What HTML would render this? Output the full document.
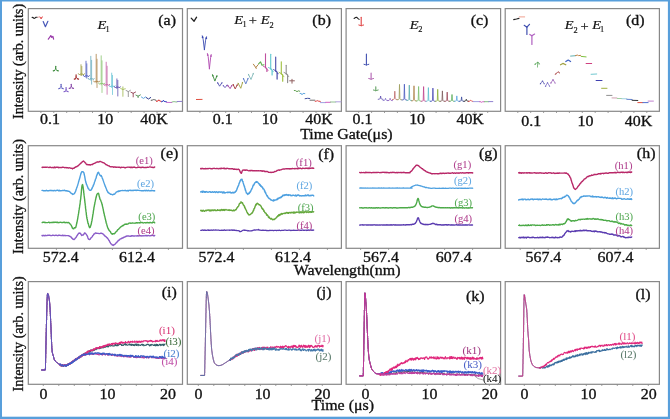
<!DOCTYPE html>
<html><head><meta charset="utf-8"><style>
html,body{margin:0;padding:0;background:#fff;}
body{width:670px;height:419px;overflow:hidden;}
svg{display:block;font-family:"Liberation Serif",serif;will-change:transform;}
</style></head><body>
<svg width="670" height="419" viewBox="0 0 670 419">
<rect x="0" y="0" width="670" height="419" fill="#fff"/>
<rect x="28.3" y="8.6" width="154.2" height="102.7" fill="none" stroke="#888888" stroke-width="1.2"/>
<rect x="187.3" y="8.6" width="154.1" height="102.7" fill="none" stroke="#888888" stroke-width="1.2"/>
<rect x="346.1" y="8.6" width="154.5" height="102.7" fill="none" stroke="#888888" stroke-width="1.2"/>
<rect x="505.2" y="8.6" width="154.2" height="102.7" fill="none" stroke="#888888" stroke-width="1.2"/>
<rect x="28.3" y="145.7" width="154.2" height="102.6" fill="none" stroke="#888888" stroke-width="1.2"/>
<rect x="187.3" y="145.7" width="154.1" height="102.6" fill="none" stroke="#888888" stroke-width="1.2"/>
<rect x="346.1" y="145.7" width="154.5" height="102.6" fill="none" stroke="#888888" stroke-width="1.2"/>
<rect x="505.2" y="145.7" width="154.2" height="102.6" fill="none" stroke="#888888" stroke-width="1.2"/>
<rect x="28.3" y="281.6" width="154.2" height="102.7" fill="none" stroke="#888888" stroke-width="1.2"/>
<rect x="187.3" y="281.6" width="154.1" height="102.7" fill="none" stroke="#888888" stroke-width="1.2"/>
<rect x="346.1" y="281.6" width="154.5" height="102.7" fill="none" stroke="#888888" stroke-width="1.2"/>
<rect x="505.2" y="281.6" width="154.2" height="102.7" fill="none" stroke="#888888" stroke-width="1.2"/>
<line x1="40.9" y1="111.3" x2="40.9" y2="112.89999999999999" stroke="#888888" stroke-width="0.9"/>
<line x1="53.8" y1="111.3" x2="53.8" y2="112.89999999999999" stroke="#888888" stroke-width="0.9"/>
<line x1="66.7" y1="111.3" x2="66.7" y2="112.89999999999999" stroke="#888888" stroke-width="0.9"/>
<line x1="79.6" y1="111.3" x2="79.6" y2="112.89999999999999" stroke="#888888" stroke-width="0.9"/>
<line x1="92.5" y1="111.3" x2="92.5" y2="112.89999999999999" stroke="#888888" stroke-width="0.9"/>
<line x1="105.4" y1="111.3" x2="105.4" y2="112.89999999999999" stroke="#888888" stroke-width="0.9"/>
<line x1="118.3" y1="111.3" x2="118.3" y2="112.89999999999999" stroke="#888888" stroke-width="0.9"/>
<line x1="131.2" y1="111.3" x2="131.2" y2="112.89999999999999" stroke="#888888" stroke-width="0.9"/>
<line x1="144.1" y1="111.3" x2="144.1" y2="112.89999999999999" stroke="#888888" stroke-width="0.9"/>
<line x1="157.0" y1="111.3" x2="157.0" y2="112.89999999999999" stroke="#888888" stroke-width="0.9"/>
<line x1="169.9" y1="111.3" x2="169.9" y2="112.89999999999999" stroke="#888888" stroke-width="0.9"/>
<line x1="199.9" y1="111.3" x2="199.9" y2="112.89999999999999" stroke="#888888" stroke-width="0.9"/>
<line x1="212.8" y1="111.3" x2="212.8" y2="112.89999999999999" stroke="#888888" stroke-width="0.9"/>
<line x1="225.7" y1="111.3" x2="225.7" y2="112.89999999999999" stroke="#888888" stroke-width="0.9"/>
<line x1="238.6" y1="111.3" x2="238.6" y2="112.89999999999999" stroke="#888888" stroke-width="0.9"/>
<line x1="251.5" y1="111.3" x2="251.5" y2="112.89999999999999" stroke="#888888" stroke-width="0.9"/>
<line x1="264.4" y1="111.3" x2="264.4" y2="112.89999999999999" stroke="#888888" stroke-width="0.9"/>
<line x1="277.3" y1="111.3" x2="277.3" y2="112.89999999999999" stroke="#888888" stroke-width="0.9"/>
<line x1="290.2" y1="111.3" x2="290.2" y2="112.89999999999999" stroke="#888888" stroke-width="0.9"/>
<line x1="303.1" y1="111.3" x2="303.1" y2="112.89999999999999" stroke="#888888" stroke-width="0.9"/>
<line x1="316.0" y1="111.3" x2="316.0" y2="112.89999999999999" stroke="#888888" stroke-width="0.9"/>
<line x1="328.9" y1="111.3" x2="328.9" y2="112.89999999999999" stroke="#888888" stroke-width="0.9"/>
<line x1="358.7" y1="111.3" x2="358.7" y2="112.89999999999999" stroke="#888888" stroke-width="0.9"/>
<line x1="371.6" y1="111.3" x2="371.6" y2="112.89999999999999" stroke="#888888" stroke-width="0.9"/>
<line x1="384.5" y1="111.3" x2="384.5" y2="112.89999999999999" stroke="#888888" stroke-width="0.9"/>
<line x1="397.4" y1="111.3" x2="397.4" y2="112.89999999999999" stroke="#888888" stroke-width="0.9"/>
<line x1="410.3" y1="111.3" x2="410.3" y2="112.89999999999999" stroke="#888888" stroke-width="0.9"/>
<line x1="423.2" y1="111.3" x2="423.2" y2="112.89999999999999" stroke="#888888" stroke-width="0.9"/>
<line x1="436.1" y1="111.3" x2="436.1" y2="112.89999999999999" stroke="#888888" stroke-width="0.9"/>
<line x1="449.0" y1="111.3" x2="449.0" y2="112.89999999999999" stroke="#888888" stroke-width="0.9"/>
<line x1="461.9" y1="111.3" x2="461.9" y2="112.89999999999999" stroke="#888888" stroke-width="0.9"/>
<line x1="474.8" y1="111.3" x2="474.8" y2="112.89999999999999" stroke="#888888" stroke-width="0.9"/>
<line x1="487.7" y1="111.3" x2="487.7" y2="112.89999999999999" stroke="#888888" stroke-width="0.9"/>
<line x1="517.8" y1="111.3" x2="517.8" y2="112.89999999999999" stroke="#888888" stroke-width="0.9"/>
<line x1="530.7" y1="111.3" x2="530.7" y2="112.89999999999999" stroke="#888888" stroke-width="0.9"/>
<line x1="543.6" y1="111.3" x2="543.6" y2="112.89999999999999" stroke="#888888" stroke-width="0.9"/>
<line x1="556.5" y1="111.3" x2="556.5" y2="112.89999999999999" stroke="#888888" stroke-width="0.9"/>
<line x1="569.4" y1="111.3" x2="569.4" y2="112.89999999999999" stroke="#888888" stroke-width="0.9"/>
<line x1="582.3" y1="111.3" x2="582.3" y2="112.89999999999999" stroke="#888888" stroke-width="0.9"/>
<line x1="595.2" y1="111.3" x2="595.2" y2="112.89999999999999" stroke="#888888" stroke-width="0.9"/>
<line x1="608.1" y1="111.3" x2="608.1" y2="112.89999999999999" stroke="#888888" stroke-width="0.9"/>
<line x1="621.0" y1="111.3" x2="621.0" y2="112.89999999999999" stroke="#888888" stroke-width="0.9"/>
<line x1="633.9" y1="111.3" x2="633.9" y2="112.89999999999999" stroke="#888888" stroke-width="0.9"/>
<line x1="646.8" y1="111.3" x2="646.8" y2="112.89999999999999" stroke="#888888" stroke-width="0.9"/>
<line x1="56.4" y1="248.3" x2="56.4" y2="249.9" stroke="#888888" stroke-width="0.9"/>
<line x1="84.4" y1="248.3" x2="84.4" y2="249.9" stroke="#888888" stroke-width="0.9"/>
<line x1="112.4" y1="248.3" x2="112.4" y2="249.9" stroke="#888888" stroke-width="0.9"/>
<line x1="140.4" y1="248.3" x2="140.4" y2="249.9" stroke="#888888" stroke-width="0.9"/>
<line x1="168.4" y1="248.3" x2="168.4" y2="249.9" stroke="#888888" stroke-width="0.9"/>
<line x1="215.4" y1="248.3" x2="215.4" y2="249.9" stroke="#888888" stroke-width="0.9"/>
<line x1="243.4" y1="248.3" x2="243.4" y2="249.9" stroke="#888888" stroke-width="0.9"/>
<line x1="271.4" y1="248.3" x2="271.4" y2="249.9" stroke="#888888" stroke-width="0.9"/>
<line x1="299.4" y1="248.3" x2="299.4" y2="249.9" stroke="#888888" stroke-width="0.9"/>
<line x1="327.4" y1="248.3" x2="327.4" y2="249.9" stroke="#888888" stroke-width="0.9"/>
<line x1="360.6" y1="248.3" x2="360.6" y2="249.9" stroke="#888888" stroke-width="0.9"/>
<line x1="388.6" y1="248.3" x2="388.6" y2="249.9" stroke="#888888" stroke-width="0.9"/>
<line x1="416.6" y1="248.3" x2="416.6" y2="249.9" stroke="#888888" stroke-width="0.9"/>
<line x1="444.6" y1="248.3" x2="444.6" y2="249.9" stroke="#888888" stroke-width="0.9"/>
<line x1="472.6" y1="248.3" x2="472.6" y2="249.9" stroke="#888888" stroke-width="0.9"/>
<line x1="520.2" y1="248.3" x2="520.2" y2="249.9" stroke="#888888" stroke-width="0.9"/>
<line x1="534.2" y1="248.3" x2="534.2" y2="249.9" stroke="#888888" stroke-width="0.9"/>
<line x1="548.2" y1="248.3" x2="548.2" y2="249.9" stroke="#888888" stroke-width="0.9"/>
<line x1="562.2" y1="248.3" x2="562.2" y2="249.9" stroke="#888888" stroke-width="0.9"/>
<line x1="576.2" y1="248.3" x2="576.2" y2="249.9" stroke="#888888" stroke-width="0.9"/>
<line x1="590.2" y1="248.3" x2="590.2" y2="249.9" stroke="#888888" stroke-width="0.9"/>
<line x1="604.2" y1="248.3" x2="604.2" y2="249.9" stroke="#888888" stroke-width="0.9"/>
<line x1="618.2" y1="248.3" x2="618.2" y2="249.9" stroke="#888888" stroke-width="0.9"/>
<line x1="632.2" y1="248.3" x2="632.2" y2="249.9" stroke="#888888" stroke-width="0.9"/>
<line x1="646.2" y1="248.3" x2="646.2" y2="249.9" stroke="#888888" stroke-width="0.9"/>
<line x1="43.3" y1="384.3" x2="43.3" y2="385.90000000000003" stroke="#888888" stroke-width="0.9"/>
<line x1="58.8" y1="384.3" x2="58.8" y2="385.90000000000003" stroke="#888888" stroke-width="0.9"/>
<line x1="74.3" y1="384.3" x2="74.3" y2="385.90000000000003" stroke="#888888" stroke-width="0.9"/>
<line x1="89.8" y1="384.3" x2="89.8" y2="385.90000000000003" stroke="#888888" stroke-width="0.9"/>
<line x1="105.3" y1="384.3" x2="105.3" y2="385.90000000000003" stroke="#888888" stroke-width="0.9"/>
<line x1="120.8" y1="384.3" x2="120.8" y2="385.90000000000003" stroke="#888888" stroke-width="0.9"/>
<line x1="136.3" y1="384.3" x2="136.3" y2="385.90000000000003" stroke="#888888" stroke-width="0.9"/>
<line x1="151.8" y1="384.3" x2="151.8" y2="385.90000000000003" stroke="#888888" stroke-width="0.9"/>
<line x1="167.3" y1="384.3" x2="167.3" y2="385.90000000000003" stroke="#888888" stroke-width="0.9"/>
<line x1="198.3" y1="384.3" x2="198.3" y2="385.90000000000003" stroke="#888888" stroke-width="0.9"/>
<line x1="213.8" y1="384.3" x2="213.8" y2="385.90000000000003" stroke="#888888" stroke-width="0.9"/>
<line x1="229.3" y1="384.3" x2="229.3" y2="385.90000000000003" stroke="#888888" stroke-width="0.9"/>
<line x1="244.8" y1="384.3" x2="244.8" y2="385.90000000000003" stroke="#888888" stroke-width="0.9"/>
<line x1="260.3" y1="384.3" x2="260.3" y2="385.90000000000003" stroke="#888888" stroke-width="0.9"/>
<line x1="275.8" y1="384.3" x2="275.8" y2="385.90000000000003" stroke="#888888" stroke-width="0.9"/>
<line x1="291.3" y1="384.3" x2="291.3" y2="385.90000000000003" stroke="#888888" stroke-width="0.9"/>
<line x1="306.8" y1="384.3" x2="306.8" y2="385.90000000000003" stroke="#888888" stroke-width="0.9"/>
<line x1="322.3" y1="384.3" x2="322.3" y2="385.90000000000003" stroke="#888888" stroke-width="0.9"/>
<line x1="365.3" y1="384.3" x2="365.3" y2="385.90000000000003" stroke="#888888" stroke-width="0.9"/>
<line x1="380.8" y1="384.3" x2="380.8" y2="385.90000000000003" stroke="#888888" stroke-width="0.9"/>
<line x1="396.3" y1="384.3" x2="396.3" y2="385.90000000000003" stroke="#888888" stroke-width="0.9"/>
<line x1="411.8" y1="384.3" x2="411.8" y2="385.90000000000003" stroke="#888888" stroke-width="0.9"/>
<line x1="427.3" y1="384.3" x2="427.3" y2="385.90000000000003" stroke="#888888" stroke-width="0.9"/>
<line x1="442.8" y1="384.3" x2="442.8" y2="385.90000000000003" stroke="#888888" stroke-width="0.9"/>
<line x1="458.3" y1="384.3" x2="458.3" y2="385.90000000000003" stroke="#888888" stroke-width="0.9"/>
<line x1="473.8" y1="384.3" x2="473.8" y2="385.90000000000003" stroke="#888888" stroke-width="0.9"/>
<line x1="489.3" y1="384.3" x2="489.3" y2="385.90000000000003" stroke="#888888" stroke-width="0.9"/>
<line x1="524.3" y1="384.3" x2="524.3" y2="385.90000000000003" stroke="#888888" stroke-width="0.9"/>
<line x1="539.8" y1="384.3" x2="539.8" y2="385.90000000000003" stroke="#888888" stroke-width="0.9"/>
<line x1="555.3" y1="384.3" x2="555.3" y2="385.90000000000003" stroke="#888888" stroke-width="0.9"/>
<line x1="570.8" y1="384.3" x2="570.8" y2="385.90000000000003" stroke="#888888" stroke-width="0.9"/>
<line x1="586.3" y1="384.3" x2="586.3" y2="385.90000000000003" stroke="#888888" stroke-width="0.9"/>
<line x1="601.8" y1="384.3" x2="601.8" y2="385.90000000000003" stroke="#888888" stroke-width="0.9"/>
<line x1="617.3" y1="384.3" x2="617.3" y2="385.90000000000003" stroke="#888888" stroke-width="0.9"/>
<line x1="632.8" y1="384.3" x2="632.8" y2="385.90000000000003" stroke="#888888" stroke-width="0.9"/>
<line x1="648.3" y1="384.3" x2="648.3" y2="385.90000000000003" stroke="#888888" stroke-width="0.9"/>
<polyline points="42.0,167.3 42.3,167.2 42.7,167.5 43.1,167.1 43.6,167.4 44.1,167.3 44.6,167.1 45.1,167.4 45.7,167.1 46.3,167.4 47.0,167.1 47.6,167.1 48.3,167.4 49.0,167.6 49.7,167.2 50.4,167.2 51.1,167.5 51.8,167.7 52.5,167.5 53.2,167.4 53.9,167.8 54.6,167.1 55.3,167.7 56.0,167.3 56.6,167.2 57.3,167.2 57.9,167.3 58.4,167.7 59.0,167.3 59.5,167.5 60.0,167.6 60.9,167.4 61.7,167.6 62.5,167.2 63.2,167.3 63.9,167.4 64.6,167.7 65.3,167.6 65.9,167.5 66.5,167.8 67.1,167.7 67.6,167.6 68.2,168.0 68.7,168.0 69.1,167.7 69.6,167.9 70.0,167.9 71.0,168.3 71.7,168.4 72.1,168.3 72.5,168.9 73.2,168.1 73.7,168.2 74.2,168.2 74.7,167.5 75.3,167.4 75.9,166.7 76.4,166.8 77.0,166.5 77.6,166.0 78.1,165.8 78.6,165.1 79.2,164.9 79.7,164.3 80.2,163.8 80.7,163.2 81.2,163.0 81.6,162.7 82.0,162.0 82.4,161.8 83.4,161.0 84.0,161.6 84.5,161.8 85.0,162.6 85.3,162.9 85.7,163.1 86.1,163.8 86.6,164.5 87.2,164.4 87.7,164.8 88.3,164.7 88.9,164.7 89.5,164.7 90.2,165.1 90.9,164.6 91.5,164.5 92.0,164.4 92.6,164.5 93.2,163.7 93.7,163.6 94.3,163.4 94.8,163.3 95.3,162.9 95.8,162.8 96.5,162.1 97.2,162.0 97.8,161.8 98.4,162.0 99.0,162.0 99.6,161.5 100.3,161.5 100.9,161.7 101.6,161.9 102.3,162.3 102.8,162.6 103.3,162.6 103.9,162.8 104.5,163.4 105.0,163.7 105.6,164.2 106.1,164.7 106.6,164.8 107.3,165.1 107.8,165.5 108.4,165.9 109.0,165.7 109.8,166.6 110.3,166.6 110.7,166.8 111.2,166.9 111.7,166.8 112.2,166.9 112.8,166.8 113.5,167.3 114.2,167.0 115.1,167.0 116.0,167.2 116.4,167.2 116.9,167.3 117.4,167.1 117.8,167.1 118.3,167.2 118.8,167.2 119.3,167.4 119.9,167.2 120.4,167.8 121.0,167.6 121.5,167.2 122.1,167.3 122.8,167.4 123.4,167.4 124.0,167.2 124.7,167.7 125.4,167.8 126.1,167.4 126.8,167.4 127.6,167.1 128.4,167.1 129.2,167.3 130.0,167.2 130.5,167.6 131.0,167.2 131.5,167.1 132.1,167.7 132.7,167.4 133.3,167.1 133.9,167.4 134.5,167.0 135.2,167.4 135.8,167.7 136.5,167.6 137.2,167.5 137.9,167.2 138.6,167.2 139.3,167.1 140.0,167.5 140.7,167.3 141.4,167.5 142.2,167.2 142.9,167.1 143.6,167.5 144.3,167.6 145.0,167.5 145.7,167.5 146.4,167.5 147.0,167.4 147.7,167.1 148.3,167.3 149.0,167.1 149.6,166.9 150.2,166.9 150.7,167.1 151.3,167.1 151.8,167.4 152.3,167.5 152.8,167.2 153.2,167.5 153.6,167.6 154.0,167.5 154.4,167.1 154.7,167.0" fill="none" stroke="#b82868" stroke-width="1.4" stroke-linejoin="round" stroke-linecap="round" opacity="1.0" />
<polyline points="42.0,190.4 42.3,190.4 42.7,190.4 43.1,190.7 43.6,190.9 44.1,190.8 44.6,190.6 45.2,190.7 45.8,190.8 46.4,190.3 47.0,190.7 47.7,190.8 48.4,190.7 49.1,190.7 49.8,190.5 50.5,190.3 51.2,190.7 51.9,190.4 52.7,190.7 53.4,190.8 54.1,190.4 54.8,190.4 55.4,190.8 56.1,190.6 56.8,190.3 57.4,190.2 58.0,190.2 58.5,190.8 59.1,190.7 59.5,190.2 60.0,190.7 61.0,190.8 61.8,190.6 62.6,190.4 63.3,190.6 64.0,190.3 64.6,190.2 65.1,190.9 65.6,190.7 66.1,190.6 66.6,191.0 67.1,190.7 67.5,191.1 68.0,191.2 68.7,191.1 69.3,191.5 69.9,191.9 70.4,192.4 70.9,193.1 71.4,193.3 71.9,193.8 72.3,193.8 72.7,194.5 73.3,194.1 73.7,194.0 74.1,193.8 74.5,193.5 74.9,192.5 75.4,191.9 75.6,191.2 75.8,190.8 75.9,190.3 76.1,189.5 76.3,189.2 76.5,188.5 76.7,187.7 76.9,187.7 77.1,186.6 77.3,186.2 77.5,185.7 77.7,185.0 77.9,184.2 78.1,183.7 78.2,183.1 78.4,182.7 78.6,181.6 78.8,181.3 79.0,180.4 79.2,179.7 79.4,179.4 79.6,178.5 79.8,177.8 80.0,177.3 80.1,176.7 80.3,175.7 80.5,175.2 80.7,174.6 80.8,174.0 81.0,173.6 81.2,173.0 81.3,172.7 81.9,171.6 82.4,171.8 82.9,171.8 83.3,172.0 83.6,172.4 84.0,173.1 84.1,173.7 84.2,174.5 84.3,174.9 84.4,175.0 84.5,175.6 84.7,176.4 84.8,176.8 84.9,177.6 85.0,178.2 85.2,179.3 85.3,180.1 85.5,180.9 85.6,181.0 85.8,182.0 85.9,182.6 86.1,182.8 86.3,184.0 86.6,184.7 86.9,184.9 87.2,186.1 87.5,186.4 87.7,187.1 88.0,188.1 88.3,188.6 88.6,188.6 88.9,189.3 89.2,189.7 89.4,189.9 90.1,190.4 90.8,190.3 91.5,189.6 91.7,188.7 91.9,188.7 92.2,188.1 92.4,187.3 92.6,187.0 92.9,186.6 93.2,185.9 93.4,184.9 93.7,184.9 93.9,184.1 94.2,183.5 94.4,182.3 94.7,181.7 94.9,181.0 95.1,180.9 95.3,179.9 95.5,179.2 95.8,178.7 96.0,178.3 96.2,177.6 96.4,176.5 96.6,175.7 96.8,175.6 97.1,174.8 97.3,174.3 97.5,173.4 97.6,173.0 97.8,173.1 98.0,172.6 98.5,172.2 99.0,173.3 99.4,174.0 99.7,175.0 100.1,175.1 100.6,175.9 101.1,175.4 101.7,176.8 101.9,176.8 102.0,177.2 102.2,177.8 102.4,178.6 102.6,178.8 102.8,179.3 103.1,180.2 103.3,180.6 103.5,181.2 103.7,181.9 103.9,182.5 104.2,183.2 104.4,183.9 104.6,184.5 104.9,185.4 105.1,185.7 105.3,186.5 105.6,186.9 105.8,187.7 106.1,188.1 106.3,188.9 106.6,189.3 106.8,190.3 107.1,190.7 107.3,191.0 107.6,191.6 108.1,192.6 108.6,192.5 109.1,193.4 109.6,193.5 110.1,193.8 110.5,194.2 111.0,194.1 111.6,194.4 112.2,194.6 112.7,194.9 113.3,194.3 114.0,194.4 114.4,194.1 114.9,193.8 115.3,193.2 115.8,192.8 116.2,192.2 116.8,191.9 117.3,191.5 118.0,191.7 118.4,191.2 118.8,191.0 119.1,190.8 119.4,191.2 119.7,191.2 120.1,191.0 120.7,190.6 121.4,190.6 122.3,190.5 123.5,190.6 125.0,190.4 125.4,190.6 125.8,190.4 126.3,190.9 126.7,190.9 127.2,190.6 127.8,190.4 128.3,190.9 128.9,190.4 129.5,190.4 130.1,190.2 130.7,190.5 131.4,190.5 132.0,190.5 132.7,190.3 133.4,190.5 134.1,190.2 134.8,190.4 135.5,190.2 136.2,190.5 137.0,190.2 137.7,190.2 138.4,190.4 139.2,190.4 139.9,190.6 140.7,190.6 141.4,190.7 142.1,190.7 142.9,190.7 143.6,190.8 144.3,190.5 145.0,190.4 145.7,190.9 146.4,190.3 147.1,190.7 147.7,190.7 148.4,190.3 149.0,190.8 149.6,190.9 150.2,190.7 150.7,190.8 151.3,190.8 151.8,190.3 152.3,190.6 152.8,190.6 153.2,190.8 153.6,190.8 154.0,190.8 154.4,190.7 154.7,190.9" fill="none" stroke="#4da0e0" stroke-width="1.4" stroke-linejoin="round" stroke-linecap="round" opacity="1.0" />
<polyline points="42.0,222.6 42.3,222.6 42.7,222.3 43.1,222.2 43.5,222.2 44.0,222.4 44.5,222.2 45.1,222.7 45.6,222.5 46.2,222.6 46.9,222.6 47.5,222.6 48.2,222.4 48.9,222.1 49.6,222.7 50.3,222.6 51.0,222.4 51.7,222.5 52.4,222.5 53.2,222.1 53.9,222.6 54.7,222.2 55.4,222.1 56.1,222.2 56.9,222.6 57.6,222.2 58.3,222.6 59.0,222.7 59.6,222.4 60.3,222.3 60.9,222.4 61.5,222.5 62.1,222.6 62.7,222.5 63.2,222.5 63.7,222.2 64.2,222.2 64.6,222.3 65.0,222.7 66.5,222.4 67.6,222.7 68.3,222.4 68.8,222.6 69.1,222.9 69.3,223.3 69.6,223.6 70.0,223.9 70.5,224.1 70.9,224.8 71.3,225.4 71.6,226.1 71.9,226.6 72.2,227.7 72.5,227.7 72.8,228.6 73.7,228.9 74.5,227.7 74.9,227.8 75.3,227.9 75.7,227.5 76.1,226.0 76.2,225.5 76.3,225.0 76.4,225.1 76.5,224.0 76.7,223.8 76.8,222.9 76.9,222.6 77.0,222.3 77.2,221.1 77.3,220.9 77.4,220.0 77.5,219.6 77.7,218.8 77.8,217.7 77.9,217.5 78.0,216.5 78.2,215.4 78.3,214.7 78.4,214.5 78.5,213.9 78.6,213.2 78.7,212.6 78.8,212.1 78.8,211.5 78.9,211.3 79.0,210.1 79.1,210.0 79.2,209.4 79.3,208.2 79.4,208.2 79.5,207.4 79.6,206.9 79.7,205.8 79.8,205.2 79.9,204.6 80.0,204.4 80.1,203.5 80.1,202.7 80.2,202.2 80.3,201.5 80.4,200.7 80.5,200.2 80.5,200.2 80.6,199.2 80.7,199.0 80.8,197.8 80.8,197.1 80.9,196.6 81.0,195.7 81.1,195.1 81.1,194.9 81.2,194.1 81.2,193.4 81.3,192.7 81.3,192.3 81.4,191.7 81.4,190.9 81.5,190.4 81.5,189.5 81.6,189.4 81.6,188.8 81.7,188.6 81.7,188.1 81.9,186.6 82.0,185.7 82.1,185.8 82.2,184.9 82.3,185.0 82.6,184.6 83.0,186.4 83.1,187.0 83.1,187.6 83.2,187.5 83.2,188.3 83.3,188.5 83.4,189.3 83.4,189.7 83.5,190.1 83.6,190.7 83.7,191.4 83.7,192.5 83.8,192.9 83.9,193.4 84.0,194.6 84.1,195.4 84.2,195.7 84.2,196.2 84.3,197.0 84.4,197.6 84.5,198.6 84.6,199.1 84.7,199.8 84.7,200.3 84.8,201.1 84.9,201.9 84.9,202.5 85.0,202.9 85.1,203.5 85.2,204.2 85.2,204.8 85.3,205.4 85.4,205.9 85.5,206.7 85.5,207.9 85.6,208.0 85.7,208.9 85.8,209.6 85.9,210.5 85.9,210.7 86.0,211.4 86.1,212.0 86.2,212.7 86.3,213.4 86.3,214.3 86.4,214.8 86.5,215.4 86.6,215.4 86.6,215.9 86.7,216.9 86.8,217.5 86.9,218.0 87.1,219.0 87.3,219.3 87.4,220.3 87.6,221.4 87.7,222.0 87.9,222.6 88.0,223.3 88.2,223.4 88.3,223.8 88.5,224.3 88.6,225.0 88.8,225.5 88.9,226.1 89.0,226.3 89.6,227.7 90.1,227.4 90.3,226.9 90.4,226.6 90.6,225.8 90.7,225.8 90.9,224.9 91.1,224.7 91.3,223.7 91.5,222.6 91.7,221.4 91.8,221.1 91.9,220.9 92.0,220.4 92.1,219.4 92.2,218.8 92.3,218.6 92.4,218.0 92.5,217.2 92.6,216.5 92.7,216.1 92.8,215.0 92.9,214.5 93.0,214.0 93.1,213.7 93.2,212.8 93.3,212.3 93.4,211.3 93.5,210.5 93.6,209.9 93.7,209.8 93.8,209.0 93.9,208.2 94.0,207.3 94.1,206.9 94.3,206.3 94.4,205.5 94.5,204.7 94.7,204.3 94.8,203.8 94.9,202.6 95.1,201.8 95.2,201.4 95.3,200.8 95.4,200.4 95.6,199.5 95.7,199.3 95.8,198.7 95.9,198.1 96.0,197.4 96.1,197.5 96.4,196.0 96.6,195.6 96.8,194.7 97.0,194.2 97.2,194.3 97.4,193.7 97.9,193.5 98.3,193.2 98.5,193.3 98.7,193.9 98.9,194.7 99.1,195.6 99.2,196.4 99.4,196.5 99.5,197.3 99.7,197.9 99.9,199.1 100.1,199.1 100.3,199.6 100.6,200.0 100.8,200.6 101.1,201.5 101.4,202.1 101.7,203.0 101.8,203.6 101.9,204.0 102.0,204.0 102.2,204.4 102.3,205.5 102.4,205.9 102.5,206.0 102.6,207.0 102.8,207.4 102.9,208.0 103.0,208.6 103.2,209.2 103.3,209.7 103.4,210.6 103.6,211.3 103.7,212.4 103.9,212.5 104.0,213.7 104.2,213.7 104.3,214.4 104.4,215.3 104.6,216.0 104.7,216.4 104.9,216.7 105.0,217.7 105.2,218.3 105.4,219.4 105.5,219.5 105.7,220.3 105.8,221.3 106.0,221.4 106.1,222.3 106.3,223.2 106.5,223.7 106.6,223.8 106.8,224.3 106.9,224.9 107.1,225.9 107.2,225.9 107.5,227.1 107.8,228.0 108.1,228.3 108.4,228.8 108.6,229.8 108.9,230.0 109.2,230.2 109.4,230.9 109.7,231.0 110.0,231.3 110.5,231.8 110.9,232.9 111.4,233.5 111.9,233.7 112.3,234.2 112.8,233.7 113.3,233.8 113.8,233.8 114.4,233.8 114.9,233.3 115.5,232.4 115.9,231.9 116.3,231.6 116.7,231.2 117.1,230.9 117.5,229.9 118.0,229.7 118.5,229.2 119.0,228.7 119.4,228.3 119.9,227.8 120.4,227.2 120.8,226.9 121.3,226.5 121.9,226.4 122.4,225.6 122.9,225.4 123.5,225.5 124.0,224.8 124.5,224.4 125.1,224.2 125.6,224.4 126.1,224.0 126.7,224.3 127.3,224.1 127.9,224.0 128.5,223.4 129.2,223.1 130.0,223.0 130.5,223.2 131.0,223.3 131.6,223.1 132.1,222.9 132.7,223.0 133.3,223.1 133.8,223.1 134.5,223.1 135.1,223.2 135.7,223.0 136.4,222.6 137.1,223.1 137.8,222.7 138.5,222.9 139.2,222.7 140.0,223.0 140.5,222.6 141.1,222.6 141.7,222.6 142.3,222.5 143.0,223.0 143.7,222.8 144.4,222.6 145.1,222.6 145.8,223.0 146.5,222.7 147.3,222.4 148.0,222.8 148.7,222.7 149.4,222.9 150.1,222.3 150.7,222.6 151.3,222.8 151.9,222.8 152.5,222.8 153.0,222.2 153.5,222.4 154.0,222.2 154.4,222.3 154.7,222.8" fill="none" stroke="#4caa48" stroke-width="1.4" stroke-linejoin="round" stroke-linecap="round" opacity="1.0" />
<polyline points="42.0,235.5 42.3,235.8 42.7,235.4 43.1,235.7 43.5,235.5 44.0,235.4 44.5,235.7 45.0,235.8 45.6,235.3 46.2,235.6 46.8,235.6 47.4,235.3 48.1,235.4 48.7,235.3 49.4,235.3 50.1,235.3 50.8,235.6 51.6,235.6 52.3,235.3 53.0,235.2 53.8,235.4 54.5,235.6 55.2,235.3 56.0,235.4 56.7,235.3 57.4,235.7 58.1,235.5 58.8,235.2 59.5,235.3 60.2,235.4 60.8,235.5 61.5,235.6 62.1,235.3 62.7,235.3 63.3,235.7 63.8,235.5 64.3,235.4 64.8,235.5 65.2,235.8 65.6,235.5 66.0,235.6 67.8,235.6 68.8,235.7 69.3,236.1 69.4,236.3 69.6,236.1 70.0,236.3 70.5,236.9 71.0,237.0 71.5,237.4 72.0,238.4 72.5,238.6 73.0,239.2 73.5,239.2 73.9,239.6 74.4,239.2 74.9,238.7 75.3,238.1 75.7,237.8 76.1,237.2 76.5,236.7 76.9,235.7 77.3,235.4 77.7,234.7 78.1,234.1 78.6,233.4 79.0,233.1 79.4,233.0 79.9,233.4 80.4,233.3 80.9,234.1 81.3,234.9 81.8,235.5 82.3,235.2 82.8,235.0 83.2,235.0 83.7,234.5 84.2,233.6 84.6,232.9 85.0,233.3 85.4,233.1 85.9,233.8 86.2,234.2 86.6,235.0 87.0,235.3 87.3,236.2 87.6,236.6 87.8,237.4 88.1,238.4 88.4,239.0 88.7,239.1 89.0,239.4 89.5,239.5 90.0,239.3 90.5,238.7 91.0,237.9 91.5,237.3 91.9,237.1 92.3,236.6 92.8,235.5 93.2,235.2 93.6,234.8 94.0,233.9 94.7,233.8 95.4,233.0 96.1,233.2 96.8,233.2 97.5,233.4 98.3,233.4 99.0,233.6 99.7,233.6 100.4,233.3 101.0,233.3 101.7,233.3 102.2,233.5 102.8,233.7 103.3,234.5 103.9,234.9 104.5,235.3 104.9,236.0 105.3,236.4 105.8,236.7 106.3,236.9 106.7,237.6 107.2,237.8 107.6,238.3 108.0,239.0 108.4,239.3 108.8,240.1 109.2,240.8 109.5,241.1 109.8,242.1 110.2,242.3 110.5,243.1 111.0,243.8 111.4,244.2 111.9,244.4 112.3,245.0 112.8,245.1 113.3,245.4 113.8,244.7 114.3,244.7 114.9,244.3 115.5,243.6 115.9,243.3 116.3,242.5 116.7,242.6 117.1,241.8 117.5,241.6 118.0,241.1 118.5,240.2 119.0,240.2 119.5,239.9 120.0,239.1 120.5,238.9 121.1,238.8 121.6,238.2 122.2,238.3 122.8,237.7 123.4,237.7 124.0,237.1 124.5,237.1 124.8,237.2 125.1,236.6 125.4,236.5 125.8,236.5 126.2,236.3 126.8,236.0 127.6,236.0 128.6,235.9 130.0,236.3 130.4,236.1 130.8,236.2 131.3,235.7 131.8,236.1 132.3,235.7 132.8,235.9 133.4,236.0 134.0,235.8 134.6,236.1 135.3,235.9 135.9,235.9 136.6,236.0 137.3,235.6 138.0,236.1 138.7,235.8 139.4,235.7 140.2,235.9 140.9,235.6 141.6,236.0 142.4,235.8 143.1,235.6 143.8,235.9 144.6,235.7 145.3,235.5 146.0,235.8 146.7,235.4 147.4,235.9 148.1,235.5 148.7,235.7 149.4,235.9 150.0,235.7 150.6,235.7 151.2,235.5 151.7,235.3 152.2,235.3 152.7,235.4 153.2,235.7 153.6,235.6 154.0,235.6 154.4,235.8 154.7,235.4" fill="none" stroke="#8a5cc8" stroke-width="1.4" stroke-linejoin="round" stroke-linecap="round" opacity="1.0" />
<polyline points="200.7,168.6 201.0,168.9 201.4,168.5 201.8,168.5 202.2,168.7 202.7,168.5 203.2,168.7 203.7,168.6 204.2,168.8 204.8,168.8 205.4,168.5 206.0,168.8 206.6,168.7 207.3,168.5 207.9,168.9 208.6,168.5 209.3,168.4 210.0,168.4 210.7,168.7 211.4,168.8 212.2,168.8 212.9,168.5 213.6,168.4 214.3,168.3 215.1,168.6 215.8,168.6 216.5,168.4 217.2,168.6 217.9,168.5 218.6,168.8 219.3,168.6 220.0,168.3 220.6,168.7 221.2,168.2 221.8,168.5 222.4,168.4 223.0,168.3 223.5,168.2 224.1,168.7 224.5,168.2 225.0,168.5 226.0,168.8 226.8,168.3 227.7,168.4 228.5,168.7 229.2,168.7 229.9,168.8 230.6,168.9 231.2,168.6 231.8,168.7 232.4,168.8 232.9,168.7 233.4,169.2 233.9,169.2 234.3,169.3 234.8,168.9 235.2,169.4 235.6,169.4 236.0,169.3 237.1,169.5 237.8,169.4 238.2,169.2 238.6,169.3 239.0,169.6 239.4,170.0 239.8,170.9 240.2,171.9 240.6,172.6 241.0,173.2 241.3,173.3 241.6,172.8 241.8,172.3 242.0,171.4 242.3,170.9 242.8,170.2 243.2,169.9 243.7,170.1 244.3,170.3 244.8,169.9 245.5,170.4 246.2,170.0 246.9,170.2 247.6,170.3 248.3,170.6 248.9,170.8 249.5,170.7 250.1,170.4 250.7,170.8 251.3,170.4 252.0,170.4 252.7,170.8 253.3,170.6 254.0,170.7 254.7,170.7 255.3,170.9 256.0,170.6 256.6,170.8 257.2,170.8 257.8,170.9 258.4,170.7 259.0,170.9 259.6,170.9 260.2,170.7 260.8,170.7 261.4,171.0 262.0,170.8 262.6,171.3 263.2,170.9 263.8,170.9 264.4,171.1 265.1,171.7 265.8,171.4 266.4,171.5 267.1,171.5 267.8,171.7 268.4,172.2 269.0,172.3 269.7,172.4 270.3,172.5 270.9,172.1 271.5,172.5 272.2,172.3 272.8,172.4 273.4,172.2 274.0,172.1 274.6,171.4 275.2,171.6 275.8,171.4 276.4,171.2 277.0,170.5 277.7,170.3 278.2,170.1 278.8,169.9 279.3,170.3 279.8,170.1 280.3,169.9 280.8,169.9 281.4,169.6 282.0,169.3 282.6,169.1 283.3,168.9 284.1,169.2 285.0,168.8 285.5,168.9 285.9,168.9 286.5,168.6 287.0,168.7 287.5,168.7 288.1,168.9 288.7,168.7 289.3,168.7 289.9,169.0 290.5,168.7 291.1,168.9 291.8,168.8 292.4,168.4 293.1,168.6 293.7,168.6 294.4,168.8 295.0,168.5 295.7,168.7 296.3,168.6 297.0,168.4 297.6,168.8 298.2,168.3 298.8,168.7 299.4,168.3 300.0,168.2 300.7,168.3 301.3,168.6 302.0,168.7 302.8,168.1 303.5,168.4 304.2,168.4 304.9,168.6 305.7,168.2 306.4,168.3 307.1,168.2 307.8,168.5 308.5,168.2 309.1,168.6 309.8,168.1 310.4,168.1 311.0,168.4 311.5,168.2 312.1,168.0 312.5,168.3 313.0,168.0 313.4,168.4 313.7,168.3" fill="none" stroke="#b82868" stroke-width="1.4" stroke-linejoin="round" stroke-linecap="round" opacity="1.0" />
<polyline points="200.7,192.0 200.9,191.9 201.2,191.5 201.5,191.6 201.8,191.6 202.1,192.2 202.4,191.3 202.8,192.2 203.1,191.2 203.5,191.4 203.9,191.5 204.3,192.3 204.8,191.8 205.2,191.7 205.6,192.3 206.1,191.5 206.6,191.8 207.1,191.9 207.6,192.2 208.1,192.2 208.6,192.1 209.1,191.8 209.6,191.8 210.1,191.6 210.7,192.4 211.2,192.2 211.7,192.3 212.3,191.7 212.8,192.0 213.4,192.4 213.9,192.2 214.4,191.7 215.0,192.1 215.5,192.6 216.1,191.8 216.6,191.8 217.1,192.0 217.6,192.5 218.1,192.6 218.7,191.8 219.2,191.8 219.7,192.0 220.1,192.1 220.6,192.3 221.1,191.9 221.5,192.1 222.0,192.0 222.4,192.9 222.8,192.6 223.2,191.9 223.6,192.9 224.0,191.9 224.3,192.2 224.7,193.0 225.0,192.8 225.8,192.7 226.6,192.4 227.3,192.1 227.9,192.7 228.5,192.1 229.1,192.2 229.6,192.5 230.1,192.1 230.6,192.6 231.0,193.1 231.4,193.0 231.7,192.8 232.1,192.9 232.4,192.7 232.8,192.3 233.1,192.8 233.4,192.5 233.7,192.9 234.0,193.0 234.3,192.3 234.8,192.3 235.2,192.2 235.5,191.6 235.8,191.0 236.0,191.3 236.2,191.1 236.4,190.6 236.6,190.0 236.8,189.8 237.0,189.1 237.2,188.6 237.4,187.8 237.6,187.3 237.8,187.3 237.9,186.2 238.1,186.2 238.3,186.1 238.5,185.6 238.7,185.0 238.9,184.0 239.0,183.7 239.2,183.2 239.4,183.0 239.6,182.2 239.8,182.1 239.9,182.0 240.1,180.7 240.2,180.9 240.4,180.8 240.5,180.1 241.1,179.3 241.5,179.7 242.0,179.2 242.1,180.1 242.3,179.9 242.4,181.0 242.6,181.6 242.7,181.5 242.9,181.4 243.1,182.5 243.2,182.9 243.4,183.7 243.6,183.9 243.7,184.6 243.9,185.3 244.1,185.5 244.2,185.8 244.4,186.9 244.5,186.5 244.7,187.5 244.8,187.7 245.0,188.6 245.1,188.3 245.2,189.9 245.4,189.6 245.5,189.8 245.6,190.5 245.8,191.1 245.9,191.1 246.1,192.0 246.2,192.4 246.4,193.0 246.5,192.9 246.7,193.0 247.1,193.3 247.5,194.1 247.9,194.4 248.4,193.8 248.8,193.1 249.3,193.4 249.8,192.4 250.0,191.9 250.2,191.5 250.4,192.0 250.6,191.6 250.8,191.0 251.0,190.4 251.2,190.0 251.4,189.2 251.6,189.6 251.9,188.4 252.1,188.2 252.3,188.0 252.5,187.5 252.7,186.6 252.9,186.0 253.1,185.9 253.3,185.0 253.5,185.5 253.7,184.6 254.1,184.7 254.4,183.5 254.8,183.1 255.1,182.6 255.5,182.5 255.8,182.0 256.1,181.6 256.5,182.3 256.8,181.7 257.1,181.7 257.5,182.0 257.8,182.4 258.1,182.7 258.5,183.3 258.8,183.7 259.2,183.8 259.5,184.9 259.9,185.2 260.2,184.6 260.5,185.8 260.7,186.2 261.0,186.4 261.3,185.9 261.7,187.1 262.0,187.2 262.3,186.9 262.6,187.2 262.9,188.8 263.2,188.8 263.5,188.8 263.8,189.0 264.0,189.4 264.3,189.9 264.5,191.0 264.7,190.9 264.9,191.0 265.1,192.4 265.4,192.7 265.6,192.4 265.8,193.7 266.0,193.8 266.3,194.4 266.5,194.7 266.7,195.4 266.9,195.7 267.1,196.1 267.4,195.7 267.6,196.6 267.9,196.9 268.2,197.6 268.5,197.6 268.9,198.6 269.2,198.5 269.5,198.5 269.8,198.8 270.1,199.0 270.5,199.7 270.8,199.4 271.1,200.1 271.5,199.9 271.9,200.4 272.4,200.5 272.9,200.5 273.3,200.9 273.8,199.8 274.3,200.6 274.8,200.0 275.3,200.0 275.7,200.0 276.2,200.0 276.6,199.3 277.0,199.2 277.5,199.6 277.9,198.3 278.3,198.8 278.7,198.5 279.2,197.6 279.6,198.0 280.0,197.9 280.4,197.9 280.8,197.0 281.2,197.5 281.6,196.7 281.9,196.4 282.2,196.6 282.6,195.3 282.9,195.9 283.3,195.5 283.8,195.0 284.3,195.4 285.0,194.7 285.3,194.8 285.7,194.9 286.0,195.2 286.3,194.5 286.7,194.8 287.1,194.8 287.5,195.0 287.8,195.3 288.2,194.7 288.7,195.4 289.1,194.9 289.5,195.1 290.0,194.9 290.5,195.2 291.0,195.8 291.5,195.5 292.0,195.7 292.6,195.2 293.1,195.2 293.7,195.2 294.4,195.6 295.0,195.7 295.4,195.8 295.7,195.0 296.1,195.8 296.6,196.0 297.0,195.6 297.4,195.0 297.9,195.3 298.4,194.9 298.9,195.2 299.4,196.0 299.9,195.7 300.4,195.7 300.9,195.9 301.5,196.0 302.0,195.6 302.5,195.6 303.1,195.7 303.6,195.7 304.2,195.6 304.7,195.7 305.2,195.1 305.8,195.7 306.3,195.4 306.8,195.8 307.4,195.0 307.9,195.1 308.4,194.9 308.9,195.8 309.3,195.9 309.8,195.6 310.2,195.3 310.7,195.8 311.1,195.8 311.5,195.5 311.9,195.1 312.2,195.2 312.6,195.3 312.9,195.2 313.2,195.3 313.5,195.6 313.7,195.9" fill="none" stroke="#4da0e0" stroke-width="1.4" stroke-linejoin="round" stroke-linecap="round" opacity="1.0" />
<polyline points="200.7,210.3 200.9,210.9 201.2,210.3 201.5,210.4 201.8,211.1 202.1,210.8 202.4,211.2 202.8,210.7 203.1,210.2 203.5,210.6 203.9,210.8 204.3,211.2 204.8,211.2 205.2,210.6 205.6,210.5 206.1,210.2 206.6,210.7 207.1,210.3 207.6,210.2 208.1,210.0 208.6,210.0 209.1,210.7 209.6,210.1 210.1,211.0 210.7,210.0 211.2,210.8 211.7,210.0 212.3,209.9 212.8,210.6 213.4,210.1 213.9,210.6 214.4,210.0 215.0,209.8 215.5,210.6 216.1,210.5 216.6,210.6 217.1,210.5 217.6,209.7 218.1,210.3 218.7,210.4 219.2,210.1 219.7,210.6 220.1,209.8 220.6,210.6 221.1,210.3 221.5,209.5 222.0,209.5 222.4,210.2 222.8,210.4 223.2,209.6 223.6,209.8 224.0,210.3 224.3,209.6 224.7,210.4 225.0,210.0 225.8,209.5 226.6,209.9 227.3,210.1 227.9,210.0 228.5,210.3 229.1,209.7 229.6,210.5 230.1,210.0 230.6,210.4 231.0,210.4 231.4,210.2 231.7,210.2 232.1,210.7 232.4,210.9 232.8,210.7 233.1,210.5 233.4,210.2 233.7,209.9 234.0,210.9 234.3,210.5 234.9,210.5 235.4,209.7 235.8,209.7 236.1,209.8 236.3,209.3 236.5,208.7 236.8,208.0 237.1,207.7 237.4,207.7 237.7,206.8 237.9,206.8 238.2,206.3 238.5,206.2 238.8,205.6 239.1,204.5 239.4,203.7 239.6,203.6 239.9,203.3 240.2,203.1 240.5,203.1 240.8,202.9 241.0,201.8 241.3,202.6 241.6,202.6 241.9,202.8 242.2,202.7 242.5,202.7 242.7,203.7 243.0,204.1 243.2,204.5 243.5,205.3 243.8,205.2 244.1,205.5 244.4,206.6 244.6,207.2 244.8,206.9 245.0,207.9 245.2,208.6 245.4,208.3 245.6,209.2 245.9,209.8 246.1,210.0 246.3,210.3 246.5,210.8 246.8,211.8 247.0,212.3 247.2,212.4 247.4,212.4 247.6,213.5 247.9,213.8 248.1,213.5 248.3,214.1 248.8,214.8 249.2,215.0 249.7,214.6 250.2,214.5 250.6,214.5 251.1,213.7 251.6,213.2 252.1,212.6 252.3,213.0 252.5,212.3 252.7,212.2 252.9,211.6 253.1,211.3 253.3,210.5 253.5,209.9 253.7,210.5 253.9,209.3 254.1,208.5 254.3,208.5 254.6,208.2 254.8,207.0 255.0,207.0 255.2,206.2 255.4,205.9 255.6,205.0 255.8,204.6 256.0,205.3 256.2,204.8 256.4,204.1 256.6,203.9 256.8,203.4 257.2,203.8 257.6,203.3 258.0,204.0 258.4,204.0 258.8,204.4 259.1,204.9 259.5,204.6 259.9,204.8 260.3,205.5 260.7,205.9 261.0,206.1 261.2,206.4 261.5,207.3 261.7,208.0 262.0,207.9 262.3,208.8 262.5,209.2 262.8,208.6 263.1,209.6 263.4,209.8 263.6,209.9 263.9,211.3 264.2,210.9 264.5,211.7 264.7,212.1 265.0,212.8 265.3,212.9 265.6,213.0 265.9,213.4 266.2,213.5 266.5,214.8 266.9,215.3 267.2,214.8 267.5,215.0 267.8,215.7 268.1,216.1 268.4,217.1 268.8,217.4 269.1,217.7 269.4,217.1 269.7,218.2 270.0,218.3 270.5,218.6 270.9,219.2 271.4,218.4 271.8,218.7 272.3,219.5 272.8,219.8 273.2,219.6 273.7,219.2 274.1,219.4 274.6,219.5 274.9,218.6 275.3,218.7 275.6,218.3 275.9,217.9 276.2,218.0 276.6,217.3 276.9,217.0 277.2,216.5 277.5,216.7 277.9,215.6 278.2,216.1 278.6,215.2 278.9,214.7 279.3,215.5 279.7,214.5 280.0,215.1 280.4,214.8 280.7,214.7 281.0,213.7 281.3,213.9 281.7,213.4 282.1,214.2 282.5,214.0 283.0,213.6 283.6,213.4 284.3,213.1 285.0,213.6 285.3,213.1 285.7,213.3 286.0,212.7 286.4,212.7 286.8,212.5 287.2,213.2 287.6,213.0 288.0,212.5 288.5,213.3 288.9,212.6 289.4,212.7 289.8,212.4 290.3,212.5 290.8,213.1 291.3,212.5 291.8,212.3 292.2,212.6 292.7,212.4 293.2,213.0 293.7,212.1 294.2,213.1 294.8,212.0 295.3,212.9 295.8,212.7 296.2,212.1 296.7,212.4 297.2,212.2 297.7,212.1 298.2,212.0 298.7,212.2 299.1,212.9 299.6,212.9 300.0,212.8 300.5,211.8 301.0,212.0 301.5,212.7 302.0,211.7 302.5,212.5 303.0,212.0 303.6,212.7 304.1,211.6 304.6,212.5 305.2,212.0 305.7,211.7 306.2,211.6 306.8,212.5 307.3,212.1 307.8,211.7 308.3,212.0 308.8,212.5 309.3,211.8 309.7,212.1 310.2,211.7 310.6,211.7 311.1,212.3 311.5,212.3 311.9,211.7 312.2,211.6 312.6,211.6 312.9,212.1 313.2,212.0 313.5,211.8 313.7,211.7" fill="none" stroke="#66a83c" stroke-width="1.4" stroke-linejoin="round" stroke-linecap="round" opacity="1.0" />
<polyline points="200.7,230.3 201.0,230.3 201.4,230.4 201.7,230.2 202.1,230.1 202.6,230.0 203.0,230.3 203.5,230.2 204.0,230.3 204.5,230.0 205.0,230.4 205.6,230.1 206.2,230.4 206.8,230.4 207.4,230.2 208.0,229.9 208.7,230.4 209.3,230.2 210.0,230.4 210.7,230.1 211.4,230.0 212.1,230.3 212.8,230.1 213.5,230.0 214.2,230.1 215.0,230.2 215.7,229.9 216.4,230.2 217.2,230.1 217.9,230.2 218.6,230.0 219.4,230.3 220.1,230.3 220.9,230.3 221.6,230.1 222.3,230.3 223.0,230.1 223.8,230.3 224.5,229.9 225.2,230.4 225.9,230.4 226.5,230.2 227.2,230.2 227.8,230.2 228.5,230.2 229.1,230.0 229.7,230.4 230.3,230.1 230.9,230.1 231.4,230.0 231.9,230.1 232.5,230.4 232.9,230.0 233.4,230.1 233.8,230.4 234.3,230.1 234.6,230.0 235.0,230.3 237.0,230.5 238.3,230.6 239.1,231.0 239.4,230.9 239.5,231.5 239.5,231.6 239.6,231.4 240.0,231.5 240.6,231.6 241.2,231.4 241.7,231.0 242.2,230.7 242.7,230.5 243.3,230.1 244.0,230.2 244.5,230.4 245.0,230.0 245.6,230.3 246.2,230.5 246.8,230.3 247.4,230.8 248.0,230.9 248.6,230.7 249.3,230.8 250.0,231.0 250.6,230.8 251.1,230.6 251.7,230.8 252.3,230.6 253.0,230.3 253.6,230.1 254.3,230.0 254.9,230.0 255.5,230.1 256.2,229.9 256.8,229.9 257.4,229.8 258.0,229.8 258.5,229.4 258.8,229.6 258.9,229.9 258.9,230.0 258.9,229.8 259.1,230.0 259.4,230.2 260.1,230.1 261.2,230.3 262.8,230.1 265.0,230.4 265.4,230.4 265.7,230.2 266.1,230.2 266.5,230.6 267.0,230.6 267.4,230.6 267.9,230.5 268.4,230.6 268.8,230.6 269.4,230.6 269.9,230.2 270.4,230.5 271.0,230.3 271.6,230.5 272.1,230.3 272.7,230.4 273.3,230.6 274.0,230.5 274.6,230.3 275.2,230.4 275.9,230.4 276.5,230.6 277.2,230.3 277.9,230.3 278.6,230.5 279.2,230.2 279.9,230.4 280.7,230.6 281.4,230.4 282.1,230.3 282.8,230.4 283.5,230.4 284.3,230.2 285.0,230.2 285.7,230.2 286.5,230.3 287.2,230.3 287.9,230.3 288.7,230.2 289.4,230.1 290.2,230.4 290.9,230.5 291.6,230.4 292.4,230.4 293.1,230.4 293.8,230.2 294.6,230.4 295.3,230.3 296.0,230.3 296.7,230.4 297.4,230.3 298.1,230.2 298.8,230.2 299.5,230.1 300.2,230.3 300.9,230.2 301.6,230.3 302.2,230.0 302.9,230.2 303.5,230.4 304.1,230.1 304.7,230.3 305.4,230.2 305.9,230.1 306.5,230.5 307.1,230.1 307.6,230.4 308.2,230.1 308.7,230.0 309.2,230.4 309.7,230.2 310.2,230.0 310.7,230.2 311.1,230.2 311.5,230.3 311.9,230.0 312.3,230.1 312.7,230.4 313.1,230.3 313.4,230.0 313.7,230.1" fill="none" stroke="#5a3cb0" stroke-width="1.3" stroke-linejoin="round" stroke-linecap="round" opacity="1.0" />
<polyline points="359.7,172.4 360.0,172.6 360.3,172.6 360.7,172.7 361.1,172.7 361.5,172.5 361.9,172.6 362.4,172.6 362.8,172.6 363.3,172.5 363.8,172.6 364.3,172.6 364.8,172.7 365.4,172.3 365.9,172.7 366.5,172.3 367.1,172.6 367.7,172.5 368.3,172.5 369.0,172.7 369.6,172.5 370.2,172.5 370.9,172.6 371.6,172.7 372.3,172.6 373.0,172.4 373.7,172.5 374.4,172.5 375.1,172.6 375.8,172.4 376.5,172.5 377.2,172.5 378.0,172.4 378.7,172.4 379.5,172.6 380.2,172.7 380.9,172.5 381.7,172.5 382.4,172.3 383.2,172.4 383.9,172.3 384.7,172.5 385.4,172.5 386.2,172.3 386.9,172.7 387.6,172.4 388.4,172.7 389.1,172.7 389.8,172.7 390.5,172.4 391.2,172.5 391.9,172.7 392.6,172.3 393.3,172.3 394.0,172.5 394.7,172.5 395.3,172.7 396.0,172.6 396.6,172.5 397.2,172.8 397.8,172.5 398.4,172.5 399.0,172.6 399.6,172.5 400.1,172.4 400.7,172.6 401.2,172.4 401.7,172.7 402.2,172.6 402.6,172.5 403.1,172.3 403.5,172.4 403.9,172.5 404.3,172.5 404.7,172.5 405.0,172.7 407.8,172.7 409.3,172.5 409.9,172.5 409.9,172.7 409.5,172.8 409.3,172.4 409.5,172.4 410.1,172.3 410.6,171.6 411.1,171.2 411.5,171.1 412.0,170.5 412.4,169.8 412.8,169.0 413.3,168.8 413.7,168.1 414.1,167.6 414.5,167.2 415.1,166.6 415.7,165.8 416.2,165.2 416.8,165.1 417.3,165.2 417.8,165.5 418.4,165.7 419.0,166.1 419.5,166.7 420.0,167.1 420.6,167.4 421.2,168.2 421.8,168.5 422.3,168.6 422.9,169.2 423.4,169.8 424.0,170.0 424.5,170.5 425.0,170.6 425.6,171.1 426.2,171.7 426.8,171.9 427.5,172.3 428.0,172.3 428.6,172.6 429.2,172.9 429.8,172.9 430.4,173.3 431.0,173.4 431.7,173.8 432.3,173.7 432.9,173.7 433.6,173.6 434.4,173.6 434.9,173.9 435.4,173.6 435.9,173.6 436.5,173.6 437.1,173.7 437.7,173.8 438.4,173.6 439.2,173.7 440.0,173.3 440.5,173.2 441.0,173.6 441.4,173.3 441.9,173.5 442.4,173.3 442.9,173.2 443.4,173.2 443.9,173.1 444.5,173.5 445.1,173.3 445.8,173.1 446.5,173.2 447.3,173.1 448.1,172.9 449.0,173.3 450.0,173.1 450.5,173.3 451.0,173.1 451.5,173.1 452.0,172.9 452.6,172.8 453.2,173.3 453.8,173.2 454.5,172.9 455.1,173.2 455.8,173.2 456.5,172.9 457.2,173.0 457.9,173.2 458.7,173.0 459.4,173.2 460.1,172.8 460.9,172.9 461.6,173.0 462.3,172.8 463.1,172.8 463.8,173.1 464.5,172.9 465.2,173.0 465.9,172.8 466.6,172.7 467.2,172.8 467.9,172.7 468.5,173.1 469.1,172.7 469.6,172.9 470.2,172.6 470.7,172.8 471.2,172.8 471.6,172.8 472.0,172.6 472.4,172.6 472.7,173.0" fill="none" stroke="#b82868" stroke-width="1.4" stroke-linejoin="round" stroke-linecap="round" opacity="1.0" />
<polyline points="359.7,188.1 360.0,188.0 360.3,188.0 360.7,188.0 361.1,188.0 361.5,188.0 361.9,188.1 362.3,188.1 362.8,188.0 363.3,188.2 363.7,188.0 364.2,188.0 364.8,188.2 365.3,188.0 365.9,188.1 366.4,188.2 367.0,188.2 367.6,188.0 368.2,188.1 368.8,188.2 369.5,188.1 370.1,188.2 370.8,188.0 371.4,188.2 372.1,188.1 372.8,188.0 373.5,188.1 374.2,188.0 374.9,188.2 375.6,188.0 376.3,188.2 377.0,188.1 377.8,188.1 378.5,188.0 379.2,188.1 380.0,188.0 380.7,188.2 381.5,188.0 382.2,188.1 383.0,188.1 383.7,188.0 384.5,188.2 385.2,188.1 386.0,188.2 386.7,188.1 387.5,188.1 388.2,188.1 389.0,188.0 389.7,188.0 390.4,188.2 391.2,188.1 391.9,188.2 392.6,188.0 393.3,188.1 394.0,188.1 394.7,188.1 395.4,188.1 396.1,188.0 396.7,188.1 397.4,188.0 398.0,188.0 398.7,188.2 399.3,188.0 399.9,188.1 400.5,188.2 401.1,188.2 401.7,188.2 402.3,188.2 402.8,188.0 403.3,188.0 403.8,188.0 404.3,188.2 404.8,188.2 405.3,188.1 405.7,188.1 406.2,188.2 406.6,188.2 407.0,188.0 407.3,188.2 407.7,188.1 408.0,188.1 412.1,188.0 411.0,188.0 410.0,188.0 410.5,187.7 411.1,187.4 411.7,186.8 412.3,186.5 413.0,186.2 413.6,186.0 414.2,185.7 414.9,185.5 415.5,185.2 416.2,185.1 416.8,185.1 417.5,185.0 418.1,185.3 418.7,185.3 419.3,185.6 420.0,185.6 420.5,185.8 421.1,186.1 421.7,186.2 422.2,186.3 422.8,186.7 423.4,186.9 424.0,186.9 424.6,187.0 425.2,187.5 425.8,187.5 426.4,187.5 427.2,187.7 428.0,187.8 428.4,188.0 428.7,187.9 428.9,188.2 429.0,188.2 429.2,188.0 429.6,188.2 430.1,188.2 430.8,188.3 431.8,188.4 433.2,188.2 435.0,188.2 435.4,188.4 435.8,188.3 436.2,188.4 436.6,188.4 437.1,188.4 437.6,188.4 438.1,188.3 438.6,188.3 439.2,188.2 439.8,188.4 440.3,188.3 440.9,188.3 441.5,188.4 442.2,188.2 442.8,188.4 443.5,188.2 444.1,188.4 444.8,188.4 445.5,188.2 446.2,188.3 446.9,188.4 447.6,188.3 448.4,188.3 449.1,188.2 449.8,188.2 450.6,188.2 451.3,188.3 452.0,188.2 452.8,188.2 453.5,188.2 454.3,188.3 455.0,188.3 455.8,188.2 456.5,188.2 457.3,188.3 458.0,188.2 458.7,188.4 459.4,188.2 460.2,188.2 460.9,188.4 461.6,188.1 462.2,188.3 462.9,188.2 463.6,188.3 464.2,188.2 464.9,188.3 465.5,188.1 466.1,188.3 466.7,188.3 467.3,188.2 467.9,188.3 468.4,188.3 469.0,188.1 469.5,188.1 469.9,188.2 470.4,188.1 470.9,188.1 471.3,188.1 471.7,188.1 472.0,188.3 472.4,188.2 472.7,188.1" fill="none" stroke="#4da0e0" stroke-width="1.3" stroke-linejoin="round" stroke-linecap="round" opacity="1.0" />
<polyline points="359.7,207.8 360.1,207.9 360.5,207.9 360.9,207.8 361.3,207.8 361.7,207.7 362.1,208.0 362.5,208.0 362.9,207.8 363.3,208.0 363.7,208.0 364.1,207.9 364.5,207.8 364.9,207.9 365.3,207.9 365.7,207.8 366.1,207.9 366.5,207.7 366.9,208.0 367.3,207.9 367.7,207.9 368.1,208.0 368.5,207.9 368.9,207.8 369.3,207.8 369.7,207.8 370.1,207.7 370.5,208.0 370.9,208.0 371.3,207.8 371.7,207.8 372.1,207.9 372.5,208.0 372.9,208.0 373.3,207.8 373.7,208.0 374.1,208.0 374.5,208.0 374.9,207.8 375.3,207.8 375.7,208.0 376.1,207.8 376.5,207.8 376.9,207.9 377.3,207.8 377.7,208.0 378.1,207.8 378.5,207.7 378.9,207.9 379.3,207.9 379.7,208.0 380.1,207.9 380.5,208.0 380.9,208.0 381.3,207.9 381.7,207.9 382.1,207.8 382.5,207.8 382.9,207.9 383.3,207.8 383.7,207.9 384.1,207.8 384.5,207.9 384.9,208.0 385.3,207.8 385.7,207.7 386.1,207.9 386.5,207.8 386.9,207.9 387.3,207.7 387.7,208.0 388.1,208.0 388.5,208.0 388.9,207.8 389.3,207.8 389.7,207.9 390.1,207.9 390.5,207.8 390.9,207.8 391.3,207.8 391.7,207.9 392.1,208.0 392.5,208.0 392.9,207.8 393.3,207.8 393.7,207.8 394.1,207.9 394.5,207.8 394.9,207.8 395.3,207.7 395.7,207.8 396.1,207.8 396.5,208.0 396.9,208.0 397.3,208.0 397.7,208.0 398.1,208.0 398.5,207.9 398.9,207.9 399.3,207.7 399.7,207.9 400.1,207.9 400.5,207.8 400.9,207.8 401.3,207.9 401.7,207.8 402.1,207.8 402.5,207.7 402.9,207.7 403.3,207.9 403.7,207.6 404.1,207.7 404.5,207.8 404.9,207.7 405.3,207.6 405.7,207.8 406.1,207.7 406.5,207.7 406.9,207.7 407.3,207.7 407.7,207.7 408.1,207.6 408.5,207.5 408.9,207.5 409.3,207.7 409.7,207.6 410.1,207.4 410.5,207.6 410.9,207.4 411.3,207.3 411.7,207.4 412.1,207.2 412.5,207.2 412.9,207.1 413.3,206.9 413.7,206.9 414.1,206.5 414.5,206.4 414.9,206.1 415.3,205.5 415.7,205.0 416.1,204.1 416.5,203.0 416.9,201.7 417.3,200.0 417.7,198.7 418.1,198.4 418.5,199.1 418.9,200.9 419.3,202.4 419.7,203.5 420.1,204.7 420.5,205.3 420.9,205.7 421.3,206.3 421.7,206.5 422.1,206.8 422.5,206.7 422.9,207.1 423.3,207.0 423.7,207.1 424.1,207.2 424.5,207.1 424.9,207.4 425.3,207.3 425.7,207.3 426.1,207.4 426.5,207.4 426.9,207.5 427.3,207.4 427.7,207.5 428.1,207.4 428.5,207.4 428.9,207.4 429.3,207.1 429.7,207.1 430.1,206.9 430.5,206.9 430.9,206.7 431.3,206.5 431.7,206.1 432.1,205.9 432.5,205.9 432.9,205.9 433.3,206.0 433.7,206.0 434.1,206.4 434.5,206.4 434.9,206.8 435.3,207.0 435.7,207.0 436.1,207.3 436.5,207.4 436.9,207.3 437.3,207.4 437.7,207.5 438.1,207.7 438.5,207.6 438.9,207.5 439.3,207.5 439.7,207.6 440.1,207.8 440.5,207.6 440.9,207.7 441.3,207.7 441.7,207.8 442.1,207.7 442.5,207.7 442.9,207.9 443.3,207.8 443.7,207.8 444.1,207.9 444.5,207.9 444.9,207.7 445.3,207.8 445.7,207.7 446.1,207.8 446.5,207.9 446.9,207.9 447.3,207.7 447.7,207.7 448.1,207.9 448.5,207.9 448.9,207.8 449.3,207.8 449.7,207.7 450.1,208.0 450.5,207.8 450.9,208.0 451.3,207.9 451.7,207.7 452.1,207.8 452.5,207.8 452.9,208.0 453.3,207.9 453.7,207.7 454.1,207.8 454.5,207.8 454.9,207.9 455.3,207.9 455.7,207.8 456.1,207.8 456.5,207.7 456.9,207.9 457.3,207.8 457.7,207.7 458.1,207.9 458.5,208.0 458.9,207.7 459.3,207.8 459.7,207.9 460.1,207.8 460.5,207.8 460.9,207.9 461.3,207.8 461.7,207.9 462.1,207.9 462.5,208.0 462.9,208.0 463.3,207.7 463.7,207.9 464.1,208.0 464.5,208.0 464.9,208.0 465.3,207.9 465.7,207.9 466.1,207.8 466.5,207.8 466.9,208.0 467.3,208.0 467.7,208.0 468.1,207.9 468.5,207.8 468.9,208.0 469.3,208.0 469.7,207.9 470.1,207.9 470.5,207.8 470.9,207.9 471.3,207.9 471.7,207.8 472.1,207.8 472.5,207.8" fill="none" stroke="#4caa48" stroke-width="1.4" stroke-linejoin="round" stroke-linecap="round" opacity="1.0" />
<polyline points="359.7,225.1 360.1,225.0 360.5,225.0 360.9,224.9 361.3,224.9 361.7,224.9 362.1,224.9 362.5,224.8 362.9,225.1 363.3,225.0 363.7,225.0 364.1,225.0 364.5,224.9 364.9,224.9 365.3,224.9 365.7,224.9 366.1,224.9 366.5,225.1 366.9,225.0 367.3,225.1 367.7,224.9 368.1,225.1 368.5,225.0 368.9,224.9 369.3,224.9 369.7,225.0 370.1,225.1 370.5,224.9 370.9,225.1 371.3,225.0 371.7,225.1 372.1,224.9 372.5,225.0 372.9,225.1 373.3,224.9 373.7,224.9 374.1,224.8 374.5,224.9 374.9,224.9 375.3,225.0 375.7,224.9 376.1,225.0 376.5,224.9 376.9,225.0 377.3,225.1 377.7,225.0 378.1,224.9 378.5,225.1 378.9,225.1 379.3,225.0 379.7,224.9 380.1,225.1 380.5,225.1 380.9,224.9 381.3,224.9 381.7,224.9 382.1,225.0 382.5,225.1 382.9,225.0 383.3,225.1 383.7,224.9 384.1,224.9 384.5,225.1 384.9,225.0 385.3,225.0 385.7,225.0 386.1,224.9 386.5,224.8 386.9,225.0 387.3,224.8 387.7,225.0 388.1,224.9 388.5,225.0 388.9,225.0 389.3,224.9 389.7,225.0 390.1,224.8 390.5,225.1 390.9,225.0 391.3,225.1 391.7,224.8 392.1,225.0 392.5,225.0 392.9,224.9 393.3,224.8 393.7,224.9 394.1,224.9 394.5,225.0 394.9,224.8 395.3,225.1 395.7,224.9 396.1,225.0 396.5,225.0 396.9,225.0 397.3,225.0 397.7,225.0 398.1,224.9 398.5,225.0 398.9,224.9 399.3,225.0 399.7,225.0 400.1,225.0 400.5,224.9 400.9,225.0 401.3,225.1 401.7,224.9 402.1,224.9 402.5,224.9 402.9,225.0 403.3,224.8 403.7,224.8 404.1,224.9 404.5,224.9 404.9,225.0 405.3,224.8 405.7,225.0 406.1,224.8 406.5,224.9 406.9,224.7 407.3,224.7 407.7,224.7 408.1,224.7 408.5,224.8 408.9,224.8 409.3,224.7 409.7,224.9 410.1,224.7 410.5,224.6 410.9,224.5 411.3,224.7 411.7,224.7 412.1,224.4 412.5,224.3 412.9,224.4 413.3,224.2 413.7,224.3 414.1,224.0 414.5,223.8 414.9,223.5 415.3,223.3 415.7,222.7 416.1,222.1 416.5,221.4 416.9,220.2 417.3,219.2 417.7,218.0 418.1,217.7 418.5,218.1 418.9,219.2 419.3,220.2 419.7,221.3 420.1,222.1 420.5,222.8 420.9,223.3 421.3,223.5 421.7,223.7 422.1,223.9 422.5,224.0 422.9,224.2 423.3,224.2 423.7,224.3 424.1,224.5 424.5,224.5 424.9,224.4 425.3,224.7 425.7,224.5 426.1,224.6 426.5,224.5 426.9,224.7 427.3,224.7 427.7,224.5 428.1,224.6 428.5,224.6 428.9,224.4 429.3,224.4 429.7,224.4 430.1,224.4 430.5,224.1 430.9,224.1 431.3,223.9 431.7,223.7 432.1,223.6 432.5,223.5 432.9,223.2 433.3,223.5 433.7,223.4 434.1,223.7 434.5,223.9 434.9,223.9 435.3,224.3 435.7,224.5 436.1,224.3 436.5,224.3 436.9,224.4 437.3,224.8 437.7,224.5 438.1,224.8 438.5,224.6 438.9,224.8 439.3,224.7 439.7,224.7 440.1,224.9 440.5,224.7 440.9,224.8 441.3,225.0 441.7,224.9 442.1,225.0 442.5,225.0 442.9,224.8 443.3,224.8 443.7,225.0 444.1,225.0 444.5,224.8 444.9,224.9 445.3,224.8 445.7,224.9 446.1,224.8 446.5,224.8 446.9,225.1 447.3,224.9 447.7,225.1 448.1,224.8 448.5,224.9 448.9,224.8 449.3,224.9 449.7,224.9 450.1,225.0 450.5,224.9 450.9,225.0 451.3,225.0 451.7,224.8 452.1,224.9 452.5,225.0 452.9,225.1 453.3,224.9 453.7,224.9 454.1,225.1 454.5,225.1 454.9,225.0 455.3,224.9 455.7,224.9 456.1,224.9 456.5,224.8 456.9,224.8 457.3,225.0 457.7,224.9 458.1,225.0 458.5,224.9 458.9,224.8 459.3,225.0 459.7,225.0 460.1,225.0 460.5,225.0 460.9,225.0 461.3,225.1 461.7,225.1 462.1,225.0 462.5,225.0 462.9,224.9 463.3,225.0 463.7,225.1 464.1,224.9 464.5,224.9 464.9,225.0 465.3,224.9 465.7,225.1 466.1,224.8 466.5,225.0 466.9,225.1 467.3,224.9 467.7,225.0 468.1,224.9 468.5,224.9 468.9,224.9 469.3,224.9 469.7,225.1 470.1,225.1 470.5,225.1 470.9,224.9 471.3,225.0 471.7,224.9 472.1,225.0 472.5,225.0" fill="none" stroke="#5a3cb0" stroke-width="1.4" stroke-linejoin="round" stroke-linecap="round" opacity="1.0" />
<polyline points="518.7,172.7 519.0,173.1 519.4,172.5 519.7,173.0 520.1,173.1 520.5,172.8 521.0,172.9 521.4,173.2 521.9,172.6 522.4,172.9 522.9,173.0 523.4,172.8 524.0,173.0 524.5,172.8 525.1,172.9 525.7,172.9 526.3,173.0 526.9,172.7 527.6,173.0 528.2,172.9 528.9,172.7 529.5,173.0 530.2,172.7 530.9,173.2 531.6,172.9 532.3,173.1 533.0,172.9 533.7,172.9 534.5,172.7 535.2,172.7 535.9,173.2 536.7,173.0 537.4,173.0 538.2,173.0 538.9,173.2 539.7,172.8 540.4,172.8 541.2,173.2 541.9,173.0 542.6,173.1 543.4,173.2 544.1,173.3 544.8,173.3 545.6,172.7 546.3,173.0 547.0,173.3 547.7,173.3 548.4,172.8 549.1,172.8 549.8,172.9 550.5,172.8 551.1,173.0 551.8,173.3 552.4,173.1 553.0,173.1 553.6,172.8 554.2,173.1 554.8,173.5 555.4,173.3 555.9,173.1 556.5,173.1 557.0,173.4 557.5,173.3 557.9,172.9 558.4,173.3 558.8,173.1 559.2,173.2 559.6,173.0 560.0,173.1 561.9,173.1 563.4,173.1 564.5,172.9 565.2,173.0 565.7,173.3 566.0,172.9 566.2,173.0 566.3,173.4 566.4,173.2 566.6,173.3 567.0,173.4 567.6,174.1 568.2,174.0 568.6,174.8 569.0,175.4 569.3,175.5 569.6,176.2 570.0,177.2 570.2,177.5 570.5,177.9 570.7,178.2 570.9,179.1 571.1,179.7 571.3,180.6 571.5,180.9 571.7,181.7 571.9,182.4 572.1,183.2 572.3,183.4 572.5,183.9 572.8,184.8 573.0,185.7 573.2,185.8 573.4,187.0 573.6,187.3 573.8,187.6 574.0,188.2 574.2,188.4 574.8,189.1 575.5,189.5 575.8,189.0 576.2,188.7 576.6,188.3 577.0,188.0 577.5,187.3 578.0,186.2 578.3,186.2 578.7,185.6 579.1,185.1 579.4,184.9 579.8,184.0 580.3,183.5 580.7,183.3 581.1,182.4 581.6,182.0 582.0,181.5 582.5,181.3 582.9,180.7 583.4,180.3 583.9,179.6 584.4,178.9 584.9,178.9 585.4,178.4 585.9,178.1 586.5,177.7 587.0,176.9 587.6,176.7 588.1,176.3 588.7,176.6 589.3,175.8 589.9,175.6 590.5,175.9 591.1,175.6 591.7,175.0 592.4,175.3 593.0,175.1 593.6,174.8 594.1,174.4 594.6,174.7 595.1,174.4 595.7,174.4 596.2,174.6 596.8,174.4 597.5,174.4 598.2,173.8 599.1,173.8 600.0,173.8 600.5,173.4 600.9,174.0 601.4,173.5 601.9,173.4 602.5,173.4 603.0,173.3 603.6,173.7 604.1,173.4 604.7,173.3 605.3,173.2 606.0,172.9 606.6,173.0 607.2,173.4 607.8,173.3 608.5,173.3 609.1,172.8 609.8,172.7 610.5,172.6 611.1,172.9 611.8,172.7 612.4,172.7 613.1,172.7 613.7,172.7 614.4,172.5 615.0,172.8 615.6,172.4 616.2,172.8 616.9,172.6 617.5,172.2 618.2,172.3 618.9,172.5 619.6,172.4 620.3,172.5 621.1,172.3 621.8,172.2 622.5,172.6 623.2,172.2 623.9,172.5 624.6,172.5 625.3,172.4 626.0,172.3 626.7,172.6 627.3,172.2 627.9,172.5 628.5,171.9 629.1,172.2 629.6,172.3 630.1,171.9 630.6,172.5 631.0,171.9 631.4,172.3 631.7,172.0" fill="none" stroke="#b82868" stroke-width="1.4" stroke-linejoin="round" stroke-linecap="round" opacity="1.0" />
<polyline points="518.7,199.9 519.0,199.6 519.4,199.8 519.8,199.5 520.2,199.6 520.7,199.6 521.1,199.3 521.6,199.2 522.2,199.8 522.7,199.1 523.3,199.8 523.9,199.2 524.6,199.1 525.2,199.1 525.8,199.7 526.5,199.8 527.2,199.3 527.9,199.6 528.6,199.2 529.3,199.8 530.0,199.6 530.7,199.1 531.4,199.0 532.1,199.5 532.8,198.9 533.5,199.7 534.2,199.2 534.9,199.1 535.6,199.4 536.3,199.2 536.9,199.4 537.6,199.0 538.2,199.7 538.8,199.2 539.4,199.6 540.0,199.0 540.7,199.6 541.3,199.7 542.0,199.2 542.7,198.9 543.3,199.2 544.0,199.4 544.7,199.1 545.4,199.3 546.1,198.9 546.7,199.3 547.4,199.5 548.1,199.3 548.7,199.5 549.4,199.0 550.0,199.6 550.7,199.0 551.3,199.7 551.9,199.8 552.5,199.7 553.1,199.4 553.7,199.2 554.2,199.2 554.8,199.6 555.3,199.3 555.8,199.7 556.3,198.9 556.7,199.3 557.2,199.6 557.6,199.3 558.0,199.2 559.3,198.7 560.2,198.6 560.9,198.5 561.4,198.8 561.8,198.5 562.1,197.7 562.5,198.1 563.0,197.1 563.6,197.3 564.3,197.2 564.9,196.3 565.5,196.5 566.0,195.9 566.5,195.1 567.0,195.2 567.6,195.4 568.1,195.6 568.5,196.5 569.0,196.7 569.3,197.7 569.6,197.8 569.9,198.2 570.2,199.3 570.5,199.5 570.9,200.5 571.2,201.3 571.5,201.6 572.0,202.1 572.5,202.4 573.0,203.3 573.5,203.2 574.0,203.8 574.5,203.2 574.9,203.3 575.4,202.6 575.9,202.1 576.4,201.7 577.0,200.7 577.4,200.3 577.8,200.6 578.3,199.6 578.7,199.5 579.2,199.1 579.6,198.3 580.1,197.6 580.6,197.1 581.0,197.5 581.6,196.5 582.2,196.6 582.8,196.5 583.4,196.0 584.2,196.2 585.0,195.9 585.5,196.2 586.1,196.2 586.7,196.0 587.3,195.9 587.9,196.1 588.6,195.9 589.3,195.9 589.9,196.0 590.6,196.6 591.3,196.4 592.0,196.8 592.6,196.0 593.1,196.9 593.6,196.5 594.2,196.9 594.7,196.7 595.2,196.9 595.8,196.5 596.4,197.1 597.0,196.6 597.7,196.8 598.4,196.6 599.2,197.0 600.0,197.2 600.5,197.1 601.0,197.6 601.5,197.0 602.0,197.4 602.5,197.2 603.1,197.6 603.6,197.8 604.2,197.8 604.8,197.2 605.4,197.4 606.0,197.8 606.6,198.2 607.3,197.4 607.9,198.0 608.5,198.1 609.2,198.3 609.8,197.9 610.5,198.4 611.1,198.1 611.8,198.6 612.4,197.8 613.1,198.7 613.7,198.2 614.4,198.3 615.0,198.0 615.6,198.2 616.2,198.7 616.9,198.7 617.5,198.2 618.2,198.4 618.9,198.3 619.6,198.4 620.3,198.4 621.1,198.5 621.8,199.2 622.5,199.2 623.2,199.0 623.9,198.8 624.6,198.8 625.3,199.1 626.0,199.3 626.7,199.1 627.3,199.1 627.9,198.7 628.5,199.1 629.1,199.3 629.6,199.3 630.1,198.7 630.6,199.3 631.0,198.9 631.4,198.8 631.7,199.5" fill="none" stroke="#4da0e0" stroke-width="1.4" stroke-linejoin="round" stroke-linecap="round" opacity="1.0" />
<polyline points="518.7,225.4 519.0,225.4 519.4,224.9 519.8,225.5 520.2,225.6 520.6,225.6 521.1,225.4 521.6,225.5 522.1,225.5 522.7,225.3 523.2,225.1 523.8,225.5 524.4,225.4 525.1,225.5 525.7,225.0 526.4,225.6 527.0,225.2 527.7,225.6 528.4,224.8 529.1,225.6 529.8,225.4 530.6,225.0 531.3,225.5 532.0,224.9 532.7,224.9 533.5,225.1 534.2,224.9 534.9,225.2 535.6,225.5 536.3,225.3 537.0,225.4 537.7,225.1 538.4,225.4 539.1,225.4 539.8,225.3 540.4,225.5 541.1,225.4 541.7,225.1 542.3,224.8 542.9,225.3 543.4,225.4 544.0,225.0 544.5,225.2 545.0,225.4 545.8,225.4 546.6,224.6 547.4,225.1 548.1,224.6 548.9,224.7 549.6,225.3 550.3,224.9 551.0,225.1 551.6,225.0 552.3,224.8 552.9,224.7 553.5,224.8 554.1,225.2 554.7,225.0 555.3,224.7 555.8,224.5 556.3,224.6 556.8,225.0 557.3,224.8 557.8,224.9 558.3,225.0 558.7,224.4 559.2,224.8 559.6,224.2 560.0,224.9 561.1,224.2 562.0,224.1 562.7,224.6 563.3,223.9 563.7,223.6 564.2,223.9 564.6,223.4 565.0,223.4 565.5,222.4 565.9,221.9 566.2,221.7 566.6,220.6 566.9,220.4 567.2,219.2 567.5,219.5 568.1,218.8 568.7,219.5 569.3,219.5 570.0,220.0 570.5,220.9 571.0,220.7 571.5,221.2 572.1,220.8 573.0,220.9 573.5,220.6 574.0,220.9 574.5,221.1 575.1,220.6 575.7,220.3 576.4,220.6 577.1,220.4 577.8,220.1 578.5,219.4 579.2,219.7 580.0,219.4 580.5,219.8 581.1,219.2 581.7,219.4 582.3,219.4 582.9,219.1 583.5,219.1 584.2,219.2 584.8,219.4 585.5,219.0 586.1,218.8 586.8,219.3 587.4,218.5 588.1,219.1 588.7,219.0 589.4,218.9 590.0,218.8 590.6,219.0 591.2,219.2 591.8,219.0 592.4,219.1 593.0,218.4 593.5,218.7 594.1,218.6 594.7,219.4 595.3,219.3 595.9,218.7 596.5,219.2 597.1,219.2 597.8,218.8 598.5,219.2 599.2,219.6 600.0,219.6 600.5,219.4 601.0,219.9 601.6,219.5 602.2,219.8 602.8,219.8 603.4,220.4 604.0,220.2 604.6,220.4 605.2,220.4 605.9,220.2 606.5,220.9 607.2,220.8 607.8,220.8 608.5,220.6 609.1,220.6 609.8,221.1 610.4,221.4 611.0,221.5 611.6,221.2 612.2,221.1 612.8,221.6 613.4,222.0 614.0,221.5 614.5,222.1 615.0,221.7 615.7,222.0 616.4,221.9 617.1,222.3 617.8,222.6 618.4,223.3 619.0,223.5 619.6,223.0 620.2,223.3 620.8,224.0 621.4,223.5 621.9,223.8 622.5,224.1 623.0,223.9 623.5,224.2 624.0,224.5 624.5,224.6 625.0,225.2 625.8,224.7 626.5,224.8 627.2,225.5 628.0,225.2 628.6,225.6 629.3,225.4 629.9,225.6 630.4,225.2 630.9,225.0 631.4,225.6 631.7,225.4" fill="none" stroke="#4caa48" stroke-width="1.4" stroke-linejoin="round" stroke-linecap="round" opacity="1.0" />
<polyline points="518.7,237.6 519.0,237.7 519.4,237.7 519.8,237.3 520.2,237.4 520.6,237.9 521.1,237.5 521.6,237.3 522.1,237.6 522.7,237.3 523.2,237.7 523.8,237.1 524.4,237.8 525.1,237.5 525.7,237.3 526.4,237.9 527.0,237.3 527.7,237.2 528.4,237.1 529.1,237.5 529.8,237.7 530.6,237.6 531.3,237.4 532.0,237.7 532.7,237.1 533.5,237.3 534.2,237.6 534.9,237.9 535.6,237.6 536.3,237.6 537.0,237.7 537.7,237.3 538.4,237.8 539.1,237.7 539.8,237.3 540.4,237.3 541.1,237.7 541.7,237.3 542.3,237.1 542.9,237.7 543.4,237.4 544.0,237.4 544.5,237.6 545.0,237.8 545.8,237.1 546.6,237.2 547.4,237.0 548.2,237.3 548.9,237.4 549.6,237.7 550.3,237.6 551.0,237.5 551.7,237.3 552.3,237.5 553.0,237.2 553.6,237.7 554.2,237.7 554.8,237.7 555.3,237.1 555.9,237.6 556.4,237.6 556.9,237.4 557.4,237.7 557.9,237.7 558.3,237.6 558.8,237.6 559.2,237.4 559.6,237.6 560.0,236.9 561.2,237.2 562.0,237.0 562.5,236.6 562.9,236.0 563.3,235.4 563.6,235.5 564.0,235.3 564.4,234.3 564.8,233.7 565.2,233.1 565.6,232.4 565.9,232.3 566.3,232.0 566.6,231.5 567.0,230.8 567.6,231.0 568.1,230.6 568.7,231.6 569.3,231.5 570.0,231.4 570.5,231.9 571.0,231.4 571.5,231.5 572.1,231.2 572.7,231.4 573.4,231.4 574.1,231.6 575.0,230.8 575.5,231.4 576.0,230.8 576.5,230.8 577.0,231.1 577.6,230.8 578.2,230.7 578.8,230.8 579.4,230.5 580.0,230.9 580.7,230.3 581.3,230.9 582.0,230.8 582.7,230.5 583.5,230.1 584.2,230.7 585.0,230.1 585.5,230.5 586.0,230.5 586.6,230.2 587.1,230.7 587.7,230.8 588.3,230.8 588.8,230.6 589.4,230.8 590.0,230.9 590.6,230.6 591.3,231.3 591.9,231.4 592.5,231.3 593.1,231.5 593.8,231.0 594.4,231.7 595.0,230.9 595.7,231.4 596.3,231.2 596.9,231.5 597.5,231.8 598.2,231.9 598.8,231.8 599.4,231.8 600.0,231.7 600.6,232.0 601.2,232.0 601.8,232.0 602.5,232.6 603.1,232.5 603.7,232.6 604.3,232.5 605.0,233.1 605.6,232.7 606.2,232.9 606.9,233.3 607.5,233.6 608.1,233.9 608.7,233.9 609.4,234.2 610.0,234.3 610.6,234.2 611.2,234.4 611.7,233.9 612.3,234.2 612.9,234.1 613.4,235.0 614.0,235.0 614.5,235.0 615.0,234.8 615.7,235.0 616.4,235.0 617.1,235.6 617.8,236.1 618.4,235.6 619.0,235.5 619.6,235.8 620.2,236.1 620.8,236.7 621.4,236.8 621.9,236.6 622.5,236.4 623.0,236.5 623.5,236.6 624.0,237.3 624.5,237.1 625.0,237.6 625.8,237.7 626.5,237.6 627.2,237.4 628.0,237.7 628.6,237.1 629.3,237.1 629.9,237.5 630.4,237.4 630.9,237.1 631.4,237.2 631.7,237.0" fill="none" stroke="#5a3cb0" stroke-width="1.4" stroke-linejoin="round" stroke-linecap="round" opacity="1.0" />
<polyline points="32.1,17.4 33.2,17.6 34.0,18.5 35.0,18.0 36.0,17.3 37.2,17.2" fill="none" stroke="#222" stroke-width="1.1" stroke-linejoin="round" stroke-linecap="round" opacity="1.0" />
<polyline points="37.9,17.1 40.0,17.1" fill="none" stroke="#f2a8a8" stroke-width="1.0" stroke-linejoin="round" stroke-linecap="round" opacity="1.0" />
<polyline points="40.0,17.1 40.6,17.6 41.1,18.9 41.6,17.4 42.5,17.0" fill="none" stroke="#e03a3a" stroke-width="1.0" stroke-linejoin="round" stroke-linecap="round" opacity="1.0" />
<polyline points="43.2,21.5 45.4,26.7 47.9,21.3" fill="none" stroke="#4858b8" stroke-width="1.2" stroke-linejoin="round" stroke-linecap="round" opacity="1.0" />
<polyline points="48.3,39.2 49.5,37.5 50.8,35.6 51.8,37.4 52.9,36.3 53.6,39.2" fill="none" stroke="#9838a8" stroke-width="1.2" stroke-linejoin="round" stroke-linecap="round" opacity="1.0" />
<polyline points="55.7,66.3 55.7,68.9" fill="none" stroke="#3a8a3a" stroke-width="1.15" stroke-linejoin="round" stroke-linecap="round" opacity="1.0" />
<polyline points="55.7,68.7 54.1,70.8" fill="none" stroke="#3a8a3a" stroke-width="0.6" stroke-linejoin="round" stroke-linecap="round" opacity="1.0" />
<polyline points="55.7,68.7 57.5,70.8" fill="none" stroke="#3a8a3a" stroke-width="0.6" stroke-linejoin="round" stroke-linecap="round" opacity="1.0" />
<polyline points="53.3,70.9 54.6,70.5" fill="none" stroke="#3a8a3a" stroke-width="1.2" stroke-linejoin="round" stroke-linecap="round" opacity="1.0" />
<polyline points="57.0,70.5 58.3,70.9" fill="none" stroke="#3a8a3a" stroke-width="1.2" stroke-linejoin="round" stroke-linecap="round" opacity="1.0" />
<polyline points="61.1,84.3 61.1,86.8" fill="none" stroke="#6060c0" stroke-width="1.15" stroke-linejoin="round" stroke-linecap="round" opacity="1.0" />
<polyline points="61.1,86.5 59.5,88.6" fill="none" stroke="#6060c0" stroke-width="0.6" stroke-linejoin="round" stroke-linecap="round" opacity="1.0" />
<polyline points="61.1,86.5 62.5,88.6" fill="none" stroke="#6060c0" stroke-width="0.6" stroke-linejoin="round" stroke-linecap="round" opacity="1.0" />
<polyline points="58.7,88.7 60.0,88.3" fill="none" stroke="#6060c0" stroke-width="1.2" stroke-linejoin="round" stroke-linecap="round" opacity="1.0" />
<polyline points="62.0,88.3 63.3,88.7" fill="none" stroke="#6060c0" stroke-width="1.2" stroke-linejoin="round" stroke-linecap="round" opacity="1.0" />
<polyline points="66.1,87.5 66.1,89.9" fill="none" stroke="#8060c8" stroke-width="1.15" stroke-linejoin="round" stroke-linecap="round" opacity="1.0" />
<polyline points="66.1,89.7 64.8,91.6" fill="none" stroke="#8060c8" stroke-width="0.6" stroke-linejoin="round" stroke-linecap="round" opacity="1.0" />
<polyline points="66.1,89.7 67.4,91.6" fill="none" stroke="#8060c8" stroke-width="0.6" stroke-linejoin="round" stroke-linecap="round" opacity="1.0" />
<polyline points="64.0,91.7 65.3,91.3" fill="none" stroke="#8060c8" stroke-width="1.2" stroke-linejoin="round" stroke-linecap="round" opacity="1.0" />
<polyline points="66.9,91.3 68.2,91.7" fill="none" stroke="#8060c8" stroke-width="1.2" stroke-linejoin="round" stroke-linecap="round" opacity="1.0" />
<polyline points="71.3,84.3 71.3,86.6" fill="none" stroke="#8848a8" stroke-width="1.15" stroke-linejoin="round" stroke-linecap="round" opacity="1.0" />
<polyline points="71.3,86.4 70.0,88.3" fill="none" stroke="#8848a8" stroke-width="0.6" stroke-linejoin="round" stroke-linecap="round" opacity="1.0" />
<polyline points="71.3,86.4 72.7,88.3" fill="none" stroke="#8848a8" stroke-width="0.6" stroke-linejoin="round" stroke-linecap="round" opacity="1.0" />
<polyline points="69.2,88.4 70.5,88.0" fill="none" stroke="#8848a8" stroke-width="1.2" stroke-linejoin="round" stroke-linecap="round" opacity="1.0" />
<polyline points="72.2,88.0 73.5,88.4" fill="none" stroke="#8848a8" stroke-width="1.2" stroke-linejoin="round" stroke-linecap="round" opacity="1.0" />
<polyline points="76.1,74.7 76.1,77.2" fill="none" stroke="#a02828" stroke-width="1.15" stroke-linejoin="round" stroke-linecap="round" opacity="1.0" />
<polyline points="76.1,77.0 75.1,79.0" fill="none" stroke="#a02828" stroke-width="0.6" stroke-linejoin="round" stroke-linecap="round" opacity="1.0" />
<polyline points="76.1,77.0 77.8,79.0" fill="none" stroke="#a02828" stroke-width="0.6" stroke-linejoin="round" stroke-linecap="round" opacity="1.0" />
<polyline points="74.3,79.1 75.6,78.7" fill="none" stroke="#a02828" stroke-width="1.2" stroke-linejoin="round" stroke-linecap="round" opacity="1.0" />
<polyline points="77.3,78.7 78.6,79.1" fill="none" stroke="#a02828" stroke-width="1.2" stroke-linejoin="round" stroke-linecap="round" opacity="1.0" />
<polyline points="78.5,73.7 79.4,74.9 80.1,74.1 82.9,74.1 83.5,74.9 84.3,73.8" fill="none" stroke="#a0a048" stroke-width="1.0" stroke-linejoin="round" stroke-linecap="round" opacity="1.0" />
<polyline points="81.0,64.7 81.0,75.5" fill="none" stroke="#a0a048" stroke-width="0.85" stroke-linejoin="round" stroke-linecap="round" opacity="1.0" />
<polyline points="81.8,66.4 81.8,75.5" fill="none" stroke="#a0a048" stroke-width="0.8" stroke-linejoin="round" stroke-linecap="round" opacity="1.0" />
<polyline points="83.5,75.5 84.4,76.7 85.1,75.9 87.9,75.9 88.5,76.7 89.3,75.6" fill="none" stroke="#5060c0" stroke-width="1.0" stroke-linejoin="round" stroke-linecap="round" opacity="1.0" />
<polyline points="86.0,61.2 86.0,77.3" fill="none" stroke="#5060c0" stroke-width="0.85" stroke-linejoin="round" stroke-linecap="round" opacity="1.0" />
<polyline points="86.8,63.8 86.8,78.2" fill="none" stroke="#5060c0" stroke-width="0.8" stroke-linejoin="round" stroke-linecap="round" opacity="1.0" />
<polyline points="88.3,78.4 89.2,79.6 89.9,78.8 92.7,78.8 93.3,79.6 94.1,78.5" fill="none" stroke="#70b0c0" stroke-width="1.0" stroke-linejoin="round" stroke-linecap="round" opacity="1.0" />
<polyline points="90.8,56.3 90.8,80.2" fill="none" stroke="#70b0c0" stroke-width="0.85" stroke-linejoin="round" stroke-linecap="round" opacity="1.0" />
<polyline points="91.6,60.3 91.6,84.2" fill="none" stroke="#70b0c0" stroke-width="0.8" stroke-linejoin="round" stroke-linecap="round" opacity="1.0" />
<polyline points="93.7,81.0 94.6,82.2 95.3,81.4 98.1,81.4 98.7,82.2 99.5,81.1" fill="none" stroke="#b08850" stroke-width="1.0" stroke-linejoin="round" stroke-linecap="round" opacity="1.0" />
<polyline points="96.2,54.3 96.2,82.8" fill="none" stroke="#b08850" stroke-width="0.85" stroke-linejoin="round" stroke-linecap="round" opacity="1.0" />
<polyline points="97.0,59.2 97.0,87.5" fill="none" stroke="#b08850" stroke-width="0.8" stroke-linejoin="round" stroke-linecap="round" opacity="1.0" />
<polyline points="98.7,83.1 99.6,84.3 100.3,83.5 103.1,83.5 103.7,84.3 104.5,83.2" fill="none" stroke="#90c878" stroke-width="1.0" stroke-linejoin="round" stroke-linecap="round" opacity="1.0" />
<polyline points="101.2,55.8 101.2,84.9" fill="none" stroke="#90c878" stroke-width="0.85" stroke-linejoin="round" stroke-linecap="round" opacity="1.0" />
<polyline points="102.0,60.8 102.0,92.5" fill="none" stroke="#90c878" stroke-width="0.8" stroke-linejoin="round" stroke-linecap="round" opacity="1.0" />
<polyline points="103.8,84.3 104.7,85.5 105.4,84.7 108.2,84.7 108.8,85.5 109.6,84.4" fill="none" stroke="#c868a8" stroke-width="1.0" stroke-linejoin="round" stroke-linecap="round" opacity="1.0" />
<polyline points="106.2,62.2 106.2,86.1" fill="none" stroke="#c868a8" stroke-width="0.85" stroke-linejoin="round" stroke-linecap="round" opacity="1.0" />
<polyline points="107.1,66.2 107.1,94.3" fill="none" stroke="#c868a8" stroke-width="0.8" stroke-linejoin="round" stroke-linecap="round" opacity="1.0" />
<polyline points="109.2,85.7 110.1,86.9 110.8,86.1 113.6,86.1 114.2,86.9 115.0,85.8" fill="none" stroke="#70c8d8" stroke-width="1.0" stroke-linejoin="round" stroke-linecap="round" opacity="1.0" />
<polyline points="111.7,73.1 111.7,87.5" fill="none" stroke="#70c8d8" stroke-width="0.85" stroke-linejoin="round" stroke-linecap="round" opacity="1.0" />
<polyline points="112.5,75.4 112.5,94.5" fill="none" stroke="#70c8d8" stroke-width="0.8" stroke-linejoin="round" stroke-linecap="round" opacity="1.0" />
<polyline points="114.4,86.7 115.3,87.9 116.0,87.1 118.8,87.1 119.4,87.9 120.2,86.8" fill="none" stroke="#6050b0" stroke-width="1.0" stroke-linejoin="round" stroke-linecap="round" opacity="1.0" />
<polyline points="116.9,78.9 116.9,88.5" fill="none" stroke="#6050b0" stroke-width="0.85" stroke-linejoin="round" stroke-linecap="round" opacity="1.0" />
<polyline points="117.8,80.4 117.8,96.0" fill="none" stroke="#6050b0" stroke-width="0.8" stroke-linejoin="round" stroke-linecap="round" opacity="1.0" />
<polyline points="120.6,88.4 122.9,89.6 125.2,88.7" fill="none" stroke="#a8c060" stroke-width="0.9" stroke-linejoin="round" stroke-linecap="round" opacity="1.0" />
<polyline points="122.9,89.6 122.9,96.3" fill="none" stroke="#a8c060" stroke-width="0.9" stroke-linejoin="round" stroke-linecap="round" opacity="1.0" />
<polyline points="122.9,86.9 122.9,89.6" fill="none" stroke="#a8c060" stroke-width="1.0" stroke-linejoin="round" stroke-linecap="round" opacity="1.0" />
<polyline points="126.0,90.4 128.3,91.6 130.4,90.3" fill="none" stroke="#909090" stroke-width="0.9" stroke-linejoin="round" stroke-linecap="round" opacity="1.0" />
<polyline points="128.3,91.6 128.3,96.6" fill="none" stroke="#909090" stroke-width="0.9" stroke-linejoin="round" stroke-linecap="round" opacity="1.0" />
<polyline points="130.9,92.2 133.2,93.3 135.6,92.0" fill="none" stroke="#904050" stroke-width="0.9" stroke-linejoin="round" stroke-linecap="round" opacity="1.0" />
<polyline points="133.2,93.3 133.2,96.9" fill="none" stroke="#904050" stroke-width="0.9" stroke-linejoin="round" stroke-linecap="round" opacity="1.0" />
<polyline points="135.9,95.1 138.1,96.2 140.4,94.9" fill="none" stroke="#4a8a4a" stroke-width="0.9" stroke-linejoin="round" stroke-linecap="round" opacity="1.0" />
<polyline points="138.1,96.2 138.1,97.6" fill="none" stroke="#4a8a4a" stroke-width="0.9" stroke-linejoin="round" stroke-linecap="round" opacity="1.0" />
<polyline points="141.4,97.0 143.5,98.4 145.6,96.9" fill="none" stroke="#60a8e0" stroke-width="1.0" stroke-linejoin="round" stroke-linecap="round" opacity="1.0" />
<polyline points="146.3,97.6 148.5,99.0 150.7,97.5" fill="none" stroke="#303c90" stroke-width="1.0" stroke-linejoin="round" stroke-linecap="round" opacity="1.0" />
<polyline points="151.2,100.3 152.5,100.0 153.5,99.6 154.5,99.7 156.0,100.3" fill="none" stroke="#555" stroke-width="1.0" stroke-linejoin="round" stroke-linecap="round" opacity="1.0" />
<polyline points="156.4,101.3 158.0,101.0 158.8,99.8 159.6,101.0 161.2,101.3" fill="none" stroke="#e03030" stroke-width="1.0" stroke-linejoin="round" stroke-linecap="round" opacity="1.0" />
<polyline points="161.5,101.8 162.8,101.4 163.4,100.2 164.1,101.4 166.6,101.9" fill="none" stroke="#3040c0" stroke-width="1.0" stroke-linejoin="round" stroke-linecap="round" opacity="1.0" />
<polyline points="166.6,102.4 171.8,102.5" fill="none" stroke="#c060c8" stroke-width="0.9" stroke-linejoin="round" stroke-linecap="round" opacity="1.0" />
<polyline points="172.0,102.0 174.0,101.6 175.0,101.8 176.9,102.0" fill="none" stroke="#80b880" stroke-width="0.9" stroke-linejoin="round" stroke-linecap="round" opacity="1.0" />
<polyline points="177.2,101.5 182.0,101.4" fill="none" stroke="#8070c8" stroke-width="0.9" stroke-linejoin="round" stroke-linecap="round" opacity="1.0" />
<polyline points="191.2,18.1 194.1,21.2 196.6,17.2" fill="none" stroke="#222" stroke-width="1.3" stroke-linejoin="round" stroke-linecap="round" opacity="1.0" />
<polyline points="202.3,35.8 203.2,39.5 204.4,49.7" fill="none" stroke="#3848b0" stroke-width="0.9" stroke-linejoin="round" stroke-linecap="round" opacity="1.0" />
<polyline points="206.5,36.8 205.6,40.2 204.4,49.7" fill="none" stroke="#3848b0" stroke-width="0.9" stroke-linejoin="round" stroke-linecap="round" opacity="1.0" />
<circle cx="202.6" cy="37.2" r="0.9" fill="#3848b0"/>
<circle cx="206.3" cy="38.2" r="0.9" fill="#3848b0"/>
<polyline points="207.4,53.5 208.2,56.6 209.4,68.8" fill="none" stroke="#b048b0" stroke-width="0.9" stroke-linejoin="round" stroke-linecap="round" opacity="1.0" />
<polyline points="211.2,54.5 210.6,57.8 209.4,68.8" fill="none" stroke="#b048b0" stroke-width="0.9" stroke-linejoin="round" stroke-linecap="round" opacity="1.0" />
<circle cx="207.7" cy="55.0" r="0.85" fill="#b048b0"/>
<circle cx="211.0" cy="56.0" r="0.85" fill="#b048b0"/>
<polyline points="196.4,99.5 202.1,99.4" fill="none" stroke="#e05040" stroke-width="1.0" stroke-linejoin="round" stroke-linecap="round" opacity="1.0" />
<polyline points="212.5,74.6 214.9,81.1 217.0,75.5" fill="none" stroke="#3a8a3a" stroke-width="0.9" stroke-linejoin="round" stroke-linecap="round" opacity="1.0" />
<circle cx="212.8" cy="75.8" r="0.8" fill="#3a8a3a"/>
<circle cx="216.7" cy="76.5" r="0.8" fill="#3a8a3a"/>
<polyline points="217.6,82.6 219.6,86.2 222.0,82.6" fill="none" stroke="#5050b0" stroke-width="0.9" stroke-linejoin="round" stroke-linecap="round" opacity="1.0" />
<circle cx="217.8" cy="83.1" r="0.65" fill="#5050b0"/>
<circle cx="221.8" cy="83.1" r="0.65" fill="#5050b0"/>
<polyline points="223.2,85.3 225.0,87.7 227.1,85.0" fill="none" stroke="#7060c0" stroke-width="0.9" stroke-linejoin="round" stroke-linecap="round" opacity="1.0" />
<circle cx="223.4" cy="85.8" r="0.65" fill="#7060c0"/>
<circle cx="226.9" cy="85.5" r="0.65" fill="#7060c0"/>
<polyline points="227.7,85.3 230.1,88.6 231.9,85.3" fill="none" stroke="#a040a0" stroke-width="0.9" stroke-linejoin="round" stroke-linecap="round" opacity="1.0" />
<circle cx="227.9" cy="85.8" r="0.65" fill="#a040a0"/>
<circle cx="231.7" cy="85.8" r="0.65" fill="#a040a0"/>
<polyline points="233.1,84.4 235.2,88.9 237.3,84.7" fill="none" stroke="#a03838" stroke-width="0.9" stroke-linejoin="round" stroke-linecap="round" opacity="1.0" />
<circle cx="233.3" cy="84.9" r="0.65" fill="#a03838"/>
<circle cx="237.1" cy="85.2" r="0.65" fill="#a03838"/>
<polyline points="238.1,83.2 240.8,88.3 242.6,82.3" fill="none" stroke="#a0a040" stroke-width="0.9" stroke-linejoin="round" stroke-linecap="round" opacity="1.0" />
<circle cx="238.3" cy="83.7" r="0.65" fill="#a0a040"/>
<circle cx="242.4" cy="82.8" r="0.65" fill="#a0a040"/>
<polyline points="243.4,78.4 245.8,83.9 248.1,78.3" fill="none" stroke="#5878c8" stroke-width="0.9" stroke-linejoin="round" stroke-linecap="round" opacity="1.0" />
<circle cx="243.6" cy="78.9" r="0.65" fill="#5878c8"/>
<circle cx="247.9" cy="78.8" r="0.65" fill="#5878c8"/>
<polyline points="248.4,74.3 251.0,79.5 253.4,73.3" fill="none" stroke="#80b8b8" stroke-width="0.9" stroke-linejoin="round" stroke-linecap="round" opacity="1.0" />
<circle cx="248.6" cy="74.8" r="0.65" fill="#80b8b8"/>
<circle cx="253.2" cy="73.8" r="0.65" fill="#80b8b8"/>
<polyline points="253.4,64.2 255.8,67.6 256.2,68.5" fill="none" stroke="#b08040" stroke-width="1.0" stroke-linejoin="round" stroke-linecap="round" opacity="1.0" />
<polyline points="255.8,67.6 258.1,64.7" fill="none" stroke="#b08040" stroke-width="1.0" stroke-linejoin="round" stroke-linecap="round" opacity="1.0" />
<polyline points="258.6,63.8 260.5,61.8 262.0,65.2 263.9,64.7" fill="none" stroke="#60b050" stroke-width="1.1" stroke-linejoin="round" stroke-linecap="round" opacity="1.0" />
<polyline points="263.3,66.2 265.5,67.4" fill="none" stroke="#c050a0" stroke-width="0.9" stroke-linejoin="round" stroke-linecap="round" opacity="1.0" />
<polyline points="265.5,53.8 265.5,67.7" fill="none" stroke="#c050a0" stroke-width="1.1" stroke-linejoin="round" stroke-linecap="round" opacity="1.0" />
<polyline points="265.5,67.4 266.9,68.8 266.9,71.5" fill="none" stroke="#c050a0" stroke-width="1.2" stroke-linejoin="round" stroke-linecap="round" opacity="1.0" />
<polyline points="266.9,69.6 268.1,70.2" fill="none" stroke="#c050a0" stroke-width="0.9" stroke-linejoin="round" stroke-linecap="round" opacity="1.0" />
<polyline points="268.5,67.5 270.7,68.7" fill="none" stroke="#60c8d0" stroke-width="0.9" stroke-linejoin="round" stroke-linecap="round" opacity="1.0" />
<polyline points="270.7,54.2 270.7,69.0" fill="none" stroke="#60c8d0" stroke-width="1.1" stroke-linejoin="round" stroke-linecap="round" opacity="1.0" />
<polyline points="270.7,68.7 272.1,70.1 272.1,75.0" fill="none" stroke="#60c8d0" stroke-width="1.2" stroke-linejoin="round" stroke-linecap="round" opacity="1.0" />
<polyline points="272.1,70.9 273.3,71.5" fill="none" stroke="#60c8d0" stroke-width="0.9" stroke-linejoin="round" stroke-linecap="round" opacity="1.0" />
<polyline points="273.5,69.6 275.7,70.8" fill="none" stroke="#4848a8" stroke-width="0.9" stroke-linejoin="round" stroke-linecap="round" opacity="1.0" />
<polyline points="275.7,57.0 275.7,71.1" fill="none" stroke="#4848a8" stroke-width="1.1" stroke-linejoin="round" stroke-linecap="round" opacity="1.0" />
<polyline points="275.7,70.8 277.1,72.2 277.1,79.1" fill="none" stroke="#4848a8" stroke-width="1.2" stroke-linejoin="round" stroke-linecap="round" opacity="1.0" />
<polyline points="277.1,73.0 278.3,73.6" fill="none" stroke="#4848a8" stroke-width="0.9" stroke-linejoin="round" stroke-linecap="round" opacity="1.0" />
<polyline points="279.1,72.4 281.3,73.6" fill="none" stroke="#a0c040" stroke-width="0.9" stroke-linejoin="round" stroke-linecap="round" opacity="1.0" />
<polyline points="281.3,61.8 281.3,73.9" fill="none" stroke="#a0c040" stroke-width="1.1" stroke-linejoin="round" stroke-linecap="round" opacity="1.0" />
<polyline points="281.3,73.6 282.7,75.0 282.7,81.2" fill="none" stroke="#a0c040" stroke-width="1.2" stroke-linejoin="round" stroke-linecap="round" opacity="1.0" />
<polyline points="282.7,75.8 283.9,76.4" fill="none" stroke="#a0c040" stroke-width="0.9" stroke-linejoin="round" stroke-linecap="round" opacity="1.0" />
<polyline points="284.0,72.4 286.2,73.6" fill="none" stroke="#909090" stroke-width="0.9" stroke-linejoin="round" stroke-linecap="round" opacity="1.0" />
<polyline points="286.2,65.3 286.2,73.9" fill="none" stroke="#909090" stroke-width="1.1" stroke-linejoin="round" stroke-linecap="round" opacity="1.0" />
<polyline points="286.2,73.6 287.6,75.0 287.6,82.6" fill="none" stroke="#909090" stroke-width="1.2" stroke-linejoin="round" stroke-linecap="round" opacity="1.0" />
<polyline points="287.6,75.8 288.8,76.4" fill="none" stroke="#909090" stroke-width="0.9" stroke-linejoin="round" stroke-linecap="round" opacity="1.0" />
<polyline points="289.7,80.8 294.4,80.8" fill="none" stroke="#906060" stroke-width="1.0" stroke-linejoin="round" stroke-linecap="round" opacity="1.0" />
<polyline points="292.0,79.3 292.0,83.2" fill="none" stroke="#906060" stroke-width="1.0" stroke-linejoin="round" stroke-linecap="round" opacity="1.0" />
<polyline points="294.3,90.5 295.5,90.6 297.0,91.7 298.3,90.8 299.7,91.2" fill="none" stroke="#60a050" stroke-width="1.0" stroke-linejoin="round" stroke-linecap="round" opacity="1.0" />
<polyline points="300.1,93.5 301.2,93.4 302.0,94.8 303.0,93.4 304.8,93.6" fill="none" stroke="#60a8e0" stroke-width="1.0" stroke-linejoin="round" stroke-linecap="round" opacity="1.0" />
<polyline points="305.1,98.7 307.5,98.3 309.8,98.5" fill="none" stroke="#4050a0" stroke-width="1.0" stroke-linejoin="round" stroke-linecap="round" opacity="1.0" />
<polyline points="310.0,100.2 314.8,100.2" fill="none" stroke="#707070" stroke-width="1.0" stroke-linejoin="round" stroke-linecap="round" opacity="1.0" />
<polyline points="315.2,101.3 316.4,101.1 317.2,100.6 318.2,101.1 320.3,101.4" fill="none" stroke="#e04040" stroke-width="1.0" stroke-linejoin="round" stroke-linecap="round" opacity="1.0" />
<polyline points="320.3,102.6 325.7,102.6" fill="none" stroke="#a0a0e0" stroke-width="1.0" stroke-linejoin="round" stroke-linecap="round" opacity="1.0" />
<polyline points="325.7,102.3 330.4,102.3" fill="none" stroke="#d060c0" stroke-width="1.0" stroke-linejoin="round" stroke-linecap="round" opacity="1.0" />
<polyline points="330.4,102.0 335.8,102.0" fill="none" stroke="#90c090" stroke-width="1.0" stroke-linejoin="round" stroke-linecap="round" opacity="1.0" />
<polyline points="335.8,101.8 341.0,101.8" fill="none" stroke="#b0a0e0" stroke-width="1.0" stroke-linejoin="round" stroke-linecap="round" opacity="1.0" />
<polyline points="354.1,18.4 355.5,17.6 356.6,17.2 357.8,18.4 359.1,19.4" fill="none" stroke="#222" stroke-width="1.1" stroke-linejoin="round" stroke-linecap="round" opacity="1.0" />
<polyline points="358.8,25.0 360.2,25.4 361.2,25.9 362.2,25.4 363.6,25.0" fill="none" stroke="#e04040" stroke-width="1.0" stroke-linejoin="round" stroke-linecap="round" opacity="1.0" />
<polyline points="361.2,17.2 361.2,25.4" fill="none" stroke="#e04040" stroke-width="1.1" stroke-linejoin="round" stroke-linecap="round" opacity="1.0" />
<polyline points="364.0,64.3 365.4,64.7 366.4,65.2 367.4,64.7 368.8,64.3" fill="none" stroke="#4050b0" stroke-width="1.0" stroke-linejoin="round" stroke-linecap="round" opacity="1.0" />
<polyline points="366.4,54.0 366.4,64.7" fill="none" stroke="#4050b0" stroke-width="1.1" stroke-linejoin="round" stroke-linecap="round" opacity="1.0" />
<polyline points="368.7,78.5 370.1,78.9 371.1,79.4 372.1,78.9 373.5,78.5" fill="none" stroke="#b060b0" stroke-width="1.0" stroke-linejoin="round" stroke-linecap="round" opacity="1.0" />
<polyline points="371.1,73.1 371.1,78.9" fill="none" stroke="#b060b0" stroke-width="1.1" stroke-linejoin="round" stroke-linecap="round" opacity="1.0" />
<polyline points="373.4,90.0 374.8,90.4 375.8,90.9 376.8,90.4 378.2,90.0" fill="none" stroke="#60a060" stroke-width="1.0" stroke-linejoin="round" stroke-linecap="round" opacity="1.0" />
<polyline points="375.8,86.8 375.8,90.4" fill="none" stroke="#60a060" stroke-width="1.1" stroke-linejoin="round" stroke-linecap="round" opacity="1.0" />
<polyline points="378.2,99.3 379.6,99.1 380.2,98.3 380.6,96.0 381.0,98.3 381.6,99.1 383.0,99.3" fill="none" stroke="#6050b0" stroke-width="0.85" stroke-linejoin="round" stroke-linecap="round" opacity="1.0" />
<polyline points="383.1,100.5 384.5,100.3 385.1,99.5 385.5,98.3 385.9,99.5 386.5,100.3 387.9,100.5" fill="none" stroke="#8070c8" stroke-width="0.85" stroke-linejoin="round" stroke-linecap="round" opacity="1.0" />
<polyline points="387.7,100.6 389.1,100.4 389.7,99.6 390.1,98.3 390.5,99.6 391.1,100.4 392.5,100.6" fill="none" stroke="#9060c0" stroke-width="0.85" stroke-linejoin="round" stroke-linecap="round" opacity="1.0" />
<polyline points="392.4,99.5 393.8,99.3 394.4,98.5 394.8,91.2 395.2,98.5 395.8,99.3 397.2,99.5" fill="none" stroke="#c07070" stroke-width="0.85" stroke-linejoin="round" stroke-linecap="round" opacity="1.0" />
<polyline points="397.1,99.8 398.5,99.6 399.1,98.8 399.5,84.4 399.9,98.8 400.5,99.6 401.9,99.8" fill="none" stroke="#a0a060" stroke-width="0.85" stroke-linejoin="round" stroke-linecap="round" opacity="1.0" />
<polyline points="402.0,100.0 403.4,99.8 404.0,99.0 404.4,84.2 404.8,99.0 405.4,99.8 406.8,100.0" fill="none" stroke="#5060c0" stroke-width="0.85" stroke-linejoin="round" stroke-linecap="round" opacity="1.0" />
<polyline points="406.9,100.5 408.3,100.3 408.9,99.5 409.3,85.1 409.7,99.5 410.3,100.3 411.7,100.5" fill="none" stroke="#60b0b0" stroke-width="0.85" stroke-linejoin="round" stroke-linecap="round" opacity="1.0" />
<polyline points="411.6,100.9 413.0,100.7 413.6,99.9 414.0,85.8 414.4,99.9 415.0,100.7 416.4,100.9" fill="none" stroke="#b08850" stroke-width="0.85" stroke-linejoin="round" stroke-linecap="round" opacity="1.0" />
<polyline points="416.2,101.1 417.6,100.9 418.2,100.1 418.6,86.5 419.0,100.1 419.6,100.9 421.0,101.1" fill="none" stroke="#80c070" stroke-width="0.85" stroke-linejoin="round" stroke-linecap="round" opacity="1.0" />
<polyline points="421.2,101.3 422.6,101.1 423.2,100.3 423.6,86.6 424.0,100.3 424.6,101.1 426.0,101.3" fill="none" stroke="#c04890" stroke-width="0.85" stroke-linejoin="round" stroke-linecap="round" opacity="1.0" />
<polyline points="426.0,101.3 427.4,101.1 428.0,100.3 428.4,87.6 428.8,100.3 429.4,101.1 430.8,101.3" fill="none" stroke="#60c0d0" stroke-width="0.85" stroke-linejoin="round" stroke-linecap="round" opacity="1.0" />
<polyline points="430.5,101.3 431.9,101.1 432.5,100.3 432.9,88.1 433.3,100.3 433.9,101.1 435.3,101.3" fill="none" stroke="#5050b8" stroke-width="0.85" stroke-linejoin="round" stroke-linecap="round" opacity="1.0" />
<polyline points="435.3,101.3 436.7,101.1 437.3,100.3 437.7,89.3 438.1,100.3 438.7,101.1 440.1,101.3" fill="none" stroke="#90b040" stroke-width="0.85" stroke-linejoin="round" stroke-linecap="round" opacity="1.0" />
<polyline points="440.0,101.3 441.4,101.1 442.0,100.3 442.4,90.9 442.8,100.3 443.4,101.1 444.8,101.3" fill="none" stroke="#806060" stroke-width="0.85" stroke-linejoin="round" stroke-linecap="round" opacity="1.0" />
<polyline points="444.8,101.3 446.2,101.1 446.8,100.3 447.2,92.1 447.6,100.3 448.2,101.1 449.6,101.3" fill="none" stroke="#a05060" stroke-width="0.85" stroke-linejoin="round" stroke-linecap="round" opacity="1.0" />
<polyline points="449.6,101.3 451.0,101.1 451.6,100.3 452.0,94.5 452.4,100.3 453.0,101.1 454.4,101.3" fill="none" stroke="#60b060" stroke-width="0.85" stroke-linejoin="round" stroke-linecap="round" opacity="1.0" />
<polyline points="454.4,101.3 455.8,101.1 456.4,100.3 456.8,95.9 457.2,100.3 457.8,101.1 459.2,101.3" fill="none" stroke="#60a8e0" stroke-width="0.85" stroke-linejoin="round" stroke-linecap="round" opacity="1.0" />
<polyline points="459.2,101.3 460.6,101.1 461.2,100.3 461.6,96.9 462.0,100.3 462.6,101.1 464.0,101.3" fill="none" stroke="#4050a0" stroke-width="0.85" stroke-linejoin="round" stroke-linecap="round" opacity="1.0" />
<polyline points="463.9,101.3 465.3,101.1 465.9,100.3 466.3,99.3 466.7,100.3 467.3,101.1 468.7,101.3" fill="none" stroke="#222" stroke-width="0.85" stroke-linejoin="round" stroke-linecap="round" opacity="1.0" />
<polyline points="468.3,101.4 469.7,101.2 470.3,100.4 470.7,100.3 471.1,100.4 471.7,101.2 473.1,101.4" fill="none" stroke="#e04040" stroke-width="0.85" stroke-linejoin="round" stroke-linecap="round" opacity="1.0" />
<polyline points="473.1,101.6 479.7,101.6" fill="none" stroke="#a0a0e0" stroke-width="1.0" stroke-linejoin="round" stroke-linecap="round" opacity="1.0" />
<polyline points="479.7,101.7 481.0,101.8 481.6,102.3 482.4,101.8 484.5,101.7" fill="none" stroke="#d060c0" stroke-width="1.0" stroke-linejoin="round" stroke-linecap="round" opacity="1.0" />
<polyline points="484.5,101.7 488.7,101.7" fill="none" stroke="#80c080" stroke-width="1.0" stroke-linejoin="round" stroke-linecap="round" opacity="1.0" />
<polyline points="488.7,101.6 492.8,101.6" fill="none" stroke="#9080d0" stroke-width="1.0" stroke-linejoin="round" stroke-linecap="round" opacity="1.0" />
<polyline points="513.7,19.6 516.5,19.0 519.0,18.4" fill="none" stroke="#222" stroke-width="1.1" stroke-linejoin="round" stroke-linecap="round" opacity="1.0" />
<polyline points="519.3,16.9 524.7,16.9" fill="none" stroke="#f0a090" stroke-width="1.0" stroke-linejoin="round" stroke-linecap="round" opacity="1.0" />
<polyline points="524.2,25.3 526.9,27.2 529.5,24.3" fill="none" stroke="#4050b0" stroke-width="1.2" stroke-linejoin="round" stroke-linecap="round" opacity="1.0" />
<polyline points="526.9,27.2 526.9,34.4" fill="none" stroke="#4050b0" stroke-width="1.2" stroke-linejoin="round" stroke-linecap="round" opacity="1.0" />
<polyline points="529.8,34.4 531.9,35.8 534.6,34.1" fill="none" stroke="#b060c0" stroke-width="1.2" stroke-linejoin="round" stroke-linecap="round" opacity="1.0" />
<polyline points="531.9,35.8 531.9,44.4" fill="none" stroke="#b060c0" stroke-width="1.2" stroke-linejoin="round" stroke-linecap="round" opacity="1.0" />
<polyline points="535.0,64.2 537.9,62.1 539.2,63.8" fill="none" stroke="#50a050" stroke-width="0.7" stroke-linejoin="round" stroke-linecap="round" opacity="1.0" />
<polyline points="537.6,63.0 537.5,67.1" fill="none" stroke="#50a050" stroke-width="0.7" stroke-linejoin="round" stroke-linecap="round" opacity="1.0" />
<circle cx="535.2" cy="64.2" r="0.65" fill="#50a050"/>
<circle cx="537.9" cy="62.3" r="0.65" fill="#50a050"/>
<circle cx="539.1" cy="63.9" r="0.55" fill="#50a050"/>
<polyline points="540.4,83.8 542.5,80.9 544.2,83.8" fill="none" stroke="#5050b0" stroke-width="0.7" stroke-linejoin="round" stroke-linecap="round" opacity="1.0" />
<circle cx="540.5" cy="83.7" r="0.65" fill="#5050b0"/>
<circle cx="542.5" cy="81.1" r="0.65" fill="#5050b0"/>
<circle cx="544.1" cy="83.7" r="0.5" fill="#5050b0"/>
<polyline points="545.5,86.3 547.5,82.6 549.6,86.3" fill="none" stroke="#7060c0" stroke-width="0.7" stroke-linejoin="round" stroke-linecap="round" opacity="1.0" />
<circle cx="545.6" cy="86.2" r="0.65" fill="#7060c0"/>
<circle cx="547.5" cy="82.8" r="0.65" fill="#7060c0"/>
<circle cx="549.5" cy="86.1" r="0.5" fill="#7060c0"/>
<polyline points="550.9,83.0 553.0,79.6 555.1,83.0" fill="none" stroke="#9050b0" stroke-width="0.7" stroke-linejoin="round" stroke-linecap="round" opacity="1.0" />
<circle cx="551.0" cy="82.9" r="0.65" fill="#9050b0"/>
<circle cx="553.0" cy="79.8" r="0.65" fill="#9050b0"/>
<circle cx="555.0" cy="82.9" r="0.5" fill="#9050b0"/>
<polyline points="555.5,74.2 558.0,71.7 559.7,73.0" fill="none" stroke="#a03030" stroke-width="0.9" stroke-linejoin="round" stroke-linecap="round" opacity="1.0" />
<circle cx="555.7" cy="74.0" r="0.6" fill="#a03030"/>
<polyline points="560.5,64.8 562.9,63.4 565.8,64.8" fill="none" stroke="#a0a040" stroke-width="1.2" stroke-linejoin="round" stroke-linecap="round" opacity="1.0" />
<polyline points="565.8,61.5 568.2,60.0 570.6,61.5" fill="none" stroke="#4060c0" stroke-width="1.2" stroke-linejoin="round" stroke-linecap="round" opacity="1.0" />
<polyline points="570.6,56.1 575.6,55.7" fill="none" stroke="#60b0b0" stroke-width="1.0" stroke-linejoin="round" stroke-linecap="round" opacity="1.0" />
<polyline points="575.6,55.5 577.5,55.1 578.5,55.6 580.5,55.4" fill="none" stroke="#c08040" stroke-width="1.0" stroke-linejoin="round" stroke-linecap="round" opacity="1.0" />
<polyline points="581.2,56.4 586.1,56.9" fill="none" stroke="#80c040" stroke-width="1.0" stroke-linejoin="round" stroke-linecap="round" opacity="1.0" />
<polyline points="586.1,63.5 591.7,63.5" fill="none" stroke="#d04080" stroke-width="1.0" stroke-linejoin="round" stroke-linecap="round" opacity="1.0" />
<polyline points="591.1,74.3 596.7,74.0" fill="none" stroke="#70c8d0" stroke-width="1.0" stroke-linejoin="round" stroke-linecap="round" opacity="1.0" />
<polyline points="596.1,80.5 602.0,80.5" fill="none" stroke="#4040b0" stroke-width="1.0" stroke-linejoin="round" stroke-linecap="round" opacity="1.0" />
<polyline points="601.6,88.3 607.0,88.3" fill="none" stroke="#a0b040" stroke-width="1.0" stroke-linejoin="round" stroke-linecap="round" opacity="1.0" />
<polyline points="606.6,95.4 612.0,95.4" fill="none" stroke="#909090" stroke-width="1.0" stroke-linejoin="round" stroke-linecap="round" opacity="1.0" />
<polyline points="612.0,97.9 616.9,98.0" fill="none" stroke="#d0a0b0" stroke-width="1.0" stroke-linejoin="round" stroke-linecap="round" opacity="1.0" />
<polyline points="617.3,98.5 621.8,98.5" fill="none" stroke="#a0d0a0" stroke-width="1.0" stroke-linejoin="round" stroke-linecap="round" opacity="1.0" />
<polyline points="621.8,98.7 626.8,98.8" fill="none" stroke="#a0d0e0" stroke-width="1.0" stroke-linejoin="round" stroke-linecap="round" opacity="1.0" />
<polyline points="626.8,99.3 632.1,99.5" fill="none" stroke="#6080d0" stroke-width="1.0" stroke-linejoin="round" stroke-linecap="round" opacity="1.0" />
<polyline points="632.1,100.3 637.8,100.5" fill="none" stroke="#333" stroke-width="1.0" stroke-linejoin="round" stroke-linecap="round" opacity="1.0" />
<polyline points="637.8,102.6 642.8,102.6" fill="none" stroke="#e05040" stroke-width="1.0" stroke-linejoin="round" stroke-linecap="round" opacity="1.0" />
<polyline points="642.8,102.6 648.1,102.6" fill="none" stroke="#5070d0" stroke-width="1.0" stroke-linejoin="round" stroke-linecap="round" opacity="1.0" />
<polyline points="648.1,101.1 653.4,101.1" fill="none" stroke="#c080d0" stroke-width="1.0" stroke-linejoin="round" stroke-linecap="round" opacity="1.0" />
<polyline points="41.6,370.0 45.4,370.0 45.4,369.8 45.4,369.6 45.4,369.4 45.4,369.1 45.4,368.9 45.4,368.6 45.4,368.4 45.4,368.1 45.4,367.9 45.5,367.6 45.5,367.3 45.5,367.0 45.5,366.7 45.5,366.4 45.5,366.1 45.5,365.8 45.5,365.4 45.5,365.1 45.5,364.8 45.5,364.4 45.5,364.1 45.5,363.7 45.5,363.4 45.6,363.0 45.6,362.6 45.6,362.2 45.6,361.9 45.6,361.5 45.6,361.1 45.6,360.7 45.6,360.3 45.6,359.9 45.6,359.5 45.6,359.1 45.6,358.6 45.7,358.2 45.7,357.8 45.7,357.4 45.7,356.9 45.7,356.5 45.7,356.1 45.7,355.6 45.7,355.2 45.7,354.7 45.7,354.3 45.8,353.8 45.8,353.4 45.8,352.9 45.8,352.5 45.8,352.0 45.8,351.5 45.8,351.1 45.8,350.6 45.8,350.1 45.8,349.7 45.9,349.2 45.9,348.7 45.9,348.3 45.9,347.8 45.9,347.3 45.9,346.9 45.9,346.4 45.9,345.9 45.9,345.5 45.9,345.0 46.0,344.5 46.0,344.1 46.0,343.6 46.0,343.1 46.0,342.7 46.0,342.2 46.0,341.7 46.0,341.3 46.0,340.8 46.1,340.4 46.1,339.9 46.1,339.5 46.1,339.0 46.1,338.6 46.1,338.1 46.1,337.7 46.1,337.2 46.1,336.8 46.1,336.4 46.2,335.9 46.2,335.5 46.2,335.1 46.2,334.7 46.2,334.3 46.2,333.9 46.2,333.4 46.2,333.0 46.2,332.6 46.2,332.3 46.3,331.9 46.3,331.5 46.3,331.1 46.3,330.7 46.3,330.4 46.3,330.0 46.3,329.5 46.3,329.1 46.3,328.6 46.3,328.2 46.4,327.7 46.4,327.3 46.4,326.8 46.4,326.4 46.4,325.9 46.4,325.4 46.4,325.0 46.4,324.5 46.4,324.0 46.5,323.6 46.5,323.1 46.5,322.6 46.5,322.2 46.5,321.7 46.5,321.3 46.5,320.8 46.5,320.3 46.6,319.9 46.6,319.4 46.6,318.9 46.6,318.5 46.6,318.0 46.6,317.6 46.6,317.1 46.6,316.7 46.6,316.2 46.7,315.7 46.7,315.3 46.7,314.9 46.7,314.4 46.7,314.0 46.7,313.5 46.7,313.1 46.7,312.6 46.8,312.2 46.8,311.8 46.8,311.3 46.8,310.9 46.8,310.5 46.8,310.1 46.8,309.7 46.8,309.2 46.8,308.8 46.9,308.4 46.9,308.0 46.9,307.6 46.9,307.2 46.9,306.8 46.9,306.5 46.9,306.1 46.9,305.7 46.9,305.3 47.0,305.0 47.0,304.6 47.0,304.2 47.0,303.9 47.0,303.5 47.0,303.2 47.0,302.8 47.0,302.5 47.0,302.2 47.1,301.9 47.1,301.5 47.1,301.2 47.1,300.9 47.1,300.6 47.1,300.3 47.1,300.0 47.1,299.8 47.1,299.5 47.1,299.2 47.2,299.0 47.2,298.7 47.2,298.5 47.2,298.2 47.2,298.0 47.3,296.5 47.3,295.4 47.4,294.6 47.5,294.0 47.5,293.7 47.6,293.5 47.6,293.5 47.7,293.5 47.8,293.6 47.8,293.6 47.9,293.6 48.0,293.6 48.1,293.8 48.2,294.1 48.3,294.5 48.4,295.0 48.6,295.6 48.7,296.3 48.8,297.0 48.8,297.3 48.9,297.5 48.9,297.8 49.0,298.1 49.0,298.4 49.1,298.6 49.1,298.9 49.2,299.2 49.2,299.5 49.3,299.8 49.3,300.2 49.4,300.5 49.4,300.9 49.5,301.3 49.5,301.8 49.6,302.3 49.6,302.8 49.7,303.3 49.7,303.9 49.8,304.6 49.8,305.3 49.9,306.0 49.9,306.3 49.9,306.6 50.0,306.9 50.0,307.2 50.0,307.5 50.0,307.8 50.0,308.2 50.1,308.5 50.1,308.8 50.1,309.2 50.1,309.6 50.1,309.9 50.2,310.3 50.2,310.7 50.2,311.1 50.2,311.5 50.2,311.9 50.3,312.3 50.3,312.7 50.3,313.1 50.3,313.5 50.3,313.9 50.4,314.4 50.4,314.8 50.4,315.2 50.4,315.7 50.4,316.1 50.5,316.6 50.5,317.0 50.5,317.4 50.5,317.9 50.5,318.3 50.6,318.8 50.6,319.2 50.6,319.7 50.6,320.1 50.6,320.6 50.7,321.0 50.7,321.5 50.7,321.9 50.7,322.4 50.7,322.8 50.8,323.3 50.8,323.7 50.8,324.1 50.8,324.6 50.8,325.0 50.9,325.4 50.9,325.9 50.9,326.3 50.9,326.7 50.9,327.1 51.0,327.5 51.0,327.9 51.0,328.3 51.0,328.7 51.0,329.1 51.0,329.5 51.1,329.9 51.1,330.2 51.1,330.6 51.1,331.1 51.1,331.5 51.2,332.0 51.2,332.4 51.2,332.9 51.2,333.3 51.2,333.8 51.3,334.3 51.3,334.7 51.3,335.2 51.3,335.6 51.3,336.1 51.3,336.5 51.4,337.0 51.4,337.4 51.4,337.9 51.4,338.3 51.4,338.7 51.4,339.2 51.5,339.6 51.5,340.0 51.5,340.5 51.5,340.9 51.5,341.3 51.5,341.7 51.6,342.1 51.6,342.6 51.6,343.0 51.6,343.4 51.6,343.8 51.6,344.1 51.7,344.5 51.7,344.9 51.7,345.3 51.7,345.6 51.7,346.0 51.8,346.4 51.8,346.7 51.8,347.1 51.8,347.4 51.8,347.7 51.9,348.0 51.9,348.3 51.9,348.7 51.9,349.0 52.0,349.2 52.0,349.5 52.0,349.8 52.1,350.5 52.1,351.2 52.2,351.8 52.3,352.3 52.4,352.8 52.5,353.2 52.6,353.6 52.7,353.9 52.8,354.2 52.9,354.5 52.9,354.8 53.0,355.1 53.1,355.4 53.2,355.6 53.3,355.9 53.4,356.2 53.5,356.5 53.6,357.0 53.7,357.4 53.8,357.8 53.9,358.2 54.0,358.6 54.1,359.0 54.2,359.3 54.3,359.6 54.5,360.0 54.7,360.3 55.0,360.7 55.2,361.0 55.5,361.3 55.8,361.5 56.1,361.8 56.4,362.1 56.7,362.4 57.1,362.7 57.4,363.0 57.8,363.3 58.1,363.5 58.5,363.8 58.9,364.0 59.2,364.2 59.6,364.4 59.9,364.6 60.3,365.5" fill="none" stroke="#34606a" stroke-width="0.95" stroke-linejoin="round" stroke-linecap="round" opacity="1.0" />
<polyline points="59.6,364.4 59.9,364.6 60.3,365.5 60.7,365.3 61.1,365.9 61.6,366.1 62.0,365.3 62.4,365.9 62.8,365.3 63.2,366.2 63.6,366.2 64.1,365.0 64.5,364.8 64.9,365.1 65.3,365.7 65.7,365.3 66.1,364.5 66.4,365.9 66.8,365.7 67.2,364.9 67.6,364.0 68.0,365.4 68.4,364.5 68.8,363.5 69.2,363.7 69.6,364.1 70.0,364.3 70.3,363.4 70.6,363.5 70.9,362.5 71.3,362.4 71.6,363.3 71.9,362.1 72.2,361.4 72.6,362.0 72.9,361.0 73.3,360.8 73.6,361.0 73.9,361.0 74.3,360.9 74.6,360.7 75.0,360.0 75.3,359.1 75.7,360.0 76.0,358.6 76.3,359.1 76.7,358.8 77.0,359.0 77.4,358.9 77.7,357.8 78.1,358.3 78.4,358.1 78.8,357.5 79.2,356.7 79.5,357.8 79.9,357.0 80.2,355.9 80.6,356.0 80.9,357.1 81.2,355.5 81.5,355.6 81.8,356.2 82.1,356.0 82.4,355.5 82.9,355.5 83.3,353.9 83.7,353.8 84.1,355.2 84.4,354.8 84.7,353.2 85.0,353.1 85.4,353.3 85.7,354.4 86.0,352.9 86.3,353.5 86.7,353.8 86.9,353.0 87.2,353.3 87.5,351.9 87.8,351.5 88.2,351.1 88.6,352.2 89.1,350.8 89.4,352.2 89.7,351.6 90.1,350.5 90.4,351.5 90.8,350.2 91.2,350.7 91.7,349.8 92.1,350.9 92.5,351.0 92.9,350.9 93.4,349.1 93.8,350.5 94.2,349.8 94.6,350.1 95.0,349.4 95.4,349.5 95.8,349.4 96.2,349.6 96.7,348.2 97.1,348.0 97.5,348.8 97.9,348.2 98.3,348.3 98.7,347.5 99.0,348.7 99.4,347.3 99.8,348.6 100.2,348.5 100.6,347.7 101.1,347.0 101.5,347.9 101.9,347.0 102.2,347.3 102.6,346.6 103.0,348.1 103.4,347.2 103.8,346.8 104.1,346.2 104.5,347.3 104.9,347.4 105.3,347.3 105.7,345.9 106.1,346.3 106.5,346.1 107.0,346.8 107.4,345.6 107.8,346.4 108.2,347.0 108.6,346.5 109.0,345.1 109.3,345.1 109.7,345.2 110.1,346.1 110.5,345.9 110.9,345.7 111.3,345.5 111.7,345.4 112.1,345.7 112.5,345.7 113.0,346.2 113.4,345.8 113.8,345.9 114.2,346.0 114.6,345.8 115.0,345.6 115.4,344.3 115.8,345.4 116.2,345.7 116.6,344.9 117.0,345.7 117.4,344.4 117.8,345.7 118.3,344.8 118.7,345.2 119.1,344.3 119.5,344.4 119.9,344.4 120.3,344.4 120.7,343.9 121.2,344.5 121.6,345.5 122.0,344.9 122.4,345.3 122.7,345.0 123.1,345.1 123.5,345.4 123.9,344.9 124.3,344.1 124.6,344.0 124.9,344.3 125.2,343.6 125.5,344.0 125.7,345.2 126.0,345.2 126.3,344.2 126.7,345.0 127.1,345.0 127.5,345.2 128.0,345.1 128.6,344.6 129.2,343.9 130.0,345.2 130.3,344.3 130.6,344.8 130.9,344.4 131.2,344.7 131.5,345.5 131.8,344.0 132.2,344.7 132.5,344.9 132.9,344.7 133.2,345.5 133.6,344.5 134.0,345.5 134.4,345.1 134.8,345.6 135.2,344.0 135.6,344.2 136.0,344.4 136.4,345.5 136.8,343.9 137.3,344.4 137.7,345.2 138.1,345.7 138.6,344.3 139.0,344.8 139.5,345.2 139.9,345.2 140.3,345.4 140.8,345.4 141.2,344.5 141.7,344.5 142.1,344.1 142.6,345.3 143.0,344.5 143.5,344.6 143.9,345.8 144.3,345.3 144.8,345.2 145.2,345.3 145.6,345.2 146.0,345.4 146.5,344.7 146.9,344.3 147.3,344.3 147.7,344.2 148.1,344.8 148.5,344.5 148.8,344.4 149.2,345.1 149.7,345.9 150.1,345.4 150.6,344.7 151.0,345.6 151.5,344.5 152.0,344.4 152.5,344.7 152.9,344.9 153.4,345.4 153.9,345.0 154.4,345.5 154.9,344.3 155.3,345.8 155.8,344.8 156.3,345.6 156.7,344.2 157.2,345.6 157.7,344.5 158.1,345.6 158.6,345.5 159.0,345.3 159.4,344.6 159.9,344.1 160.3,344.4 160.7,345.6 161.1,344.3 161.5,345.2 161.9,345.0 162.2,345.2 162.6,344.3 162.9,344.2 163.3,344.1 163.6,345.7 163.9,344.6 164.1,345.1 164.4,344.9 164.7,344.3 164.9,344.0 165.1,343.9" fill="none" stroke="#34606a" stroke-width="1.15" stroke-linejoin="round" stroke-linecap="round" opacity="1.0" />
<polyline points="41.6,370.0 45.4,370.0 45.4,369.8 45.4,369.6 45.4,369.4 45.4,369.1 45.4,368.9 45.4,368.6 45.4,368.4 45.4,368.1 45.4,367.9 45.5,367.6 45.5,367.3 45.5,367.0 45.5,366.7 45.5,366.4 45.5,366.1 45.5,365.8 45.5,365.4 45.5,365.1 45.5,364.8 45.5,364.4 45.5,364.1 45.5,363.7 45.5,363.4 45.6,363.0 45.6,362.6 45.6,362.2 45.6,361.9 45.6,361.5 45.6,361.1 45.6,360.7 45.6,360.3 45.6,359.9 45.6,359.5 45.6,359.1 45.6,358.6 45.7,358.2 45.7,357.8 45.7,357.4 45.7,356.9 45.7,356.5 45.7,356.1 45.7,355.6 45.7,355.2 45.7,354.7 45.7,354.3 45.8,353.8 45.8,353.4 45.8,352.9 45.8,352.5 45.8,352.0 45.8,351.5 45.8,351.1 45.8,350.6 45.8,350.1 45.8,349.7 45.9,349.2 45.9,348.7 45.9,348.3 45.9,347.8 45.9,347.3 45.9,346.9 45.9,346.4 45.9,345.9 45.9,345.5 45.9,345.0 46.0,344.5 46.0,344.1 46.0,343.6 46.0,343.1 46.0,342.7 46.0,342.2 46.0,341.7 46.0,341.3 46.0,340.8 46.1,340.4 46.1,339.9 46.1,339.5 46.1,339.0 46.1,338.6 46.1,338.1 46.1,337.7 46.1,337.2 46.1,336.8 46.1,336.4 46.2,335.9 46.2,335.5 46.2,335.1 46.2,334.7 46.2,334.3 46.2,333.9 46.2,333.4 46.2,333.0 46.2,332.6 46.2,332.3 46.3,331.9 46.3,331.5 46.3,331.1 46.3,330.7 46.3,330.4 46.3,330.0 46.3,329.5 46.3,329.1 46.3,328.6 46.3,328.2 46.4,327.7 46.4,327.3 46.4,326.8 46.4,326.4 46.4,325.9 46.4,325.4 46.4,325.0 46.4,324.5 46.4,324.0 46.5,323.6 46.5,323.1 46.5,322.6 46.5,322.2 46.5,321.7 46.5,321.3 46.5,320.8 46.5,320.3 46.6,319.9 46.6,319.4 46.6,318.9 46.6,318.5 46.6,318.0 46.6,317.6 46.6,317.1 46.6,316.7 46.6,316.2 46.7,315.7 46.7,315.3 46.7,314.9 46.7,314.4 46.7,314.0 46.7,313.5 46.7,313.1 46.7,312.6 46.8,312.2 46.8,311.8 46.8,311.3 46.8,310.9 46.8,310.5 46.8,310.1 46.8,309.7 46.8,309.2 46.8,308.8 46.9,308.4 46.9,308.0 46.9,307.6 46.9,307.2 46.9,306.8 46.9,306.5 46.9,306.1 46.9,305.7 46.9,305.3 47.0,305.0 47.0,304.6 47.0,304.2 47.0,303.9 47.0,303.5 47.0,303.2 47.0,302.8 47.0,302.5 47.0,302.2 47.1,301.9 47.1,301.5 47.1,301.2 47.1,300.9 47.1,300.6 47.1,300.3 47.1,300.0 47.1,299.8 47.1,299.5 47.1,299.2 47.2,299.0 47.2,298.7 47.2,298.5 47.2,298.2 47.2,298.0 47.3,296.5 47.3,295.4 47.4,294.6 47.5,294.0 47.5,293.7 47.6,293.5 47.6,293.5 47.7,293.5 47.8,293.6 47.8,293.6 47.9,293.6 48.0,293.6 48.1,293.8 48.2,294.1 48.3,294.5 48.4,295.0 48.6,295.6 48.7,296.3 48.8,297.0 48.8,297.3 48.9,297.5 48.9,297.8 49.0,298.1 49.0,298.4 49.1,298.6 49.1,298.9 49.2,299.2 49.2,299.5 49.3,299.8 49.3,300.2 49.4,300.5 49.4,300.9 49.5,301.3 49.5,301.8 49.6,302.3 49.6,302.8 49.7,303.3 49.7,303.9 49.8,304.6 49.8,305.3 49.9,306.0 49.9,306.3 49.9,306.6 50.0,306.9 50.0,307.2 50.0,307.5 50.0,307.8 50.0,308.2 50.1,308.5 50.1,308.8 50.1,309.2 50.1,309.6 50.1,309.9 50.2,310.3 50.2,310.7 50.2,311.1 50.2,311.5 50.2,311.9 50.3,312.3 50.3,312.7 50.3,313.1 50.3,313.5 50.3,313.9 50.4,314.4 50.4,314.8 50.4,315.2 50.4,315.7 50.4,316.1 50.5,316.6 50.5,317.0 50.5,317.4 50.5,317.9 50.5,318.3 50.6,318.8 50.6,319.2 50.6,319.7 50.6,320.1 50.6,320.6 50.7,321.0 50.7,321.5 50.7,321.9 50.7,322.4 50.7,322.8 50.8,323.3 50.8,323.7 50.8,324.1 50.8,324.6 50.8,325.0 50.9,325.4 50.9,325.9 50.9,326.3 50.9,326.7 50.9,327.1 51.0,327.5 51.0,327.9 51.0,328.3 51.0,328.7 51.0,329.1 51.0,329.5 51.1,329.9 51.1,330.2 51.1,330.6 51.1,331.1 51.1,331.5 51.2,332.0 51.2,332.4 51.2,332.9 51.2,333.3 51.2,333.8 51.3,334.3 51.3,334.7 51.3,335.2 51.3,335.6 51.3,336.1 51.3,336.5 51.4,337.0 51.4,337.4 51.4,337.9 51.4,338.3 51.4,338.7 51.4,339.2 51.5,339.6 51.5,340.0 51.5,340.5 51.5,340.9 51.5,341.3 51.5,341.7 51.6,342.1 51.6,342.6 51.6,343.0 51.6,343.4 51.6,343.8 51.6,344.1 51.7,344.5 51.7,344.9 51.7,345.3 51.7,345.6 51.7,346.0 51.8,346.4 51.8,346.7 51.8,347.1 51.8,347.4 51.8,347.7 51.9,348.0 51.9,348.3 51.9,348.7 51.9,349.0 52.0,349.2 52.0,349.5 52.0,349.8 52.1,350.5 52.1,351.2 52.2,351.8 52.3,352.3 52.4,352.8 52.5,353.2 52.6,353.6 52.7,353.9 52.8,354.2 52.9,354.5 52.9,354.8 53.0,355.1 53.1,355.4 53.2,355.6 53.3,355.9 53.4,356.2 53.5,356.5 53.6,357.0 53.7,357.4 53.8,357.8 53.9,358.2 54.0,358.6 54.1,359.0 54.2,359.3 54.3,359.6 54.5,360.0 54.7,360.3 55.0,360.7 55.2,361.0 55.5,361.3 55.8,361.5 56.1,361.8 56.4,362.1 56.7,362.4 57.1,362.7 57.4,363.0 57.8,363.3 58.1,363.5 58.5,363.8 58.9,364.0 59.2,364.2 59.6,364.4 59.9,364.6 60.3,365.4" fill="none" stroke="#e0287c" stroke-width="0.95" stroke-linejoin="round" stroke-linecap="round" opacity="1.0" />
<polyline points="59.6,364.4 59.9,364.6 60.3,365.4 60.7,364.3 61.1,366.0 61.6,365.0 62.0,365.8 62.4,364.8 62.8,366.1 63.2,365.1 63.6,365.4 64.1,365.7 64.5,364.9 64.9,365.1 65.3,366.1 65.7,365.1 66.1,365.2 66.4,365.8 66.8,364.7 67.2,364.5 67.6,364.3 68.0,364.5 68.4,364.2 68.8,364.5 69.2,364.0 69.6,364.5 70.0,362.8 70.3,363.7 70.6,363.8 70.9,362.5 71.3,362.0 71.6,362.5 71.9,361.7 72.2,362.0 72.6,362.3 72.9,360.9 73.3,360.7 73.6,361.1 73.9,360.3 74.3,360.1 74.6,360.3 75.0,359.4 75.3,359.1 75.7,359.4 76.0,359.3 76.3,360.0 76.7,359.1 77.0,358.0 77.4,358.0 77.7,358.7 78.1,358.1 78.4,358.5 78.8,358.4 79.2,358.0 79.5,356.4 79.9,357.7 80.2,356.7 80.6,356.0 80.9,355.6 81.2,356.7 81.5,355.3 81.8,354.9 82.1,355.0 82.4,356.1 82.9,354.9 83.3,355.2 83.7,353.8 84.1,354.2 84.4,353.8 84.7,353.4 85.0,354.1 85.4,353.3 85.7,352.7 86.0,354.1 86.3,352.9 86.7,352.2 86.9,351.6 87.2,352.6 87.5,352.1 87.8,351.0 88.2,351.5 88.6,351.8 89.1,351.2 89.4,350.5 89.7,350.8 90.1,350.9 90.4,350.8 90.8,349.8 91.2,350.8 91.7,350.9 92.1,350.4 92.5,350.5 92.9,349.4 93.4,350.2 93.8,348.8 94.2,348.7 94.6,349.3 95.0,349.7 95.4,348.1 95.8,348.2 96.2,347.7 96.6,348.3 97.0,347.6 97.4,347.6 97.7,348.5 98.1,348.1 98.5,348.6 98.8,347.5 99.2,347.9 99.6,346.5 99.9,348.1 100.3,346.7 100.7,347.0 101.1,346.9 101.5,347.6 101.9,346.7 102.2,347.5 102.6,346.7 103.0,345.8 103.4,346.8 103.8,345.6 104.1,346.9 104.5,345.8 104.9,345.3 105.3,346.5 105.7,345.2 106.1,345.3 106.5,345.0 107.0,345.5 107.4,344.2 107.8,344.8 108.2,344.3 108.6,345.4 109.0,343.8 109.3,344.8 109.7,344.1 110.1,344.4 110.5,344.5 110.9,344.7 111.3,343.6 111.7,343.7 112.1,343.4 112.5,344.9 113.0,343.3 113.4,343.2 113.8,343.9 114.2,343.9 114.6,344.4 115.0,342.8 115.4,343.1 115.8,342.9 116.2,343.6 116.6,343.3 117.0,343.2 117.4,344.0 117.8,343.5 118.3,343.8 118.7,343.9 119.1,342.6 119.5,343.8 119.9,342.8 120.3,342.1 120.7,343.6 121.2,342.1 121.6,341.8 122.0,342.3 122.4,342.2 122.7,343.4 123.1,343.2 123.5,342.4 123.9,342.5 124.3,343.0 124.6,342.9 124.9,342.6 125.2,342.3 125.5,341.6 125.7,341.8 126.0,342.5 126.3,342.4 126.7,342.7 127.1,342.9 127.5,343.0 128.0,341.6 128.6,341.3 129.2,342.8 130.0,342.1 130.3,341.4 130.6,342.3 130.9,341.5 131.2,341.5 131.5,341.7 131.8,342.0 132.2,342.2 132.5,341.1 132.9,342.3 133.2,342.1 133.6,341.8 134.0,342.1 134.4,342.3 134.8,340.9 135.2,341.7 135.6,342.1 136.0,342.1 136.4,342.0 136.8,341.1 137.3,342.5 137.7,342.2 138.1,341.2 138.6,341.5 139.0,342.4 139.5,341.1 139.9,341.4 140.3,342.4 140.8,342.3 141.2,341.0 141.7,341.9 142.1,341.2 142.6,341.8 143.0,341.9 143.5,340.8 143.9,340.9 144.3,340.9 144.8,341.0 145.2,340.5 145.6,340.7 146.0,341.2 146.5,341.2 146.9,340.5 147.3,341.4 147.7,342.1 148.1,341.4 148.5,341.0 148.8,341.6 149.2,341.1 149.7,340.6 150.1,341.1 150.6,340.3 151.0,341.4 151.5,340.5 152.0,340.8 152.5,341.9 152.9,341.5 153.4,341.6 153.9,341.3 154.4,341.2 154.9,341.3 155.3,341.8 155.8,340.4 156.3,341.4 156.7,340.5 157.2,340.4 157.7,341.4 158.1,341.0 158.6,341.4 159.0,341.4 159.4,340.9 159.9,340.2 160.3,339.8 160.7,340.8 161.1,341.1 161.5,340.3 161.9,339.9 162.2,339.7 162.6,340.0 162.9,340.9 163.3,339.7 163.6,340.1 163.9,340.1 164.1,340.9 164.4,341.4 164.7,339.7 164.9,339.8 165.1,341.3" fill="none" stroke="#e0287c" stroke-width="1.15" stroke-linejoin="round" stroke-linecap="round" opacity="1.0" />
<polyline points="41.6,370.0 45.4,370.0 45.4,369.8 45.4,369.6 45.4,369.4 45.4,369.1 45.4,368.9 45.4,368.6 45.4,368.4 45.4,368.1 45.4,367.9 45.5,367.6 45.5,367.3 45.5,367.0 45.5,366.7 45.5,366.4 45.5,366.1 45.5,365.8 45.5,365.4 45.5,365.1 45.5,364.8 45.5,364.4 45.5,364.1 45.5,363.7 45.5,363.4 45.6,363.0 45.6,362.6 45.6,362.2 45.6,361.9 45.6,361.5 45.6,361.1 45.6,360.7 45.6,360.3 45.6,359.9 45.6,359.5 45.6,359.1 45.6,358.6 45.7,358.2 45.7,357.8 45.7,357.4 45.7,356.9 45.7,356.5 45.7,356.1 45.7,355.6 45.7,355.2 45.7,354.7 45.7,354.3 45.8,353.8 45.8,353.4 45.8,352.9 45.8,352.5 45.8,352.0 45.8,351.5 45.8,351.1 45.8,350.6 45.8,350.1 45.8,349.7 45.9,349.2 45.9,348.7 45.9,348.3 45.9,347.8 45.9,347.3 45.9,346.9 45.9,346.4 45.9,345.9 45.9,345.5 45.9,345.0 46.0,344.5 46.0,344.1 46.0,343.6 46.0,343.1 46.0,342.7 46.0,342.2 46.0,341.7 46.0,341.3 46.0,340.8 46.1,340.4 46.1,339.9 46.1,339.5 46.1,339.0 46.1,338.6 46.1,338.1 46.1,337.7 46.1,337.2 46.1,336.8 46.1,336.4 46.2,335.9 46.2,335.5 46.2,335.1 46.2,334.7 46.2,334.3 46.2,333.9 46.2,333.4 46.2,333.0 46.2,332.6 46.2,332.3 46.3,331.9 46.3,331.5 46.3,331.1 46.3,330.7 46.3,330.4 46.3,330.0 46.3,329.5 46.3,329.1 46.3,328.6 46.3,328.2 46.4,327.7 46.4,327.3 46.4,326.8 46.4,326.4 46.4,325.9 46.4,325.4 46.4,325.0 46.4,324.5 46.4,324.0 46.5,323.6 46.5,323.1 46.5,322.6 46.5,322.2 46.5,321.7 46.5,321.3 46.5,320.8 46.5,320.3 46.6,319.9 46.6,319.4 46.6,318.9 46.6,318.5 46.6,318.0 46.6,317.6 46.6,317.1 46.6,316.7 46.6,316.2 46.7,315.7 46.7,315.3 46.7,314.9 46.7,314.4 46.7,314.0 46.7,313.5 46.7,313.1 46.7,312.6 46.8,312.2 46.8,311.8 46.8,311.3 46.8,310.9 46.8,310.5 46.8,310.1 46.8,309.7 46.8,309.2 46.8,308.8 46.9,308.4 46.9,308.0 46.9,307.6 46.9,307.2 46.9,306.8 46.9,306.5 46.9,306.1 46.9,305.7 46.9,305.3 47.0,305.0 47.0,304.6 47.0,304.2 47.0,303.9 47.0,303.5 47.0,303.2 47.0,302.8 47.0,302.5 47.0,302.2 47.1,301.9 47.1,301.5 47.1,301.2 47.1,300.9 47.1,300.6 47.1,300.3 47.1,300.0 47.1,299.8 47.1,299.5 47.1,299.2 47.2,299.0 47.2,298.7 47.2,298.5 47.2,298.2 47.2,298.0 47.3,296.5 47.3,295.4 47.4,294.6 47.5,294.0 47.5,293.7 47.6,293.5 47.6,293.5 47.7,293.5 47.8,293.6 47.8,293.6 47.9,293.6 48.0,293.6 48.1,293.8 48.2,294.1 48.3,294.5 48.4,295.0 48.6,295.6 48.7,296.3 48.8,297.0 48.8,297.3 48.9,297.5 48.9,297.8 49.0,298.1 49.0,298.4 49.1,298.6 49.1,298.9 49.2,299.2 49.2,299.5 49.3,299.8 49.3,300.2 49.4,300.5 49.4,300.9 49.5,301.3 49.5,301.8 49.6,302.3 49.6,302.8 49.7,303.3 49.7,303.9 49.8,304.6 49.8,305.3 49.9,306.0 49.9,306.3 49.9,306.6 50.0,306.9 50.0,307.2 50.0,307.5 50.0,307.8 50.0,308.2 50.1,308.5 50.1,308.8 50.1,309.2 50.1,309.6 50.1,309.9 50.2,310.3 50.2,310.7 50.2,311.1 50.2,311.5 50.2,311.9 50.3,312.3 50.3,312.7 50.3,313.1 50.3,313.5 50.3,313.9 50.4,314.4 50.4,314.8 50.4,315.2 50.4,315.7 50.4,316.1 50.5,316.6 50.5,317.0 50.5,317.4 50.5,317.9 50.5,318.3 50.6,318.8 50.6,319.2 50.6,319.7 50.6,320.1 50.6,320.6 50.7,321.0 50.7,321.5 50.7,321.9 50.7,322.4 50.7,322.8 50.8,323.3 50.8,323.7 50.8,324.1 50.8,324.6 50.8,325.0 50.9,325.4 50.9,325.9 50.9,326.3 50.9,326.7 50.9,327.1 51.0,327.5 51.0,327.9 51.0,328.3 51.0,328.7 51.0,329.1 51.0,329.5 51.1,329.9 51.1,330.2 51.1,330.6 51.1,331.1 51.1,331.5 51.2,332.0 51.2,332.4 51.2,332.9 51.2,333.3 51.2,333.8 51.3,334.3 51.3,334.7 51.3,335.2 51.3,335.6 51.3,336.1 51.3,336.5 51.4,337.0 51.4,337.4 51.4,337.9 51.4,338.3 51.4,338.7 51.4,339.2 51.5,339.6 51.5,340.0 51.5,340.5 51.5,340.9 51.5,341.3 51.5,341.7 51.6,342.1 51.6,342.6 51.6,343.0 51.6,343.4 51.6,343.8 51.6,344.1 51.7,344.5 51.7,344.9 51.7,345.3 51.7,345.6 51.7,346.0 51.8,346.4 51.8,346.7 51.8,347.1 51.8,347.4 51.8,347.7 51.9,348.0 51.9,348.3 51.9,348.7 51.9,349.0 52.0,349.2 52.0,349.5 52.0,349.8 52.1,350.5 52.1,351.2 52.2,351.8 52.3,352.3 52.4,352.8 52.5,353.2 52.6,353.6 52.7,353.9 52.8,354.2 52.9,354.5 52.9,354.8 53.0,355.1 53.1,355.4 53.2,355.6 53.3,355.9 53.4,356.2 53.5,356.5 53.6,357.0 53.7,357.4 53.8,357.8 53.9,358.2 54.0,358.6 54.1,359.0 54.2,359.3 54.3,359.6 54.5,360.0 54.7,360.3 55.0,360.7 55.2,361.0 55.5,361.3 55.8,361.5 56.1,361.8 56.4,362.1 56.7,362.4 57.1,362.7 57.4,363.0 57.8,363.3 58.1,363.5 58.5,363.8 58.9,364.0 59.2,364.2 59.6,364.4 59.9,364.6 60.3,365.6" fill="none" stroke="#c040a0" stroke-width="0.95" stroke-linejoin="round" stroke-linecap="round" opacity="1.0" />
<polyline points="59.6,364.4 59.9,364.6 60.3,365.6 60.7,364.3 61.1,364.8 61.6,365.3 62.0,365.1 62.4,365.3 62.8,365.5 63.2,365.2 63.6,364.8 64.1,364.9 64.5,365.0 64.9,364.9 65.3,365.8 65.7,365.8 66.1,365.0 66.4,365.8 66.8,365.6 67.2,364.7 67.6,364.8 68.0,364.1 68.4,365.2 68.8,364.4 69.2,363.3 69.6,363.2 70.0,363.9 70.3,363.2 70.6,363.6 70.9,362.5 71.3,363.3 71.6,363.1 71.9,361.6 72.2,362.3 72.6,361.3 72.9,362.0 73.3,361.9 73.6,361.7 73.9,360.4 74.3,359.9 74.6,360.7 75.0,360.2 75.3,359.2 75.7,359.1 76.0,359.5 76.3,358.5 76.7,359.2 77.0,358.2 77.4,358.0 77.7,358.1 78.1,358.0 78.4,358.1 78.8,356.7 79.2,357.7 79.5,356.5 79.9,356.4 80.2,356.8 80.6,356.7 80.9,356.3 81.2,356.7 81.5,355.2 81.8,355.3 82.1,355.7 82.4,354.9 82.9,354.4 83.4,354.4 83.8,355.3 84.2,355.3 84.6,355.0 84.9,355.4 85.3,355.1 85.6,354.2 86.0,354.2 86.4,354.8 86.8,353.5 87.2,354.5 87.5,353.5 88.0,353.4 88.5,354.2 89.1,353.5 89.4,354.9 89.7,354.7 90.1,354.0 90.4,353.5 90.7,353.3 91.1,354.0 91.5,354.0 91.9,353.7 92.3,354.4 92.7,354.0 93.2,354.5 93.6,353.3 94.1,353.2 94.7,353.8 95.2,354.0 95.8,353.6 96.1,354.3 96.4,353.5 96.8,353.7 97.1,354.0 97.4,354.4 97.8,354.5 98.2,353.8 98.5,354.0 98.9,354.9 99.3,354.9 99.7,354.3 100.1,353.4 100.4,354.1 100.9,354.4 101.3,353.8 101.7,353.4 102.1,355.1 102.5,355.0 102.9,353.6 103.4,354.2 103.8,354.5 104.2,354.0 104.7,353.6 105.1,354.8 105.5,354.9 106.0,354.3 106.4,353.7 106.9,354.3 107.3,353.8 107.8,355.4 108.2,353.8 108.6,354.2 108.9,355.1 109.3,354.0 109.7,354.0 110.1,354.0 110.5,354.2 111.0,354.9 111.4,355.5 111.8,354.3 112.2,354.3 112.7,355.5 113.1,354.9 113.6,354.8 114.0,354.4 114.4,354.7 114.9,356.0 115.3,354.5 115.8,354.8 116.2,355.7 116.7,356.1 117.1,356.1 117.5,355.4 118.0,356.3 118.4,355.7 118.8,355.2 119.2,355.5 119.6,356.0 120.0,356.1 120.4,355.0 120.8,355.2 121.2,356.6 121.5,355.1 121.9,356.4 122.2,355.6 122.6,355.5 122.9,355.5 123.2,355.9 123.5,356.9 124.1,355.4 124.6,356.7 125.1,355.8 125.4,355.6 125.8,356.6 126.0,356.0 126.3,355.7 126.5,356.1 126.8,356.9 127.0,357.0 127.3,356.5 127.7,355.5 128.1,356.9 128.6,356.6 129.3,357.2 130.0,357.3 130.3,356.2 130.6,357.2 130.9,357.1 131.2,356.1 131.5,356.3 131.8,356.4 132.2,356.3 132.5,356.4 132.9,355.9 133.2,356.2 133.6,357.4 134.0,356.5 134.4,357.0 134.8,357.4 135.2,357.2 135.6,356.3 136.0,357.6 136.4,357.4 136.8,357.7 137.3,357.3 137.7,357.3 138.1,357.5 138.6,356.5 139.0,357.2 139.5,356.7 139.9,357.6 140.3,356.3 140.8,357.1 141.2,356.8 141.7,357.6 142.1,356.8 142.6,357.7 143.0,357.8 143.5,357.8 143.9,356.5 144.3,358.0 144.8,357.6 145.2,357.5 145.6,357.5 146.0,356.4 146.5,357.9 146.9,357.4 147.3,357.2 147.7,357.0 148.1,357.9 148.5,357.9 148.8,358.0 149.2,356.9 149.7,357.1 150.1,357.0 150.6,356.7 151.0,357.2 151.5,356.6 152.0,358.0 152.5,357.0 152.9,356.8 153.4,356.8 153.9,358.0 154.4,357.1 154.9,357.6 155.3,357.5 155.8,358.2 156.3,358.5 156.7,357.4 157.2,358.0 157.7,358.4 158.1,357.7 158.6,358.5 159.0,358.2 159.4,357.5 159.9,358.5 160.3,358.0 160.7,357.1 161.1,358.0 161.5,358.5 161.9,357.9 162.2,357.9 162.6,357.8 162.9,358.6 163.3,358.2 163.6,357.4 163.9,357.7 164.1,357.7 164.4,358.8 164.7,358.3 164.9,357.3 165.1,358.7" fill="none" stroke="#c040a0" stroke-width="1.15" stroke-linejoin="round" stroke-linecap="round" opacity="1.0" />
<polyline points="41.6,370.0 45.4,370.0 45.4,369.8 45.4,369.6 45.4,369.4 45.4,369.1 45.4,368.9 45.4,368.6 45.4,368.4 45.4,368.1 45.4,367.9 45.5,367.6 45.5,367.3 45.5,367.0 45.5,366.7 45.5,366.4 45.5,366.1 45.5,365.8 45.5,365.4 45.5,365.1 45.5,364.8 45.5,364.4 45.5,364.1 45.5,363.7 45.5,363.4 45.6,363.0 45.6,362.6 45.6,362.2 45.6,361.9 45.6,361.5 45.6,361.1 45.6,360.7 45.6,360.3 45.6,359.9 45.6,359.5 45.6,359.1 45.6,358.6 45.7,358.2 45.7,357.8 45.7,357.4 45.7,356.9 45.7,356.5 45.7,356.1 45.7,355.6 45.7,355.2 45.7,354.7 45.7,354.3 45.8,353.8 45.8,353.4 45.8,352.9 45.8,352.5 45.8,352.0 45.8,351.5 45.8,351.1 45.8,350.6 45.8,350.1 45.8,349.7 45.9,349.2 45.9,348.7 45.9,348.3 45.9,347.8 45.9,347.3 45.9,346.9 45.9,346.4 45.9,345.9 45.9,345.5 45.9,345.0 46.0,344.5 46.0,344.1 46.0,343.6 46.0,343.1 46.0,342.7 46.0,342.2 46.0,341.7 46.0,341.3 46.0,340.8 46.1,340.4 46.1,339.9 46.1,339.5 46.1,339.0 46.1,338.6 46.1,338.1 46.1,337.7 46.1,337.2 46.1,336.8 46.1,336.4 46.2,335.9 46.2,335.5 46.2,335.1 46.2,334.7 46.2,334.3 46.2,333.9 46.2,333.4 46.2,333.0 46.2,332.6 46.2,332.3 46.3,331.9 46.3,331.5 46.3,331.1 46.3,330.7 46.3,330.4 46.3,330.0 46.3,329.5 46.3,329.1 46.3,328.6 46.3,328.2 46.4,327.7 46.4,327.3 46.4,326.8 46.4,326.4 46.4,325.9 46.4,325.4 46.4,325.0 46.4,324.5 46.4,324.0 46.5,323.6 46.5,323.1 46.5,322.6 46.5,322.2 46.5,321.7 46.5,321.3 46.5,320.8 46.5,320.3 46.6,319.9 46.6,319.4 46.6,318.9 46.6,318.5 46.6,318.0 46.6,317.6 46.6,317.1 46.6,316.7 46.6,316.2 46.7,315.7 46.7,315.3 46.7,314.9 46.7,314.4 46.7,314.0 46.7,313.5 46.7,313.1 46.7,312.6 46.8,312.2 46.8,311.8 46.8,311.3 46.8,310.9 46.8,310.5 46.8,310.1 46.8,309.7 46.8,309.2 46.8,308.8 46.9,308.4 46.9,308.0 46.9,307.6 46.9,307.2 46.9,306.8 46.9,306.5 46.9,306.1 46.9,305.7 46.9,305.3 47.0,305.0 47.0,304.6 47.0,304.2 47.0,303.9 47.0,303.5 47.0,303.2 47.0,302.8 47.0,302.5 47.0,302.2 47.1,301.9 47.1,301.5 47.1,301.2 47.1,300.9 47.1,300.6 47.1,300.3 47.1,300.0 47.1,299.8 47.1,299.5 47.1,299.2 47.2,299.0 47.2,298.7 47.2,298.5 47.2,298.2 47.2,298.0 47.3,296.5 47.3,295.4 47.4,294.6 47.5,294.0 47.5,293.7 47.6,293.5 47.6,293.5 47.7,293.5 47.8,293.6 47.8,293.6 47.9,293.6 48.0,293.6 48.1,293.8 48.2,294.1 48.3,294.5 48.4,295.0 48.6,295.6 48.7,296.3 48.8,297.0 48.8,297.3 48.9,297.5 48.9,297.8 49.0,298.1 49.0,298.4 49.1,298.6 49.1,298.9 49.2,299.2 49.2,299.5 49.3,299.8 49.3,300.2 49.4,300.5 49.4,300.9 49.5,301.3 49.5,301.8 49.6,302.3 49.6,302.8 49.7,303.3 49.7,303.9 49.8,304.6 49.8,305.3 49.9,306.0 49.9,306.3 49.9,306.6 50.0,306.9 50.0,307.2 50.0,307.5 50.0,307.8 50.0,308.2 50.1,308.5 50.1,308.8 50.1,309.2 50.1,309.6 50.1,309.9 50.2,310.3 50.2,310.7 50.2,311.1 50.2,311.5 50.2,311.9 50.3,312.3 50.3,312.7 50.3,313.1 50.3,313.5 50.3,313.9 50.4,314.4 50.4,314.8 50.4,315.2 50.4,315.7 50.4,316.1 50.5,316.6 50.5,317.0 50.5,317.4 50.5,317.9 50.5,318.3 50.6,318.8 50.6,319.2 50.6,319.7 50.6,320.1 50.6,320.6 50.7,321.0 50.7,321.5 50.7,321.9 50.7,322.4 50.7,322.8 50.8,323.3 50.8,323.7 50.8,324.1 50.8,324.6 50.8,325.0 50.9,325.4 50.9,325.9 50.9,326.3 50.9,326.7 50.9,327.1 51.0,327.5 51.0,327.9 51.0,328.3 51.0,328.7 51.0,329.1 51.0,329.5 51.1,329.9 51.1,330.2 51.1,330.6 51.1,331.1 51.1,331.5 51.2,332.0 51.2,332.4 51.2,332.9 51.2,333.3 51.2,333.8 51.3,334.3 51.3,334.7 51.3,335.2 51.3,335.6 51.3,336.1 51.3,336.5 51.4,337.0 51.4,337.4 51.4,337.9 51.4,338.3 51.4,338.7 51.4,339.2 51.5,339.6 51.5,340.0 51.5,340.5 51.5,340.9 51.5,341.3 51.5,341.7 51.6,342.1 51.6,342.6 51.6,343.0 51.6,343.4 51.6,343.8 51.6,344.1 51.7,344.5 51.7,344.9 51.7,345.3 51.7,345.6 51.7,346.0 51.8,346.4 51.8,346.7 51.8,347.1 51.8,347.4 51.8,347.7 51.9,348.0 51.9,348.3 51.9,348.7 51.9,349.0 52.0,349.2 52.0,349.5 52.0,349.8 52.1,350.5 52.1,351.2 52.2,351.8 52.3,352.3 52.4,352.8 52.5,353.2 52.6,353.6 52.7,353.9 52.8,354.2 52.9,354.5 52.9,354.8 53.0,355.1 53.1,355.4 53.2,355.6 53.3,355.9 53.4,356.2 53.5,356.5 53.6,357.0 53.7,357.4 53.8,357.8 53.9,358.2 54.0,358.6 54.1,359.0 54.2,359.3 54.3,359.6 54.5,360.0 54.7,360.3 55.0,360.7 55.2,361.0 55.5,361.3 55.8,361.5 56.1,361.8 56.4,362.1 56.7,362.4 57.1,362.7 57.4,363.0 57.8,363.3 58.1,363.5 58.5,363.8 58.9,364.0 59.2,364.2 59.6,364.4 59.9,364.6 60.3,364.0" fill="none" stroke="#3a5cc8" stroke-width="0.95" stroke-linejoin="round" stroke-linecap="round" opacity="1.0" />
<polyline points="59.6,364.4 59.9,364.6 60.3,364.0 60.7,365.1 61.1,365.0 61.6,365.7 62.0,365.2 62.4,364.7 62.8,365.6 63.2,366.2 63.6,366.1 64.1,365.4 64.5,365.1 64.9,366.0 65.3,366.1 65.7,365.0 66.1,366.1 66.4,366.2 66.8,365.0 67.2,364.8 67.6,365.2 68.0,365.4 68.4,363.9 68.8,363.9 69.2,363.8 69.6,364.3 70.0,363.0 70.3,363.5 70.6,363.2 70.9,363.3 71.3,362.2 71.6,363.4 71.9,363.3 72.2,362.2 72.6,362.4 72.9,361.1 73.3,362.1 73.6,361.2 73.9,361.3 74.3,361.3 74.6,360.1 75.0,360.9 75.3,359.3 75.7,358.8 76.0,359.4 76.3,359.9 76.7,359.7 77.0,359.5 77.4,358.5 77.7,359.0 78.1,358.1 78.4,357.1 78.8,357.7 79.2,357.8 79.5,356.9 79.9,357.0 80.2,356.1 80.6,356.0 80.9,356.0 81.2,356.0 81.5,355.7 81.8,354.9 82.1,354.6 82.4,355.0 82.9,355.4 83.4,355.3 83.8,354.2 84.2,354.2 84.6,354.6 84.9,353.9 85.3,354.6 85.6,355.1 86.0,353.8 86.4,354.3 86.8,354.5 87.2,354.4 87.5,354.3 88.0,354.2 88.5,353.4 89.1,354.3 89.4,354.4 89.7,352.8 90.1,354.4 90.4,353.5 90.7,352.8 91.1,352.7 91.5,354.0 91.9,353.8 92.3,352.8 92.7,353.4 93.2,353.7 93.6,354.3 94.1,353.1 94.7,353.9 95.2,352.9 95.8,352.9 96.1,352.8 96.4,353.3 96.8,353.6 97.1,353.1 97.4,352.8 97.8,353.0 98.2,352.7 98.5,352.9 98.9,353.2 99.3,353.5 99.7,353.0 100.1,353.5 100.4,353.5 100.9,354.5 101.3,353.6 101.7,354.5 102.1,353.6 102.5,353.2 102.9,353.9 103.4,353.1 103.8,353.2 104.2,353.0 104.7,354.2 105.1,354.7 105.5,353.7 106.0,353.7 106.4,353.8 106.9,353.7 107.3,354.4 107.8,353.9 108.2,353.5 108.6,354.8 108.9,354.3 109.3,353.3 109.7,354.9 110.1,354.7 110.5,354.0 111.0,354.6 111.4,355.1 111.8,354.2 112.2,354.3 112.7,354.1 113.1,354.6 113.6,354.9 114.0,355.0 114.4,355.5 114.9,354.0 115.3,354.5 115.8,355.4 116.2,355.3 116.7,355.0 117.1,355.2 117.5,354.7 118.0,355.8 118.4,355.1 118.8,354.9 119.2,354.5 119.6,354.4 120.0,355.9 120.4,355.8 120.8,354.4 121.2,355.0 121.5,355.3 121.9,355.3 122.2,355.1 122.6,356.1 122.9,355.2 123.2,355.5 123.5,356.3 124.1,355.8 124.6,355.6 125.1,355.3 125.4,355.5 125.8,355.9 126.0,356.3 126.3,355.3 126.5,355.6 126.8,355.6 127.0,355.6 127.3,356.6 127.7,355.9 128.1,355.5 128.6,355.6 129.3,356.5 130.0,355.4 130.3,356.4 130.6,355.2 130.9,355.5 131.2,355.3 131.5,356.6 131.8,355.5 132.2,355.6 132.5,355.3 132.9,355.7 133.2,356.6 133.6,356.6 134.0,356.9 134.4,357.0 134.8,356.3 135.2,357.0 135.6,355.5 136.0,357.0 136.4,356.2 136.8,355.8 137.3,356.8 137.7,357.0 138.1,356.2 138.6,355.6 139.0,357.1 139.5,356.9 139.9,356.6 140.3,357.3 140.8,355.6 141.2,355.7 141.7,355.8 142.1,355.7 142.6,356.9 143.0,356.8 143.5,355.9 143.9,356.0 144.3,356.0 144.8,356.8 145.2,357.0 145.6,357.5 146.0,356.4 146.5,357.6 146.9,356.6 147.3,356.5 147.7,356.3 148.1,356.3 148.5,357.6 148.8,357.7 149.2,357.2 149.7,356.2 150.1,356.3 150.6,356.2 151.0,356.6 151.5,357.3 152.0,356.1 152.5,357.0 152.9,357.3 153.4,356.1 153.9,356.9 154.4,357.5 154.9,357.2 155.3,356.9 155.8,357.7 156.3,357.3 156.7,356.8 157.2,356.9 157.7,357.9 158.1,357.8 158.6,357.9 159.0,357.3 159.4,356.5 159.9,356.6 160.3,357.0 160.7,357.6 161.1,356.4 161.5,357.8 161.9,357.8 162.2,357.3 162.6,356.4 162.9,357.9 163.3,357.2 163.6,357.6 163.9,357.5 164.1,357.8 164.4,357.2 164.7,358.2 164.9,358.2 165.1,358.2" fill="none" stroke="#3a5cc8" stroke-width="1.15" stroke-linejoin="round" stroke-linecap="round" opacity="1.0" />
<polyline points="200.7,375.4 204.6,375.4 204.6,375.2 204.6,375.0 204.6,374.8 204.6,374.5 204.6,374.3 204.6,374.0 204.6,373.8 204.6,373.5 204.6,373.3 204.7,373.0 204.7,372.7 204.7,372.4 204.7,372.1 204.7,371.8 204.7,371.5 204.7,371.2 204.7,370.9 204.7,370.6 204.7,370.2 204.7,369.9 204.7,369.5 204.7,369.2 204.7,368.8 204.8,368.5 204.8,368.1 204.8,367.7 204.8,367.4 204.8,367.0 204.8,366.6 204.8,366.2 204.8,365.8 204.8,365.4 204.8,365.0 204.8,364.6 204.9,364.2 204.9,363.8 204.9,363.4 204.9,362.9 204.9,362.5 204.9,362.1 204.9,361.6 204.9,361.2 204.9,360.8 204.9,360.3 205.0,359.9 205.0,359.4 205.0,359.0 205.0,358.5 205.0,358.1 205.0,357.6 205.0,357.2 205.0,356.7 205.0,356.2 205.0,355.8 205.1,355.3 205.1,354.8 205.1,354.4 205.1,353.9 205.1,353.4 205.1,353.0 205.1,352.5 205.1,352.0 205.1,351.6 205.2,351.1 205.2,350.6 205.2,350.1 205.2,349.7 205.2,349.2 205.2,348.7 205.2,348.3 205.2,347.8 205.2,347.3 205.2,346.8 205.3,346.4 205.3,345.9 205.3,345.4 205.3,345.0 205.3,344.5 205.3,344.1 205.3,343.6 205.3,343.1 205.3,342.7 205.4,342.2 205.4,341.8 205.4,341.3 205.4,340.9 205.4,340.4 205.4,340.0 205.4,339.6 205.4,339.3 205.4,338.9 205.4,338.5 205.4,338.1 205.4,337.7 205.5,337.3 205.5,336.9 205.5,336.5 205.5,336.1 205.5,335.7 205.5,335.3 205.5,334.9 205.5,334.5 205.5,334.0 205.5,333.6 205.5,333.2 205.6,332.8 205.6,332.3 205.6,331.9 205.6,331.5 205.6,331.0 205.6,330.6 205.6,330.1 205.6,329.7 205.6,329.2 205.6,328.8 205.6,328.3 205.6,327.9 205.7,327.4 205.7,327.0 205.7,326.5 205.7,326.1 205.7,325.6 205.7,325.2 205.7,324.7 205.7,324.3 205.7,323.8 205.7,323.3 205.7,322.9 205.8,322.4 205.8,322.0 205.8,321.5 205.8,321.1 205.8,320.6 205.8,320.1 205.8,319.7 205.8,319.2 205.8,318.8 205.8,318.3 205.8,317.9 205.9,317.4 205.9,317.0 205.9,316.5 205.9,316.1 205.9,315.6 205.9,315.2 205.9,314.7 205.9,314.3 205.9,313.9 205.9,313.4 205.9,313.0 206.0,312.6 206.0,312.1 206.0,311.7 206.0,311.3 206.0,310.9 206.0,310.4 206.0,310.0 206.0,309.6 206.0,309.2 206.0,308.8 206.0,308.4 206.1,308.0 206.1,307.6 206.1,307.2 206.1,306.8 206.1,306.4 206.1,306.1 206.1,305.7 206.1,305.3 206.1,304.9 206.1,304.6 206.1,304.2 206.1,303.9 206.2,303.5 206.2,303.2 206.2,302.8 206.2,302.5 206.2,302.2 206.2,301.9 206.2,301.6 206.2,301.2 206.2,300.9 206.2,300.6 206.2,300.3 206.2,300.1 206.2,299.8 206.3,299.5 206.3,299.2 206.3,299.0 206.3,298.7 206.3,298.5 206.3,298.2 206.3,298.0 206.3,296.6 206.4,295.4 206.4,294.4 206.5,293.6 206.5,293.0 206.5,292.5 206.6,292.2 206.6,291.9 206.6,291.7 206.7,291.6 206.7,291.6 206.7,291.6 206.8,291.6 206.8,291.6 206.9,291.6 206.9,291.6 207.0,291.6 207.0,291.7 207.1,291.9 207.2,292.2 207.3,292.6 207.4,293.0 207.4,293.5 207.5,294.1 207.6,294.7 207.7,295.3 207.8,296.0 207.8,296.3 207.9,296.6 207.9,296.9 208.0,297.3 208.0,297.6 208.1,298.0 208.1,298.3 208.2,298.7 208.2,299.1 208.3,299.5 208.3,299.9 208.4,300.3 208.4,300.7 208.5,301.1 208.5,301.6 208.6,302.0 208.6,302.4 208.7,302.9 208.7,303.3 208.8,303.8 208.8,304.2 208.9,304.7 208.9,305.1 209.0,305.6 209.0,306.0 209.0,306.4 209.1,306.7 209.1,307.1 209.1,307.5 209.2,307.8 209.2,308.2 209.2,308.5 209.3,308.9 209.3,309.2 209.3,309.6 209.3,309.9 209.4,310.3 209.4,310.7 209.4,311.0 209.5,311.4 209.5,311.8 209.5,312.2 209.5,312.6 209.6,313.0 209.6,313.4 209.6,313.8 209.7,314.3 209.7,314.7 209.7,315.2 209.7,315.7 209.8,316.2 209.8,316.7 209.8,317.2 209.9,317.7 209.9,318.3 209.9,318.6 209.9,318.9 210.0,319.3 210.0,319.6 210.0,320.0 210.0,320.4 210.0,320.7 210.1,321.1 210.1,321.5 210.1,321.9 210.1,322.3 210.1,322.7 210.2,323.1 210.2,323.5 210.2,323.9 210.2,324.3 210.2,324.8 210.3,325.2 210.3,325.6 210.3,326.1 210.3,326.5 210.3,326.9 210.4,327.4 210.4,327.8 210.4,328.3 210.4,328.7 210.4,329.2 210.5,329.6 210.5,330.1 210.5,330.5 210.5,330.9 210.5,331.4 210.6,331.8 210.6,332.3 210.6,332.7 210.6,333.1 210.7,333.6 210.7,334.0 210.7,334.4 210.7,334.8 210.7,335.2 210.8,335.6 210.8,336.1 210.8,336.4 210.8,336.8 210.8,337.2 210.9,337.6 210.9,338.0 210.9,338.3 210.9,338.7 210.9,339.0 211.0,339.4 211.0,339.7 211.0,340.0 211.0,340.6 211.1,341.1 211.1,341.6 211.1,342.1 211.2,342.6 211.2,343.1 211.2,343.5 211.3,344.0 211.3,344.4 211.3,344.9 211.4,345.3 211.4,345.7 211.4,346.1 211.4,346.5 211.5,346.9 211.5,347.2 211.5,347.6 211.6,348.0 211.6,348.3 211.6,348.7 211.7,349.0 211.7,349.3 211.7,349.7 211.8,350.0 211.8,350.3 211.8,350.7 211.9,351.0 211.9,351.3 212.0,351.7 212.0,352.0 212.1,352.5 212.1,353.0 212.2,353.5 212.3,353.9 212.3,354.4 212.4,354.8 212.5,355.3 212.6,355.7 212.6,356.1 212.7,356.5 212.8,356.9 212.9,357.3 213.0,357.7 213.0,358.0 213.1,358.4 213.2,358.7 213.3,359.1 213.3,359.4 213.4,359.7 213.5,360.0 213.7,360.6 213.8,361.1 213.9,361.6 214.1,362.0 214.2,362.4 214.4,362.8 214.6,363.1 214.8,363.4 215.0,363.7 215.3,364.0 215.6,364.3 215.9,364.6 216.3,364.9 216.7,365.1 217.1,365.3 217.5,365.4 217.9,365.5 218.2,365.6 218.6,365.6 219.0,365.6 219.3,365.6 219.7,365.5 220.1,365.5 220.5,365.4 221.0,365.3 221.4,365.1 221.9,364.9 222.2,364.8 222.5,364.6 222.8,364.5 223.1,364.3 223.4,364.1 223.7,363.9 224.0,363.7 224.3,363.5 224.6,363.3 225.0,363.1 225.3,362.8 225.7,362.6 226.1,362.3 226.5,362.1 226.9,361.8 227.3,361.5 227.8,361.2 228.1,361.0 228.4,360.8 228.7,360.6 229.0,360.4 229.3,360.2 229.6,360.0 229.9,359.8 230.3,359.8" fill="none" stroke="#e0287c" stroke-width="0.95" stroke-linejoin="round" stroke-linecap="round" opacity="1.0" />
<polyline points="229.6,360.0 229.9,359.8 230.3,359.8 230.6,358.9 230.9,358.8 231.3,358.3 231.7,359.6 232.0,359.1 232.4,358.8 232.7,358.7 233.1,358.8 233.5,357.9 233.8,356.7 234.2,357.6 234.6,356.1 234.9,356.7 235.3,355.4 235.7,356.9 236.0,355.8 236.4,355.0 236.8,356.4 237.1,354.2 237.5,356.0 237.8,355.4 238.2,353.8 238.6,355.0 238.9,354.4 239.3,355.0 239.7,354.1 240.1,353.5 240.5,354.5 240.9,352.3 241.2,353.8 241.6,352.0 242.0,352.3 242.4,351.8 242.8,353.4 243.1,352.2 243.5,352.8 243.9,351.5 244.3,352.5 244.7,352.2 245.0,350.7 245.4,351.5 245.8,351.9 246.2,350.6 246.6,351.5 246.9,350.5 247.3,350.6 247.7,351.8 248.1,351.7 248.5,351.8 248.9,350.3 249.3,350.5 249.7,351.0 250.1,350.8 250.5,350.0 250.9,350.8 251.3,349.7 251.7,350.9 252.1,349.7 252.5,348.7 252.8,350.2 253.2,348.7 253.6,349.9 254.0,348.3 254.4,350.5 254.8,349.3 255.2,349.7 255.6,348.2 256.0,349.4 256.4,348.7 256.8,348.3 257.2,349.6 257.6,347.7 258.0,348.7 258.4,347.7 258.8,349.5 259.1,349.5 259.5,347.4 259.8,348.4 260.2,348.4 260.5,348.9 260.9,348.9 261.2,347.9 261.6,349.3 261.9,347.5 262.3,347.3 262.7,348.9 263.1,347.2 263.5,347.3 263.9,348.1 264.3,347.6 264.8,347.2 265.3,349.0 265.8,347.9 266.3,348.6 266.9,347.2 267.5,348.8 267.8,347.1 268.1,348.7 268.4,348.0 268.8,348.8 269.1,348.3 269.5,348.0 269.8,347.7 270.2,348.5 270.5,347.5 270.9,346.6 271.3,348.5 271.7,348.3 272.1,347.9 272.5,348.1 272.9,346.8 273.3,347.3 273.7,348.2 274.1,348.5 274.5,348.4 274.9,346.5 275.3,347.7 275.8,347.4 276.2,347.0 276.6,346.4 277.0,346.3 277.5,347.1 277.9,347.1 278.4,346.6 278.8,346.8 279.2,347.2 279.7,347.7 280.1,347.2 280.6,346.2 281.0,347.9 281.4,346.6 281.9,348.0 282.3,348.1 282.7,346.0 283.2,347.1 283.6,348.0 284.0,346.6 284.5,346.9 284.9,346.4 285.3,345.7 285.7,346.1 286.2,345.8 286.6,346.2 287.0,347.0 287.4,346.9 287.8,347.8 288.2,347.1 288.6,346.3 289.0,347.7 289.4,347.0 289.9,346.7 290.3,347.5 290.7,347.0 291.1,346.2 291.5,346.8 291.9,346.1 292.3,347.7 292.8,345.9 293.2,347.7 293.6,345.5 294.0,345.3 294.4,346.6 294.8,345.8 295.3,346.5 295.7,345.6 296.1,347.3 296.5,346.9 296.9,346.9 297.3,347.5 297.8,347.6 298.2,346.8 298.6,346.9 299.0,345.2 299.4,345.3 299.8,346.2 300.2,347.5 300.6,345.9 301.0,346.5 301.4,345.2 301.8,346.2 302.2,347.3 302.6,346.6 303.0,347.1 303.4,345.2 303.8,345.6 304.2,345.6 304.6,347.1 305.0,345.4 305.3,347.4 305.7,345.8 306.1,347.2 306.5,346.3 306.8,345.9 307.2,347.4 307.7,346.1 308.1,346.8 308.6,345.2 309.1,347.1 309.5,347.4 310.0,345.3 310.5,346.9 311.0,345.7 311.5,345.4 311.9,345.9 312.4,346.7 312.9,347.4 313.4,347.5 313.9,347.5 314.3,346.6 314.8,346.6 315.3,345.5 315.7,346.8 316.2,346.4 316.6,345.9 317.0,347.2 317.5,345.7 317.9,345.4 318.3,345.5 318.7,345.4 319.1,346.5 319.5,347.0 319.9,345.5 320.2,346.3 320.6,346.5 320.9,346.4 321.3,346.1 321.6,346.4 321.9,345.1 322.1,345.2 322.4,346.1 322.7,345.7 322.9,346.9 323.1,345.7" fill="none" stroke="#e0287c" stroke-width="1.2" stroke-linejoin="round" stroke-linecap="round" opacity="1.0" />
<polyline points="200.7,375.4 204.6,375.4 204.6,375.2 204.6,375.0 204.6,374.8 204.6,374.5 204.6,374.3 204.6,374.0 204.6,373.8 204.6,373.5 204.6,373.3 204.7,373.0 204.7,372.7 204.7,372.4 204.7,372.1 204.7,371.8 204.7,371.5 204.7,371.2 204.7,370.9 204.7,370.6 204.7,370.2 204.7,369.9 204.7,369.5 204.7,369.2 204.7,368.8 204.8,368.5 204.8,368.1 204.8,367.7 204.8,367.4 204.8,367.0 204.8,366.6 204.8,366.2 204.8,365.8 204.8,365.4 204.8,365.0 204.8,364.6 204.9,364.2 204.9,363.8 204.9,363.4 204.9,362.9 204.9,362.5 204.9,362.1 204.9,361.6 204.9,361.2 204.9,360.8 204.9,360.3 205.0,359.9 205.0,359.4 205.0,359.0 205.0,358.5 205.0,358.1 205.0,357.6 205.0,357.2 205.0,356.7 205.0,356.2 205.0,355.8 205.1,355.3 205.1,354.8 205.1,354.4 205.1,353.9 205.1,353.4 205.1,353.0 205.1,352.5 205.1,352.0 205.1,351.6 205.2,351.1 205.2,350.6 205.2,350.1 205.2,349.7 205.2,349.2 205.2,348.7 205.2,348.3 205.2,347.8 205.2,347.3 205.2,346.8 205.3,346.4 205.3,345.9 205.3,345.4 205.3,345.0 205.3,344.5 205.3,344.1 205.3,343.6 205.3,343.1 205.3,342.7 205.4,342.2 205.4,341.8 205.4,341.3 205.4,340.9 205.4,340.4 205.4,340.0 205.4,339.6 205.4,339.3 205.4,338.9 205.4,338.5 205.4,338.1 205.4,337.7 205.5,337.3 205.5,336.9 205.5,336.5 205.5,336.1 205.5,335.7 205.5,335.3 205.5,334.9 205.5,334.5 205.5,334.0 205.5,333.6 205.5,333.2 205.6,332.8 205.6,332.3 205.6,331.9 205.6,331.5 205.6,331.0 205.6,330.6 205.6,330.1 205.6,329.7 205.6,329.2 205.6,328.8 205.6,328.3 205.6,327.9 205.7,327.4 205.7,327.0 205.7,326.5 205.7,326.1 205.7,325.6 205.7,325.2 205.7,324.7 205.7,324.3 205.7,323.8 205.7,323.3 205.7,322.9 205.8,322.4 205.8,322.0 205.8,321.5 205.8,321.1 205.8,320.6 205.8,320.1 205.8,319.7 205.8,319.2 205.8,318.8 205.8,318.3 205.8,317.9 205.9,317.4 205.9,317.0 205.9,316.5 205.9,316.1 205.9,315.6 205.9,315.2 205.9,314.7 205.9,314.3 205.9,313.9 205.9,313.4 205.9,313.0 206.0,312.6 206.0,312.1 206.0,311.7 206.0,311.3 206.0,310.9 206.0,310.4 206.0,310.0 206.0,309.6 206.0,309.2 206.0,308.8 206.0,308.4 206.1,308.0 206.1,307.6 206.1,307.2 206.1,306.8 206.1,306.4 206.1,306.1 206.1,305.7 206.1,305.3 206.1,304.9 206.1,304.6 206.1,304.2 206.1,303.9 206.2,303.5 206.2,303.2 206.2,302.8 206.2,302.5 206.2,302.2 206.2,301.9 206.2,301.6 206.2,301.2 206.2,300.9 206.2,300.6 206.2,300.3 206.2,300.1 206.2,299.8 206.3,299.5 206.3,299.2 206.3,299.0 206.3,298.7 206.3,298.5 206.3,298.2 206.3,298.0 206.3,296.6 206.4,295.4 206.4,294.4 206.5,293.6 206.5,293.0 206.5,292.5 206.6,292.2 206.6,291.9 206.6,291.7 206.7,291.6 206.7,291.6 206.7,291.6 206.8,291.6 206.8,291.6 206.9,291.6 206.9,291.6 207.0,291.6 207.0,291.7 207.1,291.9 207.2,292.2 207.3,292.6 207.4,293.0 207.4,293.5 207.5,294.1 207.6,294.7 207.7,295.3 207.8,296.0 207.8,296.3 207.9,296.6 207.9,296.9 208.0,297.3 208.0,297.6 208.1,298.0 208.1,298.3 208.2,298.7 208.2,299.1 208.3,299.5 208.3,299.9 208.4,300.3 208.4,300.7 208.5,301.1 208.5,301.6 208.6,302.0 208.6,302.4 208.7,302.9 208.7,303.3 208.8,303.8 208.8,304.2 208.9,304.7 208.9,305.1 209.0,305.6 209.0,306.0 209.0,306.4 209.1,306.7 209.1,307.1 209.1,307.5 209.2,307.8 209.2,308.2 209.2,308.5 209.3,308.9 209.3,309.2 209.3,309.6 209.3,309.9 209.4,310.3 209.4,310.7 209.4,311.0 209.5,311.4 209.5,311.8 209.5,312.2 209.5,312.6 209.6,313.0 209.6,313.4 209.6,313.8 209.7,314.3 209.7,314.7 209.7,315.2 209.7,315.7 209.8,316.2 209.8,316.7 209.8,317.2 209.9,317.7 209.9,318.3 209.9,318.6 209.9,318.9 210.0,319.3 210.0,319.6 210.0,320.0 210.0,320.4 210.0,320.7 210.1,321.1 210.1,321.5 210.1,321.9 210.1,322.3 210.1,322.7 210.2,323.1 210.2,323.5 210.2,323.9 210.2,324.3 210.2,324.8 210.3,325.2 210.3,325.6 210.3,326.1 210.3,326.5 210.3,326.9 210.4,327.4 210.4,327.8 210.4,328.3 210.4,328.7 210.4,329.2 210.5,329.6 210.5,330.1 210.5,330.5 210.5,330.9 210.5,331.4 210.6,331.8 210.6,332.3 210.6,332.7 210.6,333.1 210.7,333.6 210.7,334.0 210.7,334.4 210.7,334.8 210.7,335.2 210.8,335.6 210.8,336.1 210.8,336.4 210.8,336.8 210.8,337.2 210.9,337.6 210.9,338.0 210.9,338.3 210.9,338.7 210.9,339.0 211.0,339.4 211.0,339.7 211.0,340.0 211.0,340.6 211.1,341.1 211.1,341.6 211.1,342.1 211.2,342.6 211.2,343.1 211.2,343.5 211.3,344.0 211.3,344.4 211.3,344.9 211.4,345.3 211.4,345.7 211.4,346.1 211.4,346.5 211.5,346.9 211.5,347.2 211.5,347.6 211.6,348.0 211.6,348.3 211.6,348.7 211.7,349.0 211.7,349.3 211.7,349.7 211.8,350.0 211.8,350.3 211.8,350.7 211.9,351.0 211.9,351.3 212.0,351.7 212.0,352.0 212.1,352.5 212.1,353.0 212.2,353.5 212.3,353.9 212.3,354.4 212.4,354.8 212.5,355.3 212.6,355.7 212.6,356.1 212.7,356.5 212.8,356.9 212.9,357.3 213.0,357.7 213.0,358.0 213.1,358.4 213.2,358.7 213.3,359.1 213.3,359.4 213.4,359.7 213.5,360.0 213.7,360.6 213.8,361.1 213.9,361.6 214.1,362.0 214.2,362.4 214.4,362.8 214.6,363.1 214.8,363.4 215.0,363.7 215.3,364.0 215.6,364.3 215.9,364.6 216.3,364.9 216.7,365.1 217.1,365.3 217.5,365.4 217.9,365.5 218.2,365.6 218.6,365.6 219.0,365.6 219.3,365.6 219.7,365.5 220.1,365.5 220.5,365.4 221.0,365.3 221.4,365.1 221.9,364.9 222.2,364.8 222.5,364.6 222.8,364.5 223.1,364.3 223.4,364.1 223.7,363.9 224.0,363.7 224.3,363.5 224.6,363.3 225.0,363.1 225.3,362.8 225.7,362.6 226.1,362.3 226.5,362.1 226.9,361.8 227.3,361.5 227.8,361.2 228.1,361.0 228.4,360.8 228.7,360.6 229.0,360.4 229.3,360.2 229.6,360.0 229.9,359.8 230.3,360.3" fill="none" stroke="#4478aa" stroke-width="0.95" stroke-linejoin="round" stroke-linecap="round" opacity="1.0" />
<polyline points="229.6,360.0 229.9,359.8 230.3,360.3 230.6,358.7 230.9,358.1 231.3,358.8 231.7,358.4 232.0,358.0 232.4,358.8 232.7,357.2 233.1,358.1 233.5,358.2 233.8,357.1 234.2,356.9 234.6,357.7 234.9,356.7 235.3,355.5 235.7,355.0 236.0,354.8 236.4,355.2 236.8,354.4 237.1,355.5 237.5,354.8 237.8,354.3 238.2,354.6 238.6,355.5 238.9,353.6 239.3,353.2 239.7,353.4 240.1,353.3 240.5,354.5 240.9,353.8 241.2,353.0 241.6,352.2 242.0,351.7 242.4,351.8 242.8,353.4 243.1,352.7 243.5,351.4 243.9,352.4 244.3,350.9 244.7,351.8 245.0,351.3 245.4,350.6 245.8,352.0 246.2,351.8 246.6,351.2 246.9,350.2 247.3,351.3 247.7,350.6 248.1,351.1 248.5,349.6 248.9,351.4 249.3,349.2 249.7,349.6 250.1,349.9 250.5,349.3 250.9,348.9 251.3,350.3 251.7,350.9 252.1,349.3 252.5,349.0 252.8,349.9 253.2,348.8 253.6,349.1 254.0,349.7 254.4,349.0 254.8,348.3 255.2,348.1 255.6,349.1 256.0,350.2 256.4,349.9 256.8,347.9 257.2,348.8 257.6,348.8 258.0,348.0 258.4,349.1 258.8,348.7 259.1,349.4 259.5,348.2 259.8,349.7 260.2,349.5 260.5,348.6 260.9,347.9 261.2,348.7 261.6,347.8 261.9,349.2 262.3,349.3 262.7,349.0 263.1,350.0 263.5,347.8 263.9,349.4 264.3,349.6 264.8,348.0 265.3,348.5 265.8,347.9 266.3,349.2 266.9,349.5 267.5,348.6 267.8,349.5 268.1,348.7 268.4,349.5 268.8,348.5 269.1,350.2 269.5,348.9 269.8,347.8 270.2,348.0 270.5,349.6 270.9,349.9 271.3,349.4 271.7,348.2 272.1,349.9 272.5,349.6 272.9,348.1 273.3,348.8 273.7,349.5 274.1,347.9 274.5,348.0 274.9,348.7 275.3,350.0 275.8,350.3 276.2,348.6 276.6,350.0 277.0,349.8 277.5,349.9 277.9,349.3 278.4,350.2 278.8,349.4 279.2,350.2 279.7,349.2 280.1,348.4 280.6,349.1 281.0,349.1 281.4,348.7 281.9,348.8 282.3,349.1 282.7,349.3 283.2,348.5 283.6,348.6 284.0,349.1 284.5,349.2 284.9,349.0 285.3,349.6 285.7,348.4 286.2,349.3 286.6,348.6 287.0,349.8 287.4,349.7 287.8,349.9 288.2,349.3 288.6,348.6 289.0,350.3 289.4,349.3 289.9,349.0 290.3,348.8 290.7,349.1 291.1,349.8 291.5,350.1 291.9,349.3 292.3,349.9 292.8,348.7 293.2,349.3 293.6,349.0 294.0,348.9 294.4,349.1 294.8,350.0 295.3,350.0 295.7,348.8 296.1,348.8 296.5,350.2 296.9,349.9 297.3,349.9 297.8,349.9 298.2,350.0 298.6,349.0 299.0,348.5 299.4,349.3 299.8,348.5 300.2,350.7 300.6,349.7 301.0,350.1 301.4,350.8 301.8,350.4 302.2,349.1 302.6,349.3 303.0,348.8 303.4,350.5 303.8,350.3 304.2,349.8 304.6,349.5 305.0,349.3 305.3,349.8 305.7,350.4 306.1,350.8 306.5,350.7 306.8,350.8 307.2,349.8 307.7,349.7 308.1,349.5 308.6,351.1 309.1,349.2 309.5,349.2 310.0,349.5 310.5,351.0 311.0,350.9 311.5,349.6 311.9,350.9 312.4,351.0 312.9,349.9 313.4,349.4 313.9,350.8 314.3,349.8 314.8,349.2 315.3,351.1 315.7,350.0 316.2,349.9 316.6,350.4 317.0,349.6 317.5,349.1 317.9,350.0 318.3,350.0 318.7,349.1 319.1,350.0 319.5,350.9 319.9,349.9 320.2,350.7 320.6,350.6 320.9,349.6 321.3,349.2 321.6,350.8 321.9,350.6 322.1,349.9 322.4,349.7 322.7,351.2 322.9,351.4 323.1,349.8" fill="none" stroke="#4478aa" stroke-width="1.15" stroke-linejoin="round" stroke-linecap="round" opacity="1.0" />
<polyline points="359.7,375.9 363.3,375.9 363.3,375.7 363.3,375.5 363.3,375.3 363.3,375.0 363.3,374.8 363.3,374.6 363.3,374.3 363.3,374.0 363.3,373.8 363.3,373.5 363.3,373.2 363.4,372.9 363.4,372.6 363.4,372.3 363.4,372.0 363.4,371.7 363.4,371.4 363.4,371.1 363.4,370.7 363.4,370.4 363.4,370.1 363.4,369.7 363.4,369.4 363.4,369.0 363.4,368.6 363.4,368.3 363.4,367.9 363.4,367.5 363.5,367.1 363.5,366.7 363.5,366.4 363.5,366.0 363.5,365.6 363.5,365.1 363.5,364.7 363.5,364.3 363.5,363.9 363.5,363.5 363.5,363.1 363.5,362.6 363.5,362.2 363.5,361.8 363.6,361.3 363.6,360.9 363.6,360.4 363.6,360.0 363.6,359.6 363.6,359.1 363.6,358.6 363.6,358.2 363.6,357.7 363.6,357.3 363.6,356.8 363.6,356.3 363.6,355.9 363.7,355.4 363.7,354.9 363.7,354.5 363.7,354.0 363.7,353.5 363.7,353.1 363.7,352.6 363.7,352.1 363.7,351.6 363.7,351.2 363.7,350.7 363.7,350.2 363.8,349.8 363.8,349.3 363.8,348.8 363.8,348.3 363.8,347.9 363.8,347.4 363.8,346.9 363.8,346.4 363.8,346.0 363.8,345.5 363.8,345.0 363.8,344.6 363.9,344.1 363.9,343.6 363.9,343.2 363.9,342.7 363.9,342.3 363.9,341.8 363.9,341.3 363.9,340.9 363.9,340.4 363.9,340.0 363.9,339.6 363.9,339.1 363.9,338.7 364.0,338.2 364.0,337.8 364.0,337.4 364.0,337.0 364.0,336.5 364.0,336.1 364.0,335.7 364.0,335.3 364.0,334.9 364.0,334.5 364.0,334.1 364.0,333.7 364.0,333.3 364.0,332.9 364.1,332.5 364.1,332.1 364.1,331.8 364.1,331.4 364.1,331.0 364.1,330.7 364.1,330.3 364.1,330.0 364.1,329.5 364.1,329.0 364.1,328.5 364.1,328.1 364.1,327.6 364.2,327.1 364.2,326.6 364.2,326.1 364.2,325.6 364.2,325.2 364.2,324.7 364.2,324.2 364.2,323.7 364.2,323.2 364.2,322.8 364.2,322.3 364.2,321.8 364.3,321.3 364.3,320.9 364.3,320.4 364.3,319.9 364.3,319.5 364.3,319.0 364.3,318.5 364.3,318.1 364.3,317.6 364.3,317.2 364.3,316.7 364.3,316.2 364.3,315.8 364.4,315.3 364.4,314.9 364.4,314.5 364.4,314.0 364.4,313.6 364.4,313.2 364.4,312.7 364.4,312.3 364.4,311.9 364.4,311.4 364.4,311.0 364.4,310.6 364.4,310.2 364.5,309.8 364.5,309.4 364.5,309.0 364.5,308.6 364.5,308.2 364.5,307.8 364.5,307.4 364.5,307.0 364.5,306.7 364.5,306.3 364.5,305.9 364.5,305.5 364.5,305.2 364.5,304.8 364.6,304.5 364.6,304.1 364.6,303.8 364.6,303.4 364.6,303.1 364.6,302.8 364.6,302.4 364.6,302.1 364.6,301.8 364.6,301.5 364.6,301.2 364.6,300.9 364.6,300.6 364.6,300.3 364.6,300.0 364.7,299.8 364.7,299.5 364.7,299.2 364.7,299.0 364.7,298.7 364.7,298.5 364.7,298.2 364.7,298.0 364.7,296.6 364.8,295.5 364.8,294.6 364.8,293.9 364.9,293.4 364.9,293.1 364.9,292.9 365.0,292.8 365.0,292.8 365.0,292.8 365.1,292.9 365.1,293.0 365.1,293.1 365.2,293.3 365.2,293.5 365.2,293.8 365.3,294.1 365.3,294.5 365.3,294.9 365.4,295.3 365.4,295.8 365.4,296.3 365.5,296.8 365.5,297.4 365.5,297.9 365.6,298.4 365.6,299.0 365.7,299.5 365.7,300.0 365.7,300.3 365.8,300.7 365.8,301.0 365.8,301.4 365.8,301.7 365.9,302.1 365.9,302.4 365.9,302.8 365.9,303.2 366.0,303.5 366.0,303.9 366.0,304.3 366.1,304.7 366.1,305.1 366.1,305.5 366.1,305.9 366.2,306.3 366.2,306.8 366.2,307.2 366.3,307.6 366.3,308.1 366.3,308.5 366.3,309.0 366.4,309.5 366.4,310.0 366.4,310.3 366.4,310.7 366.5,311.0 366.5,311.4 366.5,311.7 366.5,312.1 366.5,312.5 366.5,312.8 366.6,313.2 366.6,313.6 366.6,313.9 366.6,314.3 366.6,314.7 366.7,315.1 366.7,315.5 366.7,315.9 366.7,316.3 366.7,316.7 366.7,317.1 366.8,317.5 366.8,317.9 366.8,318.3 366.8,318.7 366.8,319.2 366.9,319.6 366.9,320.0 366.9,320.5 366.9,320.9 366.9,321.3 367.0,321.8 367.0,322.2 367.0,322.7 367.0,323.1 367.0,323.6 367.1,324.1 367.1,324.5 367.1,325.0 367.1,325.4 367.1,325.7 367.1,326.1 367.2,326.5 367.2,326.8 367.2,327.2 367.2,327.6 367.2,328.0 367.2,328.4 367.3,328.8 367.3,329.2 367.3,329.6 367.3,330.0 367.3,330.4 367.4,330.9 367.4,331.3 367.4,331.7 367.4,332.1 367.4,332.5 367.4,333.0 367.5,333.4 367.5,333.8 367.5,334.3 367.5,334.7 367.5,335.1 367.5,335.6 367.6,336.0 367.6,336.4 367.6,336.8 367.6,337.3 367.6,337.7 367.7,338.1 367.7,338.5 367.7,338.9 367.7,339.4 367.7,339.8 367.8,340.2 367.8,340.6 367.8,341.0 367.8,341.4 367.8,341.8 367.8,342.1 367.9,342.5 367.9,342.9 367.9,343.3 367.9,343.6 367.9,344.0 368.0,344.3 368.0,344.7 368.0,345.0 368.0,345.5 368.1,346.0 368.1,346.5 368.1,347.0 368.1,347.5 368.2,347.9 368.2,348.4 368.2,348.9 368.3,349.3 368.3,349.7 368.3,350.2 368.3,350.6 368.4,351.0 368.4,351.4 368.4,351.8 368.4,352.2 368.5,352.6 368.5,353.0 368.5,353.4 368.6,353.8 368.6,354.2 368.6,354.5 368.7,354.9 368.7,355.3 368.7,355.6 368.8,356.0 368.8,356.3 368.8,356.7 368.9,357.0 368.9,357.3 369.0,357.7 369.0,358.0 369.1,358.5 369.2,359.0 369.2,359.5 369.3,360.0 369.4,360.5 369.5,360.9 369.6,361.3 369.7,361.8 369.8,362.2 369.9,362.6 370.0,363.0 370.1,363.4 370.2,363.7 370.3,364.1 370.4,364.4 370.5,364.8 370.6,365.1 370.6,365.4 370.7,365.7 370.8,366.0 371.0,366.6 371.1,367.1 371.2,367.5 371.3,367.9 371.4,368.2 371.5,368.5 371.7,368.8 371.8,369.2 372.0,369.5 372.2,369.9 372.5,370.2 372.8,370.6 373.1,370.9 373.4,371.3 373.8,371.6 374.1,371.9 374.4,372.2 374.6,372.4 374.9,372.8 375.1,373.1 375.4,373.4 376.1,373.6 376.4,373.7 376.7,373.7 377.0,373.8 377.4,373.8 377.8,373.9 378.3,373.9 378.7,374.0 379.2,374.0 379.6,374.1 380.1,374.3" fill="none" stroke="#333" stroke-width="0.95" stroke-linejoin="round" stroke-linecap="round" opacity="1.0" />
<polyline points="379.6,374.1 380.1,374.3 380.5,374.3 381.0,374.0 381.4,373.6 381.7,374.0 382.1,374.5 382.5,374.5 382.8,374.4 382.9,373.9 383.1,374.1 383.2,374.2 383.4,374.4 383.8,374.3 384.3,375.0 385.1,373.9 386.1,375.0 386.3,373.9 386.6,374.7 386.9,373.9 387.2,374.3 387.5,374.0 387.8,373.4 388.1,374.5 388.4,374.4 388.8,373.6 389.1,374.3 389.5,373.8 389.8,374.5 390.2,373.1 390.6,373.5 391.0,373.2 391.4,373.7 391.8,373.9 392.2,373.9 392.6,373.4 393.0,373.1 393.4,373.6 393.9,372.6 394.3,372.8 394.8,373.4 395.2,372.9 395.6,373.6 396.1,372.3 396.5,372.7 397.0,372.3 397.4,371.9 397.9,372.0 398.4,371.9 398.8,372.3 399.3,372.3 399.7,372.4 400.2,372.0 400.6,372.5 401.1,372.2 401.6,372.8 402.0,371.6 402.5,372.1 402.9,372.0 403.3,371.8 403.8,372.4 404.2,371.5 404.6,372.4 405.1,371.7 405.5,371.6 405.9,372.0 406.3,371.9 406.7,371.5 407.1,371.2 407.5,372.4 407.9,371.6 408.3,371.2 408.7,372.0 409.1,371.8 409.5,371.6 409.9,371.6 410.3,372.3 410.7,371.6 411.1,371.8 411.5,372.5 411.9,371.7 412.3,371.8 412.7,371.5 413.1,372.2 413.5,372.3 413.9,372.0 414.3,372.0 414.7,371.8 415.1,372.6 415.5,372.2 415.9,372.7 416.4,372.1 416.8,372.7 417.2,371.7 417.6,372.0 418.0,373.1 418.4,372.8 418.8,372.8 419.2,372.6 419.6,372.6 420.0,372.2 420.4,372.2 420.8,372.9 421.2,373.1 421.6,372.5 422.0,373.1 422.4,372.4 422.8,373.1 423.2,372.5 423.6,373.0 424.0,372.8 424.4,373.1 424.8,372.6 425.2,373.1 425.6,373.3 426.0,372.7 426.4,372.9 426.8,373.5 427.2,373.3 427.6,373.4 428.0,373.7 428.4,373.4 428.8,372.9 429.2,373.3 429.6,373.8 430.0,373.5 430.4,373.8 430.8,373.2 431.2,373.4 431.6,374.1 432.1,373.9 432.5,373.7 432.9,373.0 433.3,373.7 433.7,372.9 434.1,374.2 434.5,374.2 434.9,373.9 435.3,373.3 435.7,374.1 436.1,373.2 436.5,374.1 436.9,373.7 437.3,373.0 437.7,374.2 438.1,373.6 438.5,374.2 438.9,374.0 439.3,373.8 439.7,374.3 440.1,373.4 440.5,374.4 440.9,373.6 441.4,373.2 441.8,373.6 442.2,373.2 442.6,373.3 443.0,374.0 443.4,373.4 443.8,373.4 444.2,373.6 444.6,373.6 445.0,374.5 445.4,374.5 445.8,374.5 446.2,374.7 446.6,373.9 447.0,374.4 447.4,373.7 447.8,374.6 448.2,374.5 448.6,374.4 449.0,373.7 449.5,373.5 449.9,374.7 450.3,374.2 450.7,374.3 451.1,374.7 451.5,373.7 451.9,374.4 452.3,374.1 452.8,374.6 453.2,374.1 453.6,373.8 454.0,374.9 454.4,373.9 454.8,374.6 455.2,374.7 455.7,373.9 456.1,374.6 456.5,374.1 456.9,373.9 457.3,373.9 457.7,375.0 458.1,374.2 458.5,374.4 458.9,374.4 459.4,373.7 459.8,374.7 460.2,374.7 460.6,374.9 461.0,374.2 461.4,374.0 461.8,374.2 462.1,374.8 462.5,374.7 462.9,374.3 463.3,374.5 463.7,374.0 464.1,375.1 464.5,374.5 464.8,374.5 465.2,375.0 465.6,374.1 466.0,374.9 466.3,374.4 466.7,375.0 467.2,374.0 467.6,374.3 468.1,374.8 468.6,374.6 469.0,374.5 469.5,374.8 470.0,374.3 470.4,374.7 470.9,374.1 471.4,375.2 471.9,374.5 472.4,375.3 472.8,374.9 473.3,375.0 473.8,375.1 474.2,374.4 474.7,375.3 475.2,374.7 475.6,375.5 476.1,375.4 476.5,375.3 476.9,375.5 477.4,375.0 477.8,375.3 478.2,375.7 478.6,374.7 479.0,374.6 479.4,375.0 479.7,375.2 480.1,374.7 480.4,374.8 480.8,375.7 481.1,375.1 481.4,374.7 481.7,374.8 482.0,375.4 482.2,374.8 482.5,375.2 482.7,375.3 482.9,375.2" fill="none" stroke="#333" stroke-width="1.0" stroke-linejoin="round" stroke-linecap="round" opacity="1.0" />
<polyline points="359.7,375.9 363.3,375.9 363.3,375.7 363.3,375.5 363.3,375.3 363.3,375.0 363.3,374.8 363.3,374.6 363.3,374.3 363.3,374.0 363.3,373.8 363.3,373.5 363.3,373.2 363.4,372.9 363.4,372.6 363.4,372.3 363.4,372.0 363.4,371.7 363.4,371.4 363.4,371.1 363.4,370.7 363.4,370.4 363.4,370.1 363.4,369.7 363.4,369.4 363.4,369.0 363.4,368.6 363.4,368.3 363.4,367.9 363.4,367.5 363.5,367.1 363.5,366.7 363.5,366.4 363.5,366.0 363.5,365.6 363.5,365.1 363.5,364.7 363.5,364.3 363.5,363.9 363.5,363.5 363.5,363.1 363.5,362.6 363.5,362.2 363.5,361.8 363.6,361.3 363.6,360.9 363.6,360.4 363.6,360.0 363.6,359.6 363.6,359.1 363.6,358.6 363.6,358.2 363.6,357.7 363.6,357.3 363.6,356.8 363.6,356.3 363.6,355.9 363.7,355.4 363.7,354.9 363.7,354.5 363.7,354.0 363.7,353.5 363.7,353.1 363.7,352.6 363.7,352.1 363.7,351.6 363.7,351.2 363.7,350.7 363.7,350.2 363.8,349.8 363.8,349.3 363.8,348.8 363.8,348.3 363.8,347.9 363.8,347.4 363.8,346.9 363.8,346.4 363.8,346.0 363.8,345.5 363.8,345.0 363.8,344.6 363.9,344.1 363.9,343.6 363.9,343.2 363.9,342.7 363.9,342.3 363.9,341.8 363.9,341.3 363.9,340.9 363.9,340.4 363.9,340.0 363.9,339.6 363.9,339.1 363.9,338.7 364.0,338.2 364.0,337.8 364.0,337.4 364.0,337.0 364.0,336.5 364.0,336.1 364.0,335.7 364.0,335.3 364.0,334.9 364.0,334.5 364.0,334.1 364.0,333.7 364.0,333.3 364.0,332.9 364.1,332.5 364.1,332.1 364.1,331.8 364.1,331.4 364.1,331.0 364.1,330.7 364.1,330.3 364.1,330.0 364.1,329.5 364.1,329.0 364.1,328.5 364.1,328.1 364.1,327.6 364.2,327.1 364.2,326.6 364.2,326.1 364.2,325.6 364.2,325.2 364.2,324.7 364.2,324.2 364.2,323.7 364.2,323.2 364.2,322.8 364.2,322.3 364.2,321.8 364.3,321.3 364.3,320.9 364.3,320.4 364.3,319.9 364.3,319.5 364.3,319.0 364.3,318.5 364.3,318.1 364.3,317.6 364.3,317.2 364.3,316.7 364.3,316.2 364.3,315.8 364.4,315.3 364.4,314.9 364.4,314.5 364.4,314.0 364.4,313.6 364.4,313.2 364.4,312.7 364.4,312.3 364.4,311.9 364.4,311.4 364.4,311.0 364.4,310.6 364.4,310.2 364.5,309.8 364.5,309.4 364.5,309.0 364.5,308.6 364.5,308.2 364.5,307.8 364.5,307.4 364.5,307.0 364.5,306.7 364.5,306.3 364.5,305.9 364.5,305.5 364.5,305.2 364.5,304.8 364.6,304.5 364.6,304.1 364.6,303.8 364.6,303.4 364.6,303.1 364.6,302.8 364.6,302.4 364.6,302.1 364.6,301.8 364.6,301.5 364.6,301.2 364.6,300.9 364.6,300.6 364.6,300.3 364.6,300.0 364.7,299.8 364.7,299.5 364.7,299.2 364.7,299.0 364.7,298.7 364.7,298.5 364.7,298.2 364.7,298.0 364.7,296.6 364.8,295.5 364.8,294.6 364.8,293.9 364.9,293.4 364.9,293.1 364.9,292.9 365.0,292.8 365.0,292.8 365.0,292.8 365.1,292.9 365.1,293.0 365.1,293.1 365.2,293.3 365.2,293.5 365.2,293.8 365.3,294.1 365.3,294.5 365.3,294.9 365.4,295.3 365.4,295.8 365.4,296.3 365.5,296.8 365.5,297.4 365.5,297.9 365.6,298.4 365.6,299.0 365.7,299.5 365.7,300.0 365.7,300.3 365.8,300.7 365.8,301.0 365.8,301.4 365.8,301.7 365.9,302.1 365.9,302.4 365.9,302.8 365.9,303.2 366.0,303.5 366.0,303.9 366.0,304.3 366.1,304.7 366.1,305.1 366.1,305.5 366.1,305.9 366.2,306.3 366.2,306.8 366.2,307.2 366.3,307.6 366.3,308.1 366.3,308.5 366.3,309.0 366.4,309.5 366.4,310.0 366.4,310.3 366.4,310.7 366.5,311.0 366.5,311.4 366.5,311.7 366.5,312.1 366.5,312.5 366.5,312.8 366.6,313.2 366.6,313.6 366.6,313.9 366.6,314.3 366.6,314.7 366.7,315.1 366.7,315.5 366.7,315.9 366.7,316.3 366.7,316.7 366.7,317.1 366.8,317.5 366.8,317.9 366.8,318.3 366.8,318.7 366.8,319.2 366.9,319.6 366.9,320.0 366.9,320.5 366.9,320.9 366.9,321.3 367.0,321.8 367.0,322.2 367.0,322.7 367.0,323.1 367.0,323.6 367.1,324.1 367.1,324.5 367.1,325.0 367.1,325.4 367.1,325.7 367.1,326.1 367.2,326.5 367.2,326.8 367.2,327.2 367.2,327.6 367.2,328.0 367.2,328.4 367.3,328.8 367.3,329.2 367.3,329.6 367.3,330.0 367.3,330.4 367.4,330.9 367.4,331.3 367.4,331.7 367.4,332.1 367.4,332.5 367.4,333.0 367.5,333.4 367.5,333.8 367.5,334.3 367.5,334.7 367.5,335.1 367.5,335.6 367.6,336.0 367.6,336.4 367.6,336.8 367.6,337.3 367.6,337.7 367.7,338.1 367.7,338.5 367.7,338.9 367.7,339.4 367.7,339.8 367.8,340.2 367.8,340.6 367.8,341.0 367.8,341.4 367.8,341.8 367.8,342.1 367.9,342.5 367.9,342.9 367.9,343.3 367.9,343.6 367.9,344.0 368.0,344.3 368.0,344.7 368.0,345.0 368.0,345.5 368.1,346.0 368.1,346.5 368.1,347.0 368.1,347.5 368.2,347.9 368.2,348.4 368.2,348.9 368.3,349.3 368.3,349.7 368.3,350.2 368.3,350.6 368.4,351.0 368.4,351.4 368.4,351.8 368.4,352.2 368.5,352.6 368.5,353.0 368.5,353.4 368.6,353.8 368.6,354.2 368.6,354.5 368.7,354.9 368.7,355.3 368.7,355.6 368.8,356.0 368.8,356.3 368.8,356.7 368.9,357.0 368.9,357.3 369.0,357.7 369.0,358.0 369.1,358.5 369.2,359.0 369.2,359.5 369.3,360.0 369.4,360.5 369.5,360.9 369.6,361.3 369.7,361.8 369.8,362.2 369.9,362.6 370.0,363.0 370.1,363.4 370.2,363.7 370.3,364.1 370.4,364.4 370.5,364.8 370.6,365.1 370.6,365.4 370.7,365.7 370.8,366.0 371.0,366.6 371.1,367.1 371.2,367.5 371.3,367.9 371.4,368.2 371.5,368.5 371.7,368.8 371.8,369.2 372.0,369.5 372.2,369.9 372.5,370.2 372.8,370.6 373.1,370.9 373.4,371.3 373.8,371.6 374.1,371.9 374.4,372.2 374.6,372.4 374.9,372.9 374.9,373.2 375.2,373.5 376.1,373.6 376.3,373.6 376.6,373.6 376.9,373.6 377.2,373.6 377.6,373.6 377.9,373.6 378.3,373.6 378.7,373.6 379.1,373.6 379.5,373.6 379.9,373.6 380.3,373.6" fill="none" stroke="#3a5cc8" stroke-width="0.95" stroke-linejoin="round" stroke-linecap="round" opacity="1.0" />
<polyline points="379.9,373.6 380.3,373.6 380.8,374.3 381.2,372.6 381.7,374.4 382.1,372.9 382.6,372.6 383.1,374.0 383.5,373.6 384.0,373.5 384.4,372.8 384.8,373.9 385.3,372.9 385.7,373.7 386.1,372.7 386.5,373.3 386.9,373.4 387.3,372.8 387.7,372.9 388.1,372.0 388.5,373.1 388.9,373.1 389.3,372.0 389.7,372.7 390.1,372.9 390.5,371.6 390.9,373.0 391.3,372.9 391.8,371.2 392.2,371.5 392.6,371.1 393.0,371.3 393.4,370.9 393.8,371.6 394.2,371.1 394.6,371.1 395.0,371.3 395.4,371.1 395.8,371.8 396.2,371.6 396.6,370.4 397.0,370.5 397.3,370.0 397.7,370.6 398.1,370.1 398.4,371.2 398.7,371.4 399.1,371.7 399.4,370.1 399.8,369.7 400.1,371.1 400.4,370.4 400.8,371.4 401.2,370.2 401.5,370.0 401.9,369.5 402.3,371.2 402.7,370.3 403.2,370.2 403.6,370.1 404.1,370.8 404.6,370.9 405.2,370.2 405.7,369.6 406.3,370.0 406.6,371.0 406.9,370.0 407.2,370.5 407.6,370.3 407.9,370.1 408.2,370.4 408.6,369.7 409.0,370.3 409.3,371.0 409.7,369.4 410.1,370.0 410.4,371.0 410.8,371.2 411.2,369.3 411.6,370.6 412.0,370.6 412.4,371.0 412.8,370.3 413.2,369.6 413.6,370.0 414.0,370.8 414.4,370.9 414.9,369.9 415.3,370.8 415.7,370.8 416.1,370.8 416.6,369.6 417.0,370.4 417.4,370.2 417.9,370.8 418.3,370.3 418.7,369.9 419.2,371.0 419.6,370.3 420.0,371.3 420.5,370.3 420.9,370.8 421.4,371.4 421.8,370.0 422.2,371.3 422.6,370.0 423.1,371.7 423.5,369.9 423.9,371.3 424.3,370.6 424.8,370.3 425.2,370.7 425.6,371.0 426.0,370.8 426.4,370.2 426.8,371.1 427.2,370.6 427.6,372.0 428.0,370.8 428.4,371.0 428.8,370.6 429.2,372.1 429.6,370.8 430.0,371.4 430.4,371.8 430.8,371.0 431.2,371.7 431.6,370.8 432.1,370.5 432.5,370.3 432.9,371.2 433.3,372.0 433.7,370.7 434.1,371.2 434.5,371.9 434.9,370.9 435.3,370.7 435.7,371.4 436.1,371.3 436.5,372.3 436.9,372.2 437.3,370.9 437.7,371.6 438.1,371.3 438.5,370.6 438.9,371.4 439.3,372.4 439.7,371.2 440.1,371.7 440.5,372.0 440.9,370.7 441.4,372.5 441.8,370.9 442.2,371.3 442.6,372.1 443.0,370.7 443.4,371.4 443.8,371.0 444.2,371.7 444.6,370.8 445.0,371.1 445.4,371.2 445.8,370.9 446.2,371.0 446.6,371.2 447.0,371.8 447.4,371.1 447.8,372.5 448.2,371.7 448.6,371.4 449.0,371.3 449.5,372.6 449.9,371.0 450.3,372.4 450.7,371.1 451.1,372.8 451.5,371.7 451.9,372.1 452.3,372.7 452.8,371.1 453.2,371.1 453.6,372.3 454.0,372.1 454.4,372.4 454.8,371.5 455.2,372.0 455.7,371.3 456.1,371.9 456.5,371.5 456.9,372.2 457.3,371.6 457.7,371.5 458.1,372.3 458.5,371.2 458.9,372.6 459.4,372.0 459.8,371.5 460.2,371.3 460.6,372.1 461.0,372.1 461.4,372.5 461.8,371.8 462.1,371.9 462.5,372.9 462.9,371.6 463.3,373.1 463.7,372.9 464.1,373.1 464.5,373.0 464.8,371.7 465.2,372.8 465.6,372.4 466.0,371.6 466.3,373.2 466.7,372.5 467.2,372.8 467.6,372.4 468.1,371.4 468.6,373.0 469.0,371.7 469.5,371.8 470.0,372.6 470.4,371.8 470.9,372.3 471.4,372.9 471.9,371.7 472.4,372.8 472.8,371.7 473.3,372.5 473.8,372.9 474.2,373.0 474.7,371.7 475.2,372.0 475.6,373.6 476.1,372.5 476.5,372.6 476.9,372.5 477.4,373.2 477.8,373.3 478.2,373.2 478.6,372.7 479.0,373.1 479.4,373.0 479.7,372.4 480.1,373.9 480.4,374.0 480.8,373.6 481.1,374.1 481.4,373.0 481.7,373.8 482.0,372.6 482.2,373.6 482.5,373.6 482.7,374.1 482.9,373.9" fill="none" stroke="#3a5cc8" stroke-width="1.3" stroke-linejoin="round" stroke-linecap="round" opacity="1.0" />
<polyline points="359.7,375.9 363.3,375.9 363.3,375.7 363.3,375.5 363.3,375.3 363.3,375.0 363.3,374.8 363.3,374.6 363.3,374.3 363.3,374.0 363.3,373.8 363.3,373.5 363.3,373.2 363.4,372.9 363.4,372.6 363.4,372.3 363.4,372.0 363.4,371.7 363.4,371.4 363.4,371.1 363.4,370.7 363.4,370.4 363.4,370.1 363.4,369.7 363.4,369.4 363.4,369.0 363.4,368.6 363.4,368.3 363.4,367.9 363.4,367.5 363.5,367.1 363.5,366.7 363.5,366.4 363.5,366.0 363.5,365.6 363.5,365.1 363.5,364.7 363.5,364.3 363.5,363.9 363.5,363.5 363.5,363.1 363.5,362.6 363.5,362.2 363.5,361.8 363.6,361.3 363.6,360.9 363.6,360.4 363.6,360.0 363.6,359.6 363.6,359.1 363.6,358.6 363.6,358.2 363.6,357.7 363.6,357.3 363.6,356.8 363.6,356.3 363.6,355.9 363.7,355.4 363.7,354.9 363.7,354.5 363.7,354.0 363.7,353.5 363.7,353.1 363.7,352.6 363.7,352.1 363.7,351.6 363.7,351.2 363.7,350.7 363.7,350.2 363.8,349.8 363.8,349.3 363.8,348.8 363.8,348.3 363.8,347.9 363.8,347.4 363.8,346.9 363.8,346.4 363.8,346.0 363.8,345.5 363.8,345.0 363.8,344.6 363.9,344.1 363.9,343.6 363.9,343.2 363.9,342.7 363.9,342.3 363.9,341.8 363.9,341.3 363.9,340.9 363.9,340.4 363.9,340.0 363.9,339.6 363.9,339.1 363.9,338.7 364.0,338.2 364.0,337.8 364.0,337.4 364.0,337.0 364.0,336.5 364.0,336.1 364.0,335.7 364.0,335.3 364.0,334.9 364.0,334.5 364.0,334.1 364.0,333.7 364.0,333.3 364.0,332.9 364.1,332.5 364.1,332.1 364.1,331.8 364.1,331.4 364.1,331.0 364.1,330.7 364.1,330.3 364.1,330.0 364.1,329.5 364.1,329.0 364.1,328.5 364.1,328.1 364.1,327.6 364.2,327.1 364.2,326.6 364.2,326.1 364.2,325.6 364.2,325.2 364.2,324.7 364.2,324.2 364.2,323.7 364.2,323.2 364.2,322.8 364.2,322.3 364.2,321.8 364.3,321.3 364.3,320.9 364.3,320.4 364.3,319.9 364.3,319.5 364.3,319.0 364.3,318.5 364.3,318.1 364.3,317.6 364.3,317.2 364.3,316.7 364.3,316.2 364.3,315.8 364.4,315.3 364.4,314.9 364.4,314.5 364.4,314.0 364.4,313.6 364.4,313.2 364.4,312.7 364.4,312.3 364.4,311.9 364.4,311.4 364.4,311.0 364.4,310.6 364.4,310.2 364.5,309.8 364.5,309.4 364.5,309.0 364.5,308.6 364.5,308.2 364.5,307.8 364.5,307.4 364.5,307.0 364.5,306.7 364.5,306.3 364.5,305.9 364.5,305.5 364.5,305.2 364.5,304.8 364.6,304.5 364.6,304.1 364.6,303.8 364.6,303.4 364.6,303.1 364.6,302.8 364.6,302.4 364.6,302.1 364.6,301.8 364.6,301.5 364.6,301.2 364.6,300.9 364.6,300.6 364.6,300.3 364.6,300.0 364.7,299.8 364.7,299.5 364.7,299.2 364.7,299.0 364.7,298.7 364.7,298.5 364.7,298.2 364.7,298.0 364.7,296.6 364.8,295.5 364.8,294.6 364.8,293.9 364.9,293.4 364.9,293.1 364.9,292.9 365.0,292.8 365.0,292.8 365.0,292.8 365.1,292.9 365.1,293.0 365.1,293.1 365.2,293.3 365.2,293.5 365.2,293.8 365.3,294.1 365.3,294.5 365.3,294.9 365.4,295.3 365.4,295.8 365.4,296.3 365.5,296.8 365.5,297.4 365.5,297.9 365.6,298.4 365.6,299.0 365.7,299.5 365.7,300.0 365.7,300.3 365.8,300.7 365.8,301.0 365.8,301.4 365.8,301.7 365.9,302.1 365.9,302.4 365.9,302.8 365.9,303.2 366.0,303.5 366.0,303.9 366.0,304.3 366.1,304.7 366.1,305.1 366.1,305.5 366.1,305.9 366.2,306.3 366.2,306.8 366.2,307.2 366.3,307.6 366.3,308.1 366.3,308.5 366.3,309.0 366.4,309.5 366.4,310.0 366.4,310.3 366.4,310.7 366.5,311.0 366.5,311.4 366.5,311.7 366.5,312.1 366.5,312.5 366.5,312.8 366.6,313.2 366.6,313.6 366.6,313.9 366.6,314.3 366.6,314.7 366.7,315.1 366.7,315.5 366.7,315.9 366.7,316.3 366.7,316.7 366.7,317.1 366.8,317.5 366.8,317.9 366.8,318.3 366.8,318.7 366.8,319.2 366.9,319.6 366.9,320.0 366.9,320.5 366.9,320.9 366.9,321.3 367.0,321.8 367.0,322.2 367.0,322.7 367.0,323.1 367.0,323.6 367.1,324.1 367.1,324.5 367.1,325.0 367.1,325.4 367.1,325.7 367.1,326.1 367.2,326.5 367.2,326.8 367.2,327.2 367.2,327.6 367.2,328.0 367.2,328.4 367.3,328.8 367.3,329.2 367.3,329.6 367.3,330.0 367.3,330.4 367.4,330.9 367.4,331.3 367.4,331.7 367.4,332.1 367.4,332.5 367.4,333.0 367.5,333.4 367.5,333.8 367.5,334.3 367.5,334.7 367.5,335.1 367.5,335.6 367.6,336.0 367.6,336.4 367.6,336.8 367.6,337.3 367.6,337.7 367.7,338.1 367.7,338.5 367.7,338.9 367.7,339.4 367.7,339.8 367.8,340.2 367.8,340.6 367.8,341.0 367.8,341.4 367.8,341.8 367.8,342.1 367.9,342.5 367.9,342.9 367.9,343.3 367.9,343.6 367.9,344.0 368.0,344.3 368.0,344.7 368.0,345.0 368.0,345.5 368.1,346.0 368.1,346.5 368.1,347.0 368.1,347.5 368.2,347.9 368.2,348.4 368.2,348.9 368.3,349.3 368.3,349.7 368.3,350.2 368.3,350.6 368.4,351.0 368.4,351.4 368.4,351.8 368.4,352.2 368.5,352.6 368.5,353.0 368.5,353.4 368.6,353.8 368.6,354.2 368.6,354.5 368.7,354.9 368.7,355.3 368.7,355.6 368.8,356.0 368.8,356.3 368.8,356.7 368.9,357.0 368.9,357.3 369.0,357.7 369.0,358.0 369.1,358.5 369.2,359.0 369.2,359.5 369.3,360.0 369.4,360.5 369.5,360.9 369.6,361.3 369.7,361.8 369.8,362.2 369.9,362.6 370.0,363.0 370.1,363.4 370.2,363.7 370.3,364.1 370.4,364.4 370.5,364.8 370.6,365.1 370.6,365.4 370.7,365.7 370.8,366.0 371.0,366.6 371.1,367.1 371.2,367.5 371.3,367.9 371.4,368.2 371.5,368.5 371.7,368.8 371.8,369.2 372.0,369.5 372.2,369.9 372.5,370.2 372.8,370.6 373.1,370.9 373.4,371.3 373.8,371.6 374.1,371.9 374.4,372.2 374.6,372.4 374.9,372.8 375.1,373.1 375.4,373.4 376.1,373.6 376.4,373.7 376.7,373.8 377.0,373.8 377.3,373.9 377.7,374.0 378.1,374.1 378.5,374.2 378.9,374.3 379.3,374.4 379.8,374.4 380.2,375.4" fill="none" stroke="#e0287c" stroke-width="0.95" stroke-linejoin="round" stroke-linecap="round" opacity="1.0" />
<polyline points="379.8,374.4 380.2,375.4 380.7,373.9 381.2,375.1 381.6,374.3 382.1,373.8 382.4,373.9 382.8,374.8 383.1,374.8 383.4,374.7 383.8,374.1 384.2,372.8 384.5,372.6 384.9,373.4 385.3,372.3 385.6,372.4 386.0,371.7 386.4,371.6 386.8,372.7 387.2,371.3 387.6,372.6 387.9,371.1 388.3,372.1 388.7,370.6 389.1,370.3 389.5,370.4 389.8,369.2 390.2,370.0 390.5,369.7 390.9,368.6 391.2,370.5 391.6,369.1 391.9,368.0 392.3,370.0 392.6,368.1 393.0,367.9 393.3,367.1 393.7,367.1 394.0,368.3 394.4,367.8 394.7,367.4 395.1,366.5 395.4,366.4 395.8,367.8 396.1,366.1 396.5,367.4 396.8,366.9 397.2,364.9 397.5,366.4 397.9,364.2 398.2,365.7 398.6,365.7 398.9,365.3 399.3,364.7 399.7,365.1 400.1,363.4 400.5,364.1 400.9,363.2 401.3,363.3 401.7,362.6 402.1,363.7 402.5,363.2 402.9,363.5 403.3,362.9 403.7,362.7 404.0,363.3 404.4,362.9 404.7,362.1 405.1,361.4 405.4,362.7 405.7,361.2 406.0,360.4 406.3,360.8 406.8,361.4 407.1,361.8 407.4,360.9 407.5,360.7 407.7,361.2 407.9,360.7 408.1,359.7 408.4,359.6 408.9,360.2 409.5,359.0 410.3,358.4 410.6,359.5 410.8,360.0 411.1,358.6 411.4,359.6 411.7,360.1 412.0,358.2 412.3,358.2 412.7,359.0 413.0,358.6 413.4,360.0 413.7,360.1 414.1,358.7 414.5,359.5 414.9,359.1 415.3,358.0 415.7,359.9 416.1,357.9 416.5,357.7 416.9,358.5 417.3,357.4 417.8,358.5 418.2,358.3 418.6,359.6 419.1,358.3 419.5,359.3 420.0,359.1 420.4,358.6 420.9,357.7 421.3,357.9 421.8,358.3 422.3,358.1 422.7,358.6 423.2,358.3 423.6,357.8 424.1,358.5 424.6,359.4 425.0,357.4 425.5,357.7 425.9,356.9 426.4,357.1 426.8,357.0 427.1,357.9 427.5,358.9 427.9,358.5 428.3,359.1 428.6,358.8 429.0,358.2 429.4,358.2 429.8,356.8 430.2,357.7 430.6,357.4 431.0,358.2 431.4,356.9 431.8,358.0 432.2,357.6 432.6,357.9 433.0,357.6 433.4,356.9 433.8,358.4 434.2,358.6 434.6,358.1 435.0,356.9 435.4,358.0 435.8,358.7 436.2,359.0 436.7,358.4 437.1,356.7 437.5,358.7 437.9,358.2 438.3,357.2 438.7,358.8 439.2,358.5 439.6,358.7 440.0,357.1 440.4,357.9 440.8,357.4 441.3,357.2 441.7,358.3 442.1,358.0 442.5,357.3 442.9,357.8 443.3,358.7 443.7,357.9 444.2,358.7 444.6,357.9 445.0,358.9 445.4,356.6 445.8,357.6 446.2,357.8 446.6,358.2 447.0,358.8 447.4,358.0 447.8,357.7 448.2,358.0 448.6,357.8 449.0,358.2 449.5,358.8 449.9,356.6 450.3,357.3 450.7,358.7 451.1,356.7 451.5,358.5 451.9,356.7 452.3,358.2 452.8,358.6 453.2,357.2 453.6,357.6 454.0,357.2 454.4,358.4 454.8,358.0 455.2,358.2 455.7,357.5 456.1,358.2 456.5,359.1 456.9,358.7 457.3,359.1 457.7,357.4 458.1,358.1 458.5,357.8 458.9,357.7 459.4,358.8 459.8,357.3 460.2,358.3 460.6,358.8 461.0,359.2 461.4,357.0 461.8,357.6 462.1,358.2 462.5,359.2 462.9,357.4 463.3,359.0 463.7,358.0 464.1,358.4 464.5,359.3 464.8,357.2 465.2,357.9 465.6,357.5 466.0,357.4 466.3,357.8 466.7,358.8 467.2,358.5 467.6,357.4 468.1,359.0 468.6,358.3 469.0,357.5 469.5,359.1 470.0,359.1 470.4,357.6 470.9,359.4 471.4,359.0 471.9,357.6 472.4,357.1 472.8,359.2 473.3,359.1 473.8,357.3 474.2,358.9 474.7,358.9 475.2,358.6 475.6,359.0 476.1,359.4 476.5,357.8 476.9,359.0 477.4,359.2 477.8,357.8 478.2,358.6 478.6,358.6 479.0,359.0 479.4,358.3 479.7,357.6 480.1,357.6 480.4,358.2 480.8,357.3 481.1,359.0 481.4,359.1 481.7,357.5 482.0,358.6 482.2,358.5 482.5,357.2 482.7,358.8 482.9,358.7" fill="none" stroke="#e0287c" stroke-width="1.2" stroke-linejoin="round" stroke-linecap="round" opacity="1.0" />
<polyline points="359.7,375.9 363.3,375.9 363.3,375.7 363.3,375.5 363.3,375.3 363.3,375.0 363.3,374.8 363.3,374.6 363.3,374.3 363.3,374.0 363.3,373.8 363.3,373.5 363.3,373.2 363.4,372.9 363.4,372.6 363.4,372.3 363.4,372.0 363.4,371.7 363.4,371.4 363.4,371.1 363.4,370.7 363.4,370.4 363.4,370.1 363.4,369.7 363.4,369.4 363.4,369.0 363.4,368.6 363.4,368.3 363.4,367.9 363.4,367.5 363.5,367.1 363.5,366.7 363.5,366.4 363.5,366.0 363.5,365.6 363.5,365.1 363.5,364.7 363.5,364.3 363.5,363.9 363.5,363.5 363.5,363.1 363.5,362.6 363.5,362.2 363.5,361.8 363.6,361.3 363.6,360.9 363.6,360.4 363.6,360.0 363.6,359.6 363.6,359.1 363.6,358.6 363.6,358.2 363.6,357.7 363.6,357.3 363.6,356.8 363.6,356.3 363.6,355.9 363.7,355.4 363.7,354.9 363.7,354.5 363.7,354.0 363.7,353.5 363.7,353.1 363.7,352.6 363.7,352.1 363.7,351.6 363.7,351.2 363.7,350.7 363.7,350.2 363.8,349.8 363.8,349.3 363.8,348.8 363.8,348.3 363.8,347.9 363.8,347.4 363.8,346.9 363.8,346.4 363.8,346.0 363.8,345.5 363.8,345.0 363.8,344.6 363.9,344.1 363.9,343.6 363.9,343.2 363.9,342.7 363.9,342.3 363.9,341.8 363.9,341.3 363.9,340.9 363.9,340.4 363.9,340.0 363.9,339.6 363.9,339.1 363.9,338.7 364.0,338.2 364.0,337.8 364.0,337.4 364.0,337.0 364.0,336.5 364.0,336.1 364.0,335.7 364.0,335.3 364.0,334.9 364.0,334.5 364.0,334.1 364.0,333.7 364.0,333.3 364.0,332.9 364.1,332.5 364.1,332.1 364.1,331.8 364.1,331.4 364.1,331.0 364.1,330.7 364.1,330.3 364.1,330.0 364.1,329.5 364.1,329.0 364.1,328.5 364.1,328.1 364.1,327.6 364.2,327.1 364.2,326.6 364.2,326.1 364.2,325.6 364.2,325.2 364.2,324.7 364.2,324.2 364.2,323.7 364.2,323.2 364.2,322.8 364.2,322.3 364.2,321.8 364.3,321.3 364.3,320.9 364.3,320.4 364.3,319.9 364.3,319.5 364.3,319.0 364.3,318.5 364.3,318.1 364.3,317.6 364.3,317.2 364.3,316.7 364.3,316.2 364.3,315.8 364.4,315.3 364.4,314.9 364.4,314.5 364.4,314.0 364.4,313.6 364.4,313.2 364.4,312.7 364.4,312.3 364.4,311.9 364.4,311.4 364.4,311.0 364.4,310.6 364.4,310.2 364.5,309.8 364.5,309.4 364.5,309.0 364.5,308.6 364.5,308.2 364.5,307.8 364.5,307.4 364.5,307.0 364.5,306.7 364.5,306.3 364.5,305.9 364.5,305.5 364.5,305.2 364.5,304.8 364.6,304.5 364.6,304.1 364.6,303.8 364.6,303.4 364.6,303.1 364.6,302.8 364.6,302.4 364.6,302.1 364.6,301.8 364.6,301.5 364.6,301.2 364.6,300.9 364.6,300.6 364.6,300.3 364.6,300.0 364.7,299.8 364.7,299.5 364.7,299.2 364.7,299.0 364.7,298.7 364.7,298.5 364.7,298.2 364.7,298.0 364.7,296.6 364.8,295.5 364.8,294.6 364.8,293.9 364.9,293.4 364.9,293.1 364.9,292.9 365.0,292.8 365.0,292.8 365.0,292.8 365.1,292.9 365.1,293.0 365.1,293.1 365.2,293.3 365.2,293.5 365.2,293.8 365.3,294.1 365.3,294.5 365.3,294.9 365.4,295.3 365.4,295.8 365.4,296.3 365.5,296.8 365.5,297.4 365.5,297.9 365.6,298.4 365.6,299.0 365.7,299.5 365.7,300.0 365.7,300.3 365.8,300.7 365.8,301.0 365.8,301.4 365.8,301.7 365.9,302.1 365.9,302.4 365.9,302.8 365.9,303.2 366.0,303.5 366.0,303.9 366.0,304.3 366.1,304.7 366.1,305.1 366.1,305.5 366.1,305.9 366.2,306.3 366.2,306.8 366.2,307.2 366.3,307.6 366.3,308.1 366.3,308.5 366.3,309.0 366.4,309.5 366.4,310.0 366.4,310.3 366.4,310.7 366.5,311.0 366.5,311.4 366.5,311.7 366.5,312.1 366.5,312.5 366.5,312.8 366.6,313.2 366.6,313.6 366.6,313.9 366.6,314.3 366.6,314.7 366.7,315.1 366.7,315.5 366.7,315.9 366.7,316.3 366.7,316.7 366.7,317.1 366.8,317.5 366.8,317.9 366.8,318.3 366.8,318.7 366.8,319.2 366.9,319.6 366.9,320.0 366.9,320.5 366.9,320.9 366.9,321.3 367.0,321.8 367.0,322.2 367.0,322.7 367.0,323.1 367.0,323.6 367.1,324.1 367.1,324.5 367.1,325.0 367.1,325.4 367.1,325.7 367.1,326.1 367.2,326.5 367.2,326.8 367.2,327.2 367.2,327.6 367.2,328.0 367.2,328.4 367.3,328.8 367.3,329.2 367.3,329.6 367.3,330.0 367.3,330.4 367.4,330.9 367.4,331.3 367.4,331.7 367.4,332.1 367.4,332.5 367.4,333.0 367.5,333.4 367.5,333.8 367.5,334.3 367.5,334.7 367.5,335.1 367.5,335.6 367.6,336.0 367.6,336.4 367.6,336.8 367.6,337.3 367.6,337.7 367.7,338.1 367.7,338.5 367.7,338.9 367.7,339.4 367.7,339.8 367.8,340.2 367.8,340.6 367.8,341.0 367.8,341.4 367.8,341.8 367.8,342.1 367.9,342.5 367.9,342.9 367.9,343.3 367.9,343.6 367.9,344.0 368.0,344.3 368.0,344.7 368.0,345.0 368.0,345.5 368.1,346.0 368.1,346.5 368.1,347.0 368.1,347.5 368.2,347.9 368.2,348.4 368.2,348.9 368.3,349.3 368.3,349.7 368.3,350.2 368.3,350.6 368.4,351.0 368.4,351.4 368.4,351.8 368.4,352.2 368.5,352.6 368.5,353.0 368.5,353.4 368.6,353.8 368.6,354.2 368.6,354.5 368.7,354.9 368.7,355.3 368.7,355.6 368.8,356.0 368.8,356.3 368.8,356.7 368.9,357.0 368.9,357.3 369.0,357.7 369.0,358.0 369.1,358.5 369.2,359.0 369.2,359.5 369.3,360.0 369.4,360.5 369.5,360.9 369.6,361.3 369.7,361.8 369.8,362.2 369.9,362.6 370.0,363.0 370.1,363.4 370.2,363.7 370.3,364.1 370.4,364.4 370.5,364.8 370.6,365.1 370.6,365.4 370.7,365.7 370.8,366.0 371.0,366.6 371.1,367.1 371.2,367.5 371.3,367.9 371.4,368.2 371.5,368.5 371.7,368.8 371.8,369.2 372.0,369.5 372.2,369.9 372.5,370.2 372.8,370.6 373.1,370.9 373.4,371.3 373.8,371.6 374.1,371.9 374.4,372.2 374.6,372.4 374.9,372.8 375.1,373.1 375.4,373.4 376.1,373.6 376.4,373.7 376.7,373.7 377.0,373.8 377.4,373.8 377.8,373.9 378.3,373.9 378.7,374.0 379.2,374.0 379.6,374.1 380.1,373.8" fill="none" stroke="#c040a0" stroke-width="0.95" stroke-linejoin="round" stroke-linecap="round" opacity="1.0" />
<polyline points="379.6,374.1 380.1,373.8 380.5,373.4 381.0,373.8 381.4,374.7 381.7,374.2 382.1,374.9 382.5,373.7 382.8,373.7 382.9,374.2 383.1,375.3 383.2,374.1 383.4,374.0 383.8,375.2 384.3,374.0 385.1,375.1 386.1,374.0 386.3,374.2 386.6,375.0 386.9,375.3 387.2,374.5 387.5,374.5 387.8,373.7 388.1,374.2 388.4,374.0 388.8,375.0 389.1,374.8 389.5,374.9 389.8,374.4 390.2,374.7 390.6,373.6 391.0,374.0 391.4,373.8 391.8,373.7 392.2,374.5 392.6,373.5 393.0,373.7 393.4,373.5 393.9,374.5 394.3,374.1 394.8,373.7 395.2,373.5 395.6,374.4 396.1,374.4 396.5,373.5 397.0,373.7 397.4,374.1 397.9,373.0 398.4,373.0 398.8,372.6 399.3,373.3 399.7,373.7 400.2,372.6 400.6,373.0 401.1,374.0 401.6,373.1 402.0,372.8 402.5,373.6 402.9,373.7 403.3,372.7 403.8,372.2 404.2,373.1 404.6,373.3 405.1,373.6 405.5,373.1 405.9,372.5 406.3,372.8 406.7,372.4 407.1,372.7 407.5,372.7 407.9,373.5 408.3,373.5 408.7,373.5 409.1,372.7 409.5,373.6 409.9,372.1 410.3,373.5 410.7,373.0 411.1,373.5 411.5,372.6 411.9,373.7 412.3,372.0 412.7,373.5 413.1,373.4 413.5,372.6 413.9,373.5 414.3,372.4 414.7,373.4 415.1,372.9 415.5,372.8 415.9,372.4 416.4,373.5 416.8,373.4 417.2,372.3 417.6,373.9 418.0,372.6 418.4,372.9 418.8,373.0 419.2,373.3 419.6,373.9 420.0,374.0 420.4,373.4 420.8,373.0 421.2,372.5 421.6,372.5 422.0,373.3 422.4,373.5 422.8,373.2 423.2,374.2 423.6,373.2 424.0,373.1 424.4,373.3 424.8,372.8 425.2,374.2 425.6,373.6 426.0,373.6 426.4,373.4 426.8,373.1 427.2,373.2 427.6,373.5 428.0,373.5 428.4,374.4 428.8,373.7 429.2,373.1 429.6,372.8 430.0,373.0 430.4,373.4 430.8,374.2 431.2,374.4 431.6,373.2 432.1,374.2 432.5,373.6 432.9,373.8 433.3,373.8 433.7,373.0 434.1,373.0 434.5,374.1 434.9,374.2 435.3,373.6 435.7,374.6 436.1,374.5 436.5,373.5 436.9,373.1 437.3,374.0 437.7,374.2 438.1,373.5 438.5,373.2 438.9,374.0 439.3,373.2 439.7,374.5 440.1,374.3 440.5,373.7 440.9,374.0 441.4,373.6 441.8,373.5 442.2,373.6 442.6,374.7 443.0,374.1 443.4,374.6 443.8,373.9 444.2,374.8 444.6,374.4 445.0,374.5 445.4,374.1 445.8,374.4 446.2,373.7 446.6,375.2 447.0,374.6 447.4,374.4 447.8,374.6 448.2,373.6 448.6,374.1 449.0,373.9 449.5,375.0 449.9,373.5 450.3,374.3 450.7,375.1 451.1,375.0 451.5,374.9 451.9,374.1 452.3,374.0 452.8,374.9 453.2,374.2 453.6,374.9 454.0,374.3 454.4,375.0 454.8,374.7 455.2,375.2 455.7,375.5 456.1,374.4 456.5,375.5 456.9,373.8 457.3,375.3 457.7,373.8 458.1,374.8 458.5,374.5 458.9,375.2 459.4,374.4 459.8,374.2 460.2,375.3 460.6,374.9 461.0,375.2 461.4,374.8 461.8,374.0 462.1,375.3 462.5,374.3 462.9,374.8 463.3,374.0 463.7,374.4 464.1,375.2 464.5,375.4 464.8,375.2 465.2,374.8 465.6,375.4 466.0,375.3 466.3,374.5 466.7,375.1 467.2,375.2 467.6,375.5 468.1,374.5 468.6,374.7 469.0,374.8 469.5,374.4 470.0,374.9 470.4,375.6 470.9,375.3 471.4,374.6 471.9,375.7 472.4,374.6 472.8,375.8 473.3,374.7 473.8,374.6 474.2,374.9 474.7,375.4 475.2,375.0 475.6,376.2 476.1,376.3 476.5,375.1 476.9,376.0 477.4,375.9 477.8,375.7 478.2,375.2 478.6,376.5 479.0,376.5 479.4,374.8 479.7,375.4 480.1,375.4 480.4,375.2 480.8,375.6 481.1,376.5 481.4,375.0 481.7,376.4 482.0,375.5 482.2,375.0 482.5,376.6 482.7,375.5 482.9,375.4" fill="none" stroke="#c040a0" stroke-width="1.1" stroke-linejoin="round" stroke-linecap="round" opacity="1.0" />
<polyline points="474.3,375.7 478,378.6 483.6,380" fill="none" stroke="#888" stroke-width="0.7"/>
<polyline points="518.7,376.1 522.7,376.1 522.7,375.9 522.7,375.7 522.7,375.5 522.7,375.2 522.7,375.0 522.7,374.7 522.7,374.5 522.7,374.2 522.7,374.0 522.7,373.7 522.8,373.4 522.8,373.1 522.8,372.8 522.8,372.5 522.8,372.2 522.8,371.9 522.8,371.6 522.8,371.2 522.8,370.9 522.8,370.6 522.8,370.2 522.8,369.9 522.8,369.5 522.8,369.1 522.8,368.8 522.9,368.4 522.9,368.0 522.9,367.6 522.9,367.2 522.9,366.8 522.9,366.4 522.9,366.0 522.9,365.6 522.9,365.2 522.9,364.8 522.9,364.4 522.9,364.0 523.0,363.5 523.0,363.1 523.0,362.7 523.0,362.2 523.0,361.8 523.0,361.4 523.0,360.9 523.0,360.5 523.0,360.0 523.0,359.6 523.0,359.1 523.1,358.7 523.1,358.2 523.1,357.7 523.1,357.3 523.1,356.8 523.1,356.3 523.1,355.9 523.1,355.4 523.1,354.9 523.1,354.5 523.1,354.0 523.2,353.5 523.2,353.1 523.2,352.6 523.2,352.1 523.2,351.7 523.2,351.2 523.2,350.7 523.2,350.2 523.2,349.8 523.2,349.3 523.2,348.8 523.3,348.4 523.3,347.9 523.3,347.4 523.3,347.0 523.3,346.5 523.3,346.0 523.3,345.6 523.3,345.1 523.3,344.7 523.3,344.2 523.3,343.8 523.3,343.3 523.4,342.9 523.4,342.4 523.4,342.0 523.4,341.5 523.4,341.1 523.4,340.7 523.4,340.2 523.4,339.8 523.4,339.4 523.4,339.0 523.4,338.5 523.4,338.1 523.5,337.7 523.5,337.3 523.5,336.9 523.5,336.5 523.5,336.1 523.5,335.8 523.5,335.4 523.5,335.0 523.5,334.6 523.5,334.1 523.5,333.7 523.5,333.2 523.5,332.8 523.5,332.3 523.6,331.9 523.6,331.4 523.6,331.0 523.6,330.5 523.6,330.1 523.6,329.6 523.6,329.2 523.6,328.7 523.6,328.2 523.6,327.8 523.6,327.3 523.6,326.9 523.6,326.4 523.6,325.9 523.6,325.5 523.6,325.0 523.7,324.5 523.7,324.1 523.7,323.6 523.7,323.2 523.7,322.7 523.7,322.2 523.7,321.8 523.7,321.3 523.7,320.9 523.7,320.4 523.7,319.9 523.7,319.5 523.7,319.0 523.7,318.6 523.7,318.1 523.7,317.7 523.8,317.2 523.8,316.8 523.8,316.4 523.8,315.9 523.8,315.5 523.8,315.0 523.8,314.6 523.8,314.2 523.8,313.7 523.8,313.3 523.8,312.9 523.8,312.5 523.8,312.1 523.8,311.6 523.8,311.2 523.8,310.8 523.8,310.4 523.8,310.0 523.8,309.6 523.9,309.2 523.9,308.8 523.9,308.5 523.9,308.1 523.9,307.7 523.9,307.3 523.9,307.0 523.9,306.6 523.9,306.2 523.9,305.9 523.9,305.5 523.9,305.2 523.9,304.9 523.9,304.5 523.9,304.2 523.9,303.9 523.9,303.6 523.9,303.3 523.9,302.9 523.9,302.6 524.0,302.4 524.0,302.1 524.0,301.8 524.0,301.5 524.0,301.2 524.0,301.0 524.0,300.7 524.0,300.5 524.0,300.2 524.0,300.0 524.0,298.6 524.1,297.5 524.1,296.6 524.1,295.9 524.1,295.4 524.2,295.0 524.2,294.8 524.2,294.7 524.3,294.7 524.3,294.7 524.3,294.7 524.4,294.8 524.4,294.8 524.4,294.9 524.5,295.0 524.6,295.3 524.6,295.6 524.7,296.0 524.7,296.5 524.8,297.0 524.9,297.5 524.9,298.0 525.0,298.5 525.1,299.1 525.1,299.5 525.2,300.0 525.3,300.4 525.3,300.8 525.4,301.1 525.5,301.5 525.5,301.9 525.6,302.3 525.7,302.7 525.7,303.2 525.8,303.6 525.9,304.0 525.9,304.4 526.0,304.8 526.1,305.2 526.1,305.6 526.2,306.0 526.3,306.4 526.3,306.7 526.4,307.0 526.4,307.3 526.4,307.6 526.5,307.8 526.5,308.1 526.6,308.4 526.6,308.7 526.7,309.1 526.7,309.5 526.8,310.0 526.8,310.6 526.8,311.3 526.9,312.0 526.9,312.3 526.9,312.6 527.0,312.9 527.0,313.2 527.0,313.5 527.0,313.9 527.0,314.2 527.0,314.6 527.1,315.0 527.1,315.3 527.1,315.7 527.1,316.1 527.1,316.6 527.2,317.0 527.2,317.4 527.2,317.8 527.2,318.3 527.3,318.7 527.3,319.2 527.3,319.6 527.3,320.1 527.3,320.5 527.4,321.0 527.4,321.4 527.4,321.9 527.4,322.3 527.4,322.8 527.5,323.3 527.5,323.7 527.5,324.1 527.5,324.6 527.5,325.0 527.6,325.5 527.6,325.9 527.6,326.3 527.6,326.7 527.6,327.1 527.7,327.5 527.7,327.9 527.7,328.3 527.7,328.7 527.7,329.0 527.8,329.4 527.8,329.7 527.8,330.0 527.8,330.5 527.9,331.1 527.9,331.6 527.9,332.0 528.0,332.5 528.0,332.9 528.0,333.3 528.1,333.7 528.1,334.1 528.1,334.5 528.2,334.8 528.2,335.2 528.2,335.5 528.3,335.9 528.3,336.2 528.3,336.6 528.3,336.9 528.4,337.3 528.4,337.6 528.4,338.0 528.5,338.4 528.5,338.7 528.5,339.1 528.6,339.6 528.6,340.0 528.6,340.4 528.7,340.8 528.7,341.1 528.7,341.5 528.7,341.9 528.7,342.3 528.8,342.7 528.8,343.1 528.8,343.6 528.8,344.0 528.8,344.4 528.9,344.8 528.9,345.2 528.9,345.7 528.9,346.1 528.9,346.5 529.0,346.9 529.0,347.3 529.0,347.8 529.0,348.2 529.1,348.6 529.1,349.0 529.1,349.4 529.2,349.8 529.2,350.2 529.2,350.6 529.3,351.0 529.3,351.4 529.4,351.8 529.4,352.2 529.5,352.6 529.5,353.1 529.6,353.5 529.6,354.0 529.7,354.4 529.8,354.8 529.8,355.3 529.9,355.7 530.0,356.2 530.1,356.6 530.1,357.0 530.2,357.5 530.3,357.9 530.4,358.3 530.5,358.7 530.6,359.1 530.6,359.5 530.7,359.9 530.8,360.3 530.9,360.7 531.0,361.0 531.1,361.4 531.2,361.7 531.3,362.0 531.4,362.3 531.5,362.6 531.7,363.1 531.9,363.6 532.1,364.1 532.3,364.5 532.6,364.8 532.8,365.1 533.0,365.4 533.3,365.7 533.5,365.9 533.8,366.2 534.1,366.4 534.3,366.6 534.6,366.8 535.0,367.0 535.4,367.2 535.8,367.4 536.2,367.5 536.6,367.6 537.1,367.6 537.5,367.7 537.9,367.7 538.4,367.8 538.8,367.8 539.2,367.9 539.6,367.9 539.9,368.0 540.3,367.3" fill="none" stroke="#3a6e9e" stroke-width="0.95" stroke-linejoin="round" stroke-linecap="round" opacity="1.0" />
<polyline points="539.6,367.9 539.9,368.0 540.3,367.3 540.6,367.8 541.0,367.4 541.4,367.5 541.9,367.5 542.4,368.1 543.0,367.7 543.3,367.4 543.6,367.7 544.0,368.1 544.3,367.9 544.6,367.1 545.0,368.0 545.4,367.7 545.8,367.2 546.2,366.9 546.6,366.5 547.0,366.0 547.4,367.2 547.8,366.6 548.2,365.5 548.6,366.9 549.1,366.6 549.5,364.9 550.0,366.0 550.4,365.0 550.9,365.3 551.3,365.7 551.6,364.7 552.0,364.8 552.3,365.0 552.7,364.0 553.0,364.6 553.4,364.1 553.8,364.9 554.1,363.3 554.5,364.1 554.9,362.7 555.3,363.0 555.7,362.5 556.0,362.4 556.4,362.9 556.8,362.1 557.2,363.0 557.6,361.6 558.0,362.4 558.4,362.6 558.7,361.1 559.1,361.1 559.5,361.9 559.9,361.2 560.3,361.9 560.7,360.7 561.0,360.6 561.4,361.5 561.8,360.2 562.2,361.2 562.6,360.9 563.0,359.5 563.3,360.0 563.7,360.5 564.1,358.9 564.5,360.1 564.9,359.8 565.3,359.6 565.7,359.2 566.0,358.1 566.4,359.6 566.8,357.9 567.2,359.0 567.6,358.7 568.0,357.8 568.3,358.4 568.7,357.8 569.1,358.2 569.5,356.8 569.9,358.3 570.3,357.2 570.7,357.8 571.0,357.1 571.4,357.6 571.8,356.6 572.2,356.9 572.6,355.8 573.0,356.6 573.3,355.7 573.7,357.0 574.1,356.6 574.4,356.0 574.7,356.9 575.1,356.8 575.4,356.7 575.8,355.1 576.1,356.1 576.4,356.1 576.8,355.8 577.2,354.6 577.5,356.2 577.9,355.2 578.3,355.4 578.7,355.7 579.1,354.7 579.6,354.1 580.0,355.6 580.5,354.4 581.0,353.8 581.6,353.9 582.1,355.3 582.7,354.7 583.0,353.7 583.3,353.5 583.6,354.8 583.9,354.3 584.3,354.1 584.6,353.2 584.9,353.7 585.3,354.6 585.6,352.8 586.0,353.5 586.4,352.7 586.7,354.3 587.1,352.7 587.5,354.1 587.9,353.8 588.2,353.5 588.6,352.2 589.0,353.3 589.4,352.9 589.8,352.8 590.2,352.1 590.6,352.6 591.0,353.1 591.5,351.8 591.9,353.0 592.3,352.1 592.7,351.8 593.1,351.6 593.6,352.0 594.0,352.2 594.4,352.0 594.8,352.5 595.3,351.7 595.7,351.6 596.1,352.4 596.5,350.9 597.0,350.5 597.4,351.0 597.8,350.8 598.2,350.4 598.7,350.9 599.1,350.1 599.5,351.6 599.9,350.7 600.3,351.4 600.8,351.0 601.2,351.0 601.6,350.9 602.0,350.0 602.4,350.7 602.8,349.7 603.2,350.3 603.6,350.3 604.0,350.5 604.4,349.4 604.8,349.6 605.2,350.4 605.6,350.3 606.0,350.5 606.4,348.9 606.8,349.0 607.3,348.8 607.7,349.8 608.1,349.8 608.5,349.5 608.9,349.7 609.3,349.1 609.7,349.2 610.1,349.7 610.5,349.2 611.0,349.1 611.4,348.9 611.8,348.7 612.2,349.1 612.6,348.7 613.0,347.8 613.4,348.3 613.8,348.2 614.2,348.2 614.7,348.4 615.1,348.0 615.5,347.9 615.9,347.9 616.3,347.8 616.7,348.8 617.1,347.2 617.5,347.0 617.9,348.2 618.3,347.5 618.7,347.6 619.1,347.8 619.5,347.3 619.9,347.0 620.3,346.6 620.7,348.1 621.1,348.1 621.5,346.9 621.8,347.2 622.2,346.9 622.6,346.3 623.0,347.8 623.4,347.6 623.8,346.5 624.1,346.5 624.5,347.3 624.9,347.4 625.4,346.7 625.8,346.5 626.3,346.2 626.8,347.2 627.2,347.3 627.7,347.2 628.2,345.8 628.6,346.6 629.1,347.3 629.6,346.8 630.0,346.3 630.5,345.7 631.0,345.5 631.4,346.7 631.9,345.4 632.4,346.7 632.8,346.4 633.3,346.0 633.8,346.8 634.2,346.8 634.7,346.2 635.1,345.2 635.5,346.1 636.0,345.8 636.4,345.4 636.8,346.6 637.2,346.2 637.6,345.1 638.0,345.3 638.4,345.5 638.7,345.9 639.1,345.4 639.4,345.6 639.8,346.2 640.1,345.1 640.4,346.0 640.7,345.3 641.0,346.4 641.3,346.4 641.5,345.2 641.8,345.7 642.0,344.8 642.2,345.3" fill="none" stroke="#3a6e9e" stroke-width="1.15" stroke-linejoin="round" stroke-linecap="round" opacity="1.0" />
<polyline points="518.7,376.1 522.7,376.1 522.7,375.9 522.7,375.7 522.7,375.5 522.7,375.2 522.7,375.0 522.7,374.7 522.7,374.5 522.7,374.2 522.7,374.0 522.7,373.7 522.8,373.4 522.8,373.1 522.8,372.8 522.8,372.5 522.8,372.2 522.8,371.9 522.8,371.6 522.8,371.2 522.8,370.9 522.8,370.6 522.8,370.2 522.8,369.9 522.8,369.5 522.8,369.1 522.8,368.8 522.9,368.4 522.9,368.0 522.9,367.6 522.9,367.2 522.9,366.8 522.9,366.4 522.9,366.0 522.9,365.6 522.9,365.2 522.9,364.8 522.9,364.4 522.9,364.0 523.0,363.5 523.0,363.1 523.0,362.7 523.0,362.2 523.0,361.8 523.0,361.4 523.0,360.9 523.0,360.5 523.0,360.0 523.0,359.6 523.0,359.1 523.1,358.7 523.1,358.2 523.1,357.7 523.1,357.3 523.1,356.8 523.1,356.3 523.1,355.9 523.1,355.4 523.1,354.9 523.1,354.5 523.1,354.0 523.2,353.5 523.2,353.1 523.2,352.6 523.2,352.1 523.2,351.7 523.2,351.2 523.2,350.7 523.2,350.2 523.2,349.8 523.2,349.3 523.2,348.8 523.3,348.4 523.3,347.9 523.3,347.4 523.3,347.0 523.3,346.5 523.3,346.0 523.3,345.6 523.3,345.1 523.3,344.7 523.3,344.2 523.3,343.8 523.3,343.3 523.4,342.9 523.4,342.4 523.4,342.0 523.4,341.5 523.4,341.1 523.4,340.7 523.4,340.2 523.4,339.8 523.4,339.4 523.4,339.0 523.4,338.5 523.4,338.1 523.5,337.7 523.5,337.3 523.5,336.9 523.5,336.5 523.5,336.1 523.5,335.8 523.5,335.4 523.5,335.0 523.5,334.6 523.5,334.1 523.5,333.7 523.5,333.2 523.5,332.8 523.5,332.3 523.6,331.9 523.6,331.4 523.6,331.0 523.6,330.5 523.6,330.1 523.6,329.6 523.6,329.2 523.6,328.7 523.6,328.2 523.6,327.8 523.6,327.3 523.6,326.9 523.6,326.4 523.6,325.9 523.6,325.5 523.6,325.0 523.7,324.5 523.7,324.1 523.7,323.6 523.7,323.2 523.7,322.7 523.7,322.2 523.7,321.8 523.7,321.3 523.7,320.9 523.7,320.4 523.7,319.9 523.7,319.5 523.7,319.0 523.7,318.6 523.7,318.1 523.7,317.7 523.8,317.2 523.8,316.8 523.8,316.4 523.8,315.9 523.8,315.5 523.8,315.0 523.8,314.6 523.8,314.2 523.8,313.7 523.8,313.3 523.8,312.9 523.8,312.5 523.8,312.1 523.8,311.6 523.8,311.2 523.8,310.8 523.8,310.4 523.8,310.0 523.8,309.6 523.9,309.2 523.9,308.8 523.9,308.5 523.9,308.1 523.9,307.7 523.9,307.3 523.9,307.0 523.9,306.6 523.9,306.2 523.9,305.9 523.9,305.5 523.9,305.2 523.9,304.9 523.9,304.5 523.9,304.2 523.9,303.9 523.9,303.6 523.9,303.3 523.9,302.9 523.9,302.6 524.0,302.4 524.0,302.1 524.0,301.8 524.0,301.5 524.0,301.2 524.0,301.0 524.0,300.7 524.0,300.5 524.0,300.2 524.0,300.0 524.0,298.6 524.1,297.5 524.1,296.6 524.1,295.9 524.1,295.4 524.2,295.0 524.2,294.8 524.2,294.7 524.3,294.7 524.3,294.7 524.3,294.7 524.4,294.8 524.4,294.8 524.4,294.9 524.5,295.0 524.6,295.3 524.6,295.6 524.7,296.0 524.7,296.5 524.8,297.0 524.9,297.5 524.9,298.0 525.0,298.5 525.1,299.1 525.1,299.5 525.2,300.0 525.3,300.4 525.3,300.8 525.4,301.1 525.5,301.5 525.5,301.9 525.6,302.3 525.7,302.7 525.7,303.2 525.8,303.6 525.9,304.0 525.9,304.4 526.0,304.8 526.1,305.2 526.1,305.6 526.2,306.0 526.3,306.4 526.3,306.7 526.4,307.0 526.4,307.3 526.4,307.6 526.5,307.8 526.5,308.1 526.6,308.4 526.6,308.7 526.7,309.1 526.7,309.5 526.8,310.0 526.8,310.6 526.8,311.3 526.9,312.0 526.9,312.3 526.9,312.6 527.0,312.9 527.0,313.2 527.0,313.5 527.0,313.9 527.0,314.2 527.0,314.6 527.1,315.0 527.1,315.3 527.1,315.7 527.1,316.1 527.1,316.6 527.2,317.0 527.2,317.4 527.2,317.8 527.2,318.3 527.3,318.7 527.3,319.2 527.3,319.6 527.3,320.1 527.3,320.5 527.4,321.0 527.4,321.4 527.4,321.9 527.4,322.3 527.4,322.8 527.5,323.3 527.5,323.7 527.5,324.1 527.5,324.6 527.5,325.0 527.6,325.5 527.6,325.9 527.6,326.3 527.6,326.7 527.6,327.1 527.7,327.5 527.7,327.9 527.7,328.3 527.7,328.7 527.7,329.0 527.8,329.4 527.8,329.7 527.8,330.0 527.8,330.5 527.9,331.1 527.9,331.6 527.9,332.0 528.0,332.5 528.0,332.9 528.0,333.3 528.1,333.7 528.1,334.1 528.1,334.5 528.2,334.8 528.2,335.2 528.2,335.5 528.3,335.9 528.3,336.2 528.3,336.6 528.3,336.9 528.4,337.3 528.4,337.6 528.4,338.0 528.5,338.4 528.5,338.7 528.5,339.1 528.6,339.6 528.6,340.0 528.6,340.4 528.7,340.8 528.7,341.1 528.7,341.5 528.7,341.9 528.7,342.3 528.8,342.7 528.8,343.1 528.8,343.6 528.8,344.0 528.8,344.4 528.9,344.8 528.9,345.2 528.9,345.7 528.9,346.1 528.9,346.5 529.0,346.9 529.0,347.3 529.0,347.8 529.0,348.2 529.1,348.6 529.1,349.0 529.1,349.4 529.2,349.8 529.2,350.2 529.2,350.6 529.3,351.0 529.3,351.4 529.4,351.8 529.4,352.2 529.5,352.6 529.5,353.1 529.6,353.5 529.6,354.0 529.7,354.4 529.8,354.8 529.8,355.3 529.9,355.7 530.0,356.2 530.1,356.6 530.1,357.0 530.2,357.5 530.3,357.9 530.4,358.3 530.5,358.7 530.6,359.1 530.6,359.5 530.7,359.9 530.8,360.3 530.9,360.7 531.0,361.0 531.1,361.4 531.2,361.7 531.3,362.0 531.4,362.3 531.5,362.6 531.7,363.1 531.9,363.6 532.1,364.1 532.3,364.5 532.6,364.8 532.8,365.1 533.0,365.4 533.3,365.7 533.5,365.9 533.8,366.2 534.1,366.4 534.3,366.6 534.6,366.8 535.0,367.0 535.4,367.2 535.8,367.4 536.2,367.5 536.6,367.6 537.1,367.7 537.5,367.7 537.9,367.8 538.4,367.8 538.8,367.8 539.2,367.8 539.6,367.8 539.9,367.8 540.3,368.0" fill="none" stroke="#e0287c" stroke-width="0.95" stroke-linejoin="round" stroke-linecap="round" opacity="1.0" />
<polyline points="539.6,367.8 539.9,367.8 540.3,368.0 540.6,368.0 541.0,367.4 541.4,366.7 541.9,366.7 542.4,367.2 543.0,366.2 543.2,366.3 543.5,366.7 543.8,367.0 544.0,366.1 544.3,365.5 544.6,365.9 544.9,365.1 545.2,365.8 545.5,364.4 545.8,364.3 546.1,364.4 546.4,365.0 546.8,363.4 547.1,363.2 547.4,362.8 547.8,362.6 548.1,362.6 548.4,362.4 548.8,362.8 549.2,361.9 549.5,361.7 549.9,361.3 550.2,361.7 550.6,361.7 550.9,360.6 551.3,361.3 551.6,359.8 551.9,360.9 552.3,359.9 552.6,360.0 552.9,359.2 553.3,358.8 553.6,358.3 553.9,359.5 554.3,358.3 554.6,358.7 555.0,358.0 555.3,357.9 555.7,357.1 556.1,356.8 556.4,356.9 556.8,357.3 557.1,356.9 557.5,355.7 557.9,356.7 558.2,356.0 558.6,355.2 558.9,355.3 559.3,355.0 559.7,355.9 560.0,355.2 560.4,354.7 560.7,354.3 561.1,354.3 561.5,354.1 561.8,354.0 562.2,354.7 562.6,354.5 563.0,354.2 563.3,354.4 563.7,353.8 564.1,352.7 564.5,352.4 564.9,352.5 565.3,352.6 565.7,352.9 566.0,353.3 566.4,352.8 566.8,352.4 567.2,352.0 567.6,353.2 568.0,352.7 568.3,351.8 568.7,351.2 569.1,352.8 569.5,351.4 569.9,352.3 570.3,350.9 570.7,351.8 571.0,351.2 571.4,352.0 571.8,350.8 572.2,350.4 572.6,350.4 572.9,351.4 573.3,351.6 573.7,350.9 574.0,350.9 574.3,350.1 574.7,350.0 575.0,349.5 575.3,351.0 575.6,349.3 576.0,350.2 576.3,349.6 576.6,349.2 577.0,349.6 577.3,350.4 577.7,349.0 578.0,348.8 578.4,349.5 578.8,349.5 579.2,349.1 579.7,348.4 580.1,349.6 580.6,348.1 581.1,348.1 581.6,348.1 582.1,348.5 582.7,348.4 583.0,348.4 583.3,348.7 583.6,348.9 584.0,348.1 584.3,347.3 584.6,348.7 585.0,347.1 585.3,347.6 585.7,347.3 586.1,348.0 586.4,348.3 586.8,347.1 587.2,347.3 587.6,348.2 588.0,347.9 588.4,346.8 588.8,347.8 589.2,347.9 589.6,347.2 590.0,346.6 590.4,347.5 590.8,346.8 591.2,346.4 591.7,346.4 592.1,346.8 592.5,346.2 592.9,346.6 593.4,346.9 593.8,346.8 594.2,346.5 594.7,347.2 595.1,345.8 595.5,346.2 596.0,347.2 596.4,347.1 596.8,347.1 597.3,346.8 597.7,346.3 598.1,346.7 598.6,346.2 599.0,345.4 599.4,345.6 599.9,345.2 600.3,346.6 600.7,345.5 601.1,345.6 601.5,345.8 602.0,345.0 602.4,346.0 602.8,346.1 603.2,346.1 603.6,346.2 604.0,345.1 604.4,344.8 604.8,345.8 605.2,345.7 605.6,345.0 606.0,344.9 606.4,344.5 606.8,345.7 607.3,345.0 607.7,345.6 608.1,344.7 608.5,344.6 608.9,344.9 609.3,345.3 609.7,345.5 610.1,344.5 610.5,345.0 611.0,344.5 611.4,345.3 611.8,345.0 612.2,344.6 612.6,344.2 613.0,344.0 613.4,345.1 613.8,344.9 614.2,344.0 614.7,343.5 615.1,343.7 615.5,345.0 615.9,343.3 616.3,344.7 616.7,344.1 617.1,344.1 617.5,344.1 617.9,343.8 618.3,344.0 618.7,343.1 619.1,344.6 619.5,343.1 619.9,343.1 620.3,344.0 620.7,344.0 621.1,344.2 621.5,344.0 621.8,344.4 622.2,342.8 622.6,342.7 623.0,343.0 623.4,344.0 623.8,342.8 624.1,343.5 624.5,343.9 624.9,342.8 625.4,343.4 625.8,344.0 626.3,343.7 626.8,343.1 627.2,343.2 627.7,342.8 628.2,344.0 628.6,343.7 629.1,343.5 629.6,342.8 630.0,343.5 630.5,343.1 631.0,343.6 631.4,342.8 631.9,343.7 632.4,343.4 632.8,342.9 633.3,343.1 633.8,343.5 634.2,343.0 634.7,343.8 635.1,342.1 635.5,343.7 636.0,343.3 636.4,342.9 636.8,343.5 637.2,342.3 637.6,342.6 638.0,343.3 638.4,343.5 638.7,342.7 639.1,343.8 639.4,343.1 639.8,342.0 640.1,342.2 640.4,342.1 640.7,343.0 641.0,342.5 641.3,342.4 641.5,342.7 641.8,342.1 642.0,343.5 642.2,343.4" fill="none" stroke="#e0287c" stroke-width="1.15" stroke-linejoin="round" stroke-linecap="round" opacity="1.0" />
<g transform="translate(22.90,61.45)"><text x="0" y="0" font-size="14.15" font-weight="normal" font-style="normal" text-anchor="middle" transform="scale(1.0,1) rotate(-90)" fill="#111" stroke="#111" stroke-width="0.32">Intensity (arb. units)</text></g>
<g transform="translate(22.90,196.55)"><text x="0" y="0" font-size="14.15" font-weight="normal" font-style="normal" text-anchor="middle" transform="scale(1.0,1) rotate(-90)" fill="#111" stroke="#111" stroke-width="0.32">Intensity (arb. units)</text></g>
<g transform="translate(22.90,333.85)"><text x="0" y="0" font-size="14.15" font-weight="normal" font-style="normal" text-anchor="middle" transform="scale(1.0,1) rotate(-90)" fill="#111" stroke="#111" stroke-width="0.32">Intensity (arb. units)</text></g>
<g transform="translate(346.40,139.30)"><text x="0" y="0" font-size="14.5" font-weight="normal" font-style="normal" text-anchor="middle" transform="scale(1.1,1)" fill="#111" stroke="#111" stroke-width="0.32">Time Gate(&#956;s)</text></g>
<g transform="translate(347.10,275.10)"><text x="0" y="0" font-size="14.5" font-weight="normal" font-style="normal" text-anchor="middle" transform="scale(1.1,1)" fill="#111" stroke="#111" stroke-width="0.32">Wavelength(nm)</text></g>
<g transform="translate(342.80,409.70)"><text x="0" y="0" font-size="14.5" font-weight="normal" font-style="normal" text-anchor="middle" transform="scale(1.1,1)" fill="#111" stroke="#111" stroke-width="0.32">Time (&#956;s)</text></g>
<g transform="translate(50.00,124.45)"><text x="0" y="0" font-size="14.5" font-weight="normal" font-style="normal" text-anchor="middle" transform="scale(1.1,1)" fill="#111" stroke="#111" stroke-width="0.32">0.1</text></g>
<g transform="translate(105.20,124.45)"><text x="0" y="0" font-size="14.5" font-weight="normal" font-style="normal" text-anchor="middle" transform="scale(1.1,1)" fill="#111" stroke="#111" stroke-width="0.32">10</text></g>
<g transform="translate(154.00,124.45)"><text x="0" y="0" font-size="14.5" font-weight="normal" font-style="normal" text-anchor="middle" transform="scale(1.1,1)" fill="#111" stroke="#111" stroke-width="0.32">40K</text></g>
<g transform="translate(222.75,124.45)"><text x="0" y="0" font-size="14.5" font-weight="normal" font-style="normal" text-anchor="middle" transform="scale(1.1,1)" fill="#111" stroke="#111" stroke-width="0.32">0.1</text></g>
<g transform="translate(269.70,124.45)"><text x="0" y="0" font-size="14.5" font-weight="normal" font-style="normal" text-anchor="middle" transform="scale(1.1,1)" fill="#111" stroke="#111" stroke-width="0.32">10</text></g>
<g transform="translate(318.95,124.45)"><text x="0" y="0" font-size="14.5" font-weight="normal" font-style="normal" text-anchor="middle" transform="scale(1.1,1)" fill="#111" stroke="#111" stroke-width="0.32">40K</text></g>
<g transform="translate(362.40,124.45)"><text x="0" y="0" font-size="14.5" font-weight="normal" font-style="normal" text-anchor="middle" transform="scale(1.1,1)" fill="#111" stroke="#111" stroke-width="0.32">0.1</text></g>
<g transform="translate(417.10,124.45)"><text x="0" y="0" font-size="14.5" font-weight="normal" font-style="normal" text-anchor="middle" transform="scale(1.1,1)" fill="#111" stroke="#111" stroke-width="0.32">10</text></g>
<g transform="translate(470.15,124.45)"><text x="0" y="0" font-size="14.5" font-weight="normal" font-style="normal" text-anchor="middle" transform="scale(1.1,1)" fill="#111" stroke="#111" stroke-width="0.32">40K</text></g>
<g transform="translate(531.15,125.85)"><text x="0" y="0" font-size="14.5" font-weight="normal" font-style="normal" text-anchor="middle" transform="scale(1.1,1)" fill="#111" stroke="#111" stroke-width="0.32">0.1</text></g>
<g transform="translate(585.45,125.85)"><text x="0" y="0" font-size="14.5" font-weight="normal" font-style="normal" text-anchor="middle" transform="scale(1.1,1)" fill="#111" stroke="#111" stroke-width="0.32">10</text></g>
<g transform="translate(638.50,125.85)"><text x="0" y="0" font-size="14.5" font-weight="normal" font-style="normal" text-anchor="middle" transform="scale(1.1,1)" fill="#111" stroke="#111" stroke-width="0.32">40K</text></g>
<g transform="translate(60.70,262.10)"><text x="0" y="0" font-size="14.5" font-weight="normal" font-style="normal" text-anchor="middle" transform="scale(1.1,1)" fill="#111" stroke="#111" stroke-width="0.32">572.4</text></g>
<g transform="translate(137.00,262.10)"><text x="0" y="0" font-size="14.5" font-weight="normal" font-style="normal" text-anchor="middle" transform="scale(1.1,1)" fill="#111" stroke="#111" stroke-width="0.32">612.4</text></g>
<g transform="translate(216.50,262.10)"><text x="0" y="0" font-size="14.5" font-weight="normal" font-style="normal" text-anchor="middle" transform="scale(1.1,1)" fill="#111" stroke="#111" stroke-width="0.32">572.4</text></g>
<g transform="translate(293.00,262.10)"><text x="0" y="0" font-size="14.5" font-weight="normal" font-style="normal" text-anchor="middle" transform="scale(1.1,1)" fill="#111" stroke="#111" stroke-width="0.32">612.4</text></g>
<g transform="translate(381.00,262.10)"><text x="0" y="0" font-size="14.5" font-weight="normal" font-style="normal" text-anchor="middle" transform="scale(1.1,1)" fill="#111" stroke="#111" stroke-width="0.32">567.4</text></g>
<g transform="translate(453.70,262.10)"><text x="0" y="0" font-size="14.5" font-weight="normal" font-style="normal" text-anchor="middle" transform="scale(1.1,1)" fill="#111" stroke="#111" stroke-width="0.32">607.4</text></g>
<g transform="translate(543.40,262.10)"><text x="0" y="0" font-size="14.5" font-weight="normal" font-style="normal" text-anchor="middle" transform="scale(1.1,1)" fill="#111" stroke="#111" stroke-width="0.32">567.4</text></g>
<g transform="translate(615.50,262.10)"><text x="0" y="0" font-size="14.5" font-weight="normal" font-style="normal" text-anchor="middle" transform="scale(1.1,1)" fill="#111" stroke="#111" stroke-width="0.32">607.4</text></g>
<g transform="translate(43.50,398.60)"><text x="0" y="0" font-size="14.5" font-weight="normal" font-style="normal" text-anchor="middle" transform="scale(1.1,1)" fill="#111" stroke="#111" stroke-width="0.32">0</text></g>
<g transform="translate(107.50,398.60)"><text x="0" y="0" font-size="14.5" font-weight="normal" font-style="normal" text-anchor="middle" transform="scale(1.1,1)" fill="#111" stroke="#111" stroke-width="0.32">10</text></g>
<g transform="translate(168.00,398.60)"><text x="0" y="0" font-size="14.5" font-weight="normal" font-style="normal" text-anchor="middle" transform="scale(1.1,1)" fill="#111" stroke="#111" stroke-width="0.32">20</text></g>
<g transform="translate(198.50,398.60)"><text x="0" y="0" font-size="14.5" font-weight="normal" font-style="normal" text-anchor="middle" transform="scale(1.1,1)" fill="#111" stroke="#111" stroke-width="0.32">0</text></g>
<g transform="translate(262.60,398.60)"><text x="0" y="0" font-size="14.5" font-weight="normal" font-style="normal" text-anchor="middle" transform="scale(1.1,1)" fill="#111" stroke="#111" stroke-width="0.32">10</text></g>
<g transform="translate(322.50,398.60)"><text x="0" y="0" font-size="14.5" font-weight="normal" font-style="normal" text-anchor="middle" transform="scale(1.1,1)" fill="#111" stroke="#111" stroke-width="0.32">20</text></g>
<g transform="translate(365.50,398.60)"><text x="0" y="0" font-size="14.5" font-weight="normal" font-style="normal" text-anchor="middle" transform="scale(1.1,1)" fill="#111" stroke="#111" stroke-width="0.32">0</text></g>
<g transform="translate(429.50,398.60)"><text x="0" y="0" font-size="14.5" font-weight="normal" font-style="normal" text-anchor="middle" transform="scale(1.1,1)" fill="#111" stroke="#111" stroke-width="0.32">10</text></g>
<g transform="translate(489.70,398.60)"><text x="0" y="0" font-size="14.5" font-weight="normal" font-style="normal" text-anchor="middle" transform="scale(1.1,1)" fill="#111" stroke="#111" stroke-width="0.32">20</text></g>
<g transform="translate(524.50,398.60)"><text x="0" y="0" font-size="14.5" font-weight="normal" font-style="normal" text-anchor="middle" transform="scale(1.1,1)" fill="#111" stroke="#111" stroke-width="0.32">0</text></g>
<g transform="translate(588.50,398.60)"><text x="0" y="0" font-size="14.5" font-weight="normal" font-style="normal" text-anchor="middle" transform="scale(1.1,1)" fill="#111" stroke="#111" stroke-width="0.32">10</text></g>
<g transform="translate(648.80,398.60)"><text x="0" y="0" font-size="14.5" font-weight="normal" font-style="normal" text-anchor="middle" transform="scale(1.1,1)" fill="#111" stroke="#111" stroke-width="0.32">20</text></g>
<g transform="translate(167.10,24.85)"><text x="0" y="0" font-size="14.5" font-weight="normal" font-style="normal" text-anchor="middle" transform="scale(1.1,1)" fill="#111" stroke="#111" stroke-width="0.32">(a)</text></g>
<g transform="translate(321.65,24.75)"><text x="0" y="0" font-size="14.5" font-weight="normal" font-style="normal" text-anchor="middle" transform="scale(1.1,1)" fill="#111" stroke="#111" stroke-width="0.32">(b)</text></g>
<g transform="translate(479.55,24.80)"><text x="0" y="0" font-size="14.5" font-weight="normal" font-style="normal" text-anchor="middle" transform="scale(1.1,1)" fill="#111" stroke="#111" stroke-width="0.32">(c)</text></g>
<g transform="translate(635.20,24.80)"><text x="0" y="0" font-size="14.5" font-weight="normal" font-style="normal" text-anchor="middle" transform="scale(1.1,1)" fill="#111" stroke="#111" stroke-width="0.32">(d)</text></g>
<g transform="translate(169.45,157.95)"><text x="0" y="0" font-size="14.5" font-weight="normal" font-style="normal" text-anchor="middle" transform="scale(1.1,1)" fill="#111" stroke="#111" stroke-width="0.32">(e)</text></g>
<g transform="translate(326.10,158.55)"><text x="0" y="0" font-size="14.5" font-weight="normal" font-style="normal" text-anchor="middle" transform="scale(1.1,1)" fill="#111" stroke="#111" stroke-width="0.32">(f)</text></g>
<g transform="translate(488.25,157.95)"><text x="0" y="0" font-size="14.5" font-weight="normal" font-style="normal" text-anchor="middle" transform="scale(1.1,1)" fill="#111" stroke="#111" stroke-width="0.32">(g)</text></g>
<g transform="translate(646.15,157.95)"><text x="0" y="0" font-size="14.5" font-weight="normal" font-style="normal" text-anchor="middle" transform="scale(1.1,1)" fill="#111" stroke="#111" stroke-width="0.32">(h)</text></g>
<g transform="translate(169.30,296.55)"><text x="0" y="0" font-size="14.5" font-weight="normal" font-style="normal" text-anchor="middle" transform="scale(1.1,1)" fill="#111" stroke="#111" stroke-width="0.32">(i)</text></g>
<g transform="translate(324.00,296.50)"><text x="0" y="0" font-size="14.5" font-weight="normal" font-style="normal" text-anchor="middle" transform="scale(1.1,1)" fill="#111" stroke="#111" stroke-width="0.32">(j)</text></g>
<g transform="translate(475.20,300.80)"><text x="0" y="0" font-size="14.5" font-weight="normal" font-style="normal" text-anchor="middle" transform="scale(1.1,1)" fill="#111" stroke="#111" stroke-width="0.32">(k)</text></g>
<g transform="translate(642.95,299.15)"><text x="0" y="0" font-size="14.5" font-weight="normal" font-style="normal" text-anchor="middle" transform="scale(1.1,1)" fill="#111" stroke="#111" stroke-width="0.32">(l)</text></g>
<g transform="translate(97.60,28.50)"><text x="0" y="0" font-size="13.2" font-style="italic" fill="#111" stroke="#111" stroke-width="0.2" transform="scale(1.1,1)">E</text></g>
<g transform="translate(105.50,32.45)"><text x="0" y="0" font-size="7.6" fill="#111" stroke="#111" stroke-width="0.15" transform="scale(1.1,1)">1</text></g>
<g transform="translate(234.30,23.50)"><text x="0" y="0" font-size="13.2" font-style="italic" fill="#111" stroke="#111" stroke-width="0.2" transform="scale(1.1,1)">E</text></g>
<g transform="translate(242.50,27.00)"><text x="0" y="0" font-size="7.6" fill="#111" stroke="#111" stroke-width="0.15" transform="scale(1.1,1)">1</text></g>
<g transform="translate(248.80,25.05)"><text x="0" y="0" font-size="13.2" fill="#111" stroke="#111" stroke-width="0.15" transform="scale(1.1,1)">+</text></g>
<g transform="translate(260.75,23.50)"><text x="0" y="0" font-size="13.2" font-style="italic" fill="#111" stroke="#111" stroke-width="0.2" transform="scale(1.1,1)">E</text></g>
<g transform="translate(269.55,27.85)"><text x="0" y="0" font-size="7.6" fill="#111" stroke="#111" stroke-width="0.15" transform="scale(1.1,1)">2</text></g>
<g transform="translate(409.65,28.65)"><text x="0" y="0" font-size="13.2" font-style="italic" fill="#111" stroke="#111" stroke-width="0.2" transform="scale(1.1,1)">E</text></g>
<g transform="translate(418.15,32.40)"><text x="0" y="0" font-size="7.6" fill="#111" stroke="#111" stroke-width="0.15" transform="scale(1.1,1)">2</text></g>
<g transform="translate(564.70,29.00)"><text x="0" y="0" font-size="13.2" font-style="italic" fill="#111" stroke="#111" stroke-width="0.2" transform="scale(1.1,1)">E</text></g>
<g transform="translate(573.60,33.15)"><text x="0" y="0" font-size="7.6" fill="#111" stroke="#111" stroke-width="0.15" transform="scale(1.1,1)">2</text></g>
<g transform="translate(580.40,30.50)"><text x="0" y="0" font-size="13.2" fill="#111" stroke="#111" stroke-width="0.15" transform="scale(1.1,1)">+</text></g>
<g transform="translate(592.15,29.00)"><text x="0" y="0" font-size="13.2" font-style="italic" fill="#111" stroke="#111" stroke-width="0.2" transform="scale(1.1,1)">E</text></g>
<g transform="translate(599.90,32.45)"><text x="0" y="0" font-size="7.6" fill="#111" stroke="#111" stroke-width="0.15" transform="scale(1.1,1)">1</text></g>
<g transform="translate(144.30,163.90)"><text x="0" y="0" font-size="9.6" font-weight="normal" font-style="normal" text-anchor="middle" transform="scale(1.1,1)" fill="#b0408e" stroke="#b0408e" stroke-width="0.05">(e1)</text></g>
<g transform="translate(145.45,187.05)"><text x="0" y="0" font-size="9.6" font-weight="normal" font-style="normal" text-anchor="middle" transform="scale(1.1,1)" fill="#62a8e2" stroke="#62a8e2" stroke-width="0.05">(e2)</text></g>
<g transform="translate(146.85,220.05)"><text x="0" y="0" font-size="9.6" font-weight="normal" font-style="normal" text-anchor="middle" transform="scale(1.1,1)" fill="#52a852" stroke="#52a852" stroke-width="0.05">(e3)</text></g>
<g transform="translate(146.00,234.30)"><text x="0" y="0" font-size="9.6" font-weight="normal" font-style="normal" text-anchor="middle" transform="scale(1.1,1)" fill="#b0408e" stroke="#b0408e" stroke-width="0.05">(e4)</text></g>
<g transform="translate(303.75,165.60)"><text x="0" y="0" font-size="9.6" font-weight="normal" font-style="normal" text-anchor="middle" transform="scale(1.1,1)" fill="#b0408e" stroke="#b0408e" stroke-width="0.05">(f1)</text></g>
<g transform="translate(304.35,188.50)"><text x="0" y="0" font-size="9.6" font-weight="normal" font-style="normal" text-anchor="middle" transform="scale(1.1,1)" fill="#62a8e2" stroke="#62a8e2" stroke-width="0.05">(f2)</text></g>
<g transform="translate(305.60,211.30)"><text x="0" y="0" font-size="9.6" font-weight="normal" font-style="normal" text-anchor="middle" transform="scale(1.1,1)" fill="#52a852" stroke="#52a852" stroke-width="0.05">(f3)</text></g>
<g transform="translate(304.35,229.00)"><text x="0" y="0" font-size="9.6" font-weight="normal" font-style="normal" text-anchor="middle" transform="scale(1.1,1)" fill="#b0408e" stroke="#b0408e" stroke-width="0.05">(f4)</text></g>
<g transform="translate(462.35,168.35)"><text x="0" y="0" font-size="9.6" font-weight="normal" font-style="normal" text-anchor="middle" transform="scale(1.1,1)" fill="#b0408e" stroke="#b0408e" stroke-width="0.05">(g1)</text></g>
<g transform="translate(462.70,184.00)"><text x="0" y="0" font-size="9.6" font-weight="normal" font-style="normal" text-anchor="middle" transform="scale(1.1,1)" fill="#62a8e2" stroke="#62a8e2" stroke-width="0.05">(g2)</text></g>
<g transform="translate(463.25,205.60)"><text x="0" y="0" font-size="9.6" font-weight="normal" font-style="normal" text-anchor="middle" transform="scale(1.1,1)" fill="#52a852" stroke="#52a852" stroke-width="0.05">(g3)</text></g>
<g transform="translate(463.25,222.00)"><text x="0" y="0" font-size="9.6" font-weight="normal" font-style="normal" text-anchor="middle" transform="scale(1.1,1)" fill="#b0408e" stroke="#b0408e" stroke-width="0.05">(g4)</text></g>
<g transform="translate(623.60,169.20)"><text x="0" y="0" font-size="9.6" font-weight="normal" font-style="normal" text-anchor="middle" transform="scale(1.1,1)" fill="#b0408e" stroke="#b0408e" stroke-width="0.05">(h1)</text></g>
<g transform="translate(624.25,195.05)"><text x="0" y="0" font-size="9.6" font-weight="normal" font-style="normal" text-anchor="middle" transform="scale(1.1,1)" fill="#62a8e2" stroke="#62a8e2" stroke-width="0.05">(h2)</text></g>
<g transform="translate(624.25,219.80)"><text x="0" y="0" font-size="9.6" font-weight="normal" font-style="normal" text-anchor="middle" transform="scale(1.1,1)" fill="#52a852" stroke="#52a852" stroke-width="0.05">(h3)</text></g>
<g transform="translate(624.25,234.10)"><text x="0" y="0" font-size="9.6" font-weight="normal" font-style="normal" text-anchor="middle" transform="scale(1.1,1)" fill="#b0408e" stroke="#b0408e" stroke-width="0.05">(h4)</text></g>
<g transform="translate(166.85,333.90)"><text x="0" y="0" font-size="10" font-weight="normal" font-style="normal" text-anchor="middle" transform="scale(1.1,1)" fill="#d83474" stroke="#d83474" stroke-width="0.05">(i1)</text></g>
<g transform="translate(173.55,345.30)"><text x="0" y="0" font-size="10" font-weight="normal" font-style="normal" text-anchor="middle" transform="scale(1.1,1)" fill="#3a6a3a" stroke="#3a6a3a" stroke-width="0.05">(i3)</text></g>
<g transform="translate(171.55,357.25)"><text x="0" y="0" font-size="10" font-weight="normal" font-style="normal" text-anchor="middle" transform="scale(1.1,1)" fill="#4a80d0" stroke="#4a80d0" stroke-width="0.05">(i2)</text></g>
<g transform="translate(169.55,365.15)"><text x="0" y="0" font-size="10" font-weight="normal" font-style="normal" text-anchor="middle" transform="scale(1.1,1)" fill="#c050a8" stroke="#c050a8" stroke-width="0.05">(i4)</text></g>
<g transform="translate(322.55,342.45)"><text x="0" y="0" font-size="10" font-weight="normal" font-style="normal" text-anchor="middle" transform="scale(1.1,1)" fill="#e070a8" stroke="#e070a8" stroke-width="0.05">(j1)</text></g>
<g transform="translate(323.55,359.80)"><text x="0" y="0" font-size="10" font-weight="normal" font-style="normal" text-anchor="middle" transform="scale(1.1,1)" fill="#5a7a6a" stroke="#5a7a6a" stroke-width="0.05">(j2)</text></g>
<g transform="translate(471.75,353.60)"><text x="0" y="0" font-size="10" font-weight="normal" font-style="normal" text-anchor="middle" transform="scale(1.1,1)" fill="#a03880" stroke="#a03880" stroke-width="0.05">(k1)</text></g>
<g transform="translate(472.75,367.70)"><text x="0" y="0" font-size="10" font-weight="normal" font-style="normal" text-anchor="middle" transform="scale(1.1,1)" fill="#4a60c8" stroke="#4a60c8" stroke-width="0.05">(k3)</text></g>
<g transform="translate(492.05,373.70)"><text x="0" y="0" font-size="10" font-weight="normal" font-style="normal" text-anchor="middle" transform="scale(1.1,1)" fill="#e070a0" stroke="#e070a0" stroke-width="0.05">(k2)</text></g>
<g transform="translate(492.05,381.85)"><text x="0" y="0" font-size="10" font-weight="normal" font-style="normal" text-anchor="middle" transform="scale(1.1,1)" fill="#111" stroke="#111" stroke-width="0.05">(k4)</text></g>
<g transform="translate(627.40,339.55)"><text x="0" y="0" font-size="10" font-weight="normal" font-style="normal" text-anchor="middle" transform="scale(1.1,1)" fill="#e0508a" stroke="#e0508a" stroke-width="0.05">(l1)</text></g>
<g transform="translate(628.35,358.10)"><text x="0" y="0" font-size="10" font-weight="normal" font-style="normal" text-anchor="middle" transform="scale(1.1,1)" fill="#5a7a6a" stroke="#5a7a6a" stroke-width="0.05">(l2)</text></g>
<rect x="0" y="0" width="670" height="1.5" fill="#589fdb"/>
<rect x="0" y="0" width="2" height="419" fill="#589fdb"/>
<rect x="667.9" y="0" width="2.1" height="419" fill="#589fdb"/>
<rect x="0" y="416.7" width="670" height="2.3" fill="#589fdb"/>
</svg>
</body></html>
